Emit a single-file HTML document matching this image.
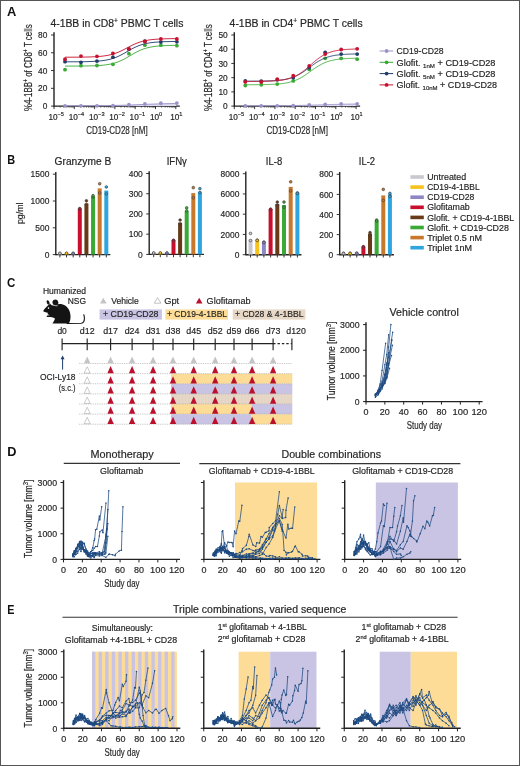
<!DOCTYPE html>
<html><head><meta charset="utf-8"><style>
html,body{margin:0;padding:0;background:#fff;}
svg{display:block;will-change:transform;}
text{font-family:"Liberation Sans",sans-serif;}
</style></head><body>
<svg width="520" height="766" viewBox="0 0 520 766">
<rect x="0" y="0" width="520" height="766" fill="#fff"/>
<text x="6.90" y="15.80" font-size="12.8" text-anchor="start" fill="#111" font-weight="bold" textLength="9.3" lengthAdjust="spacingAndGlyphs">A</text>
<text x="50.40" y="26.80" font-size="10.0" text-anchor="start" fill="#262626" font-weight="normal" stroke="#262626" stroke-width="0.18" textLength="133" lengthAdjust="spacingAndGlyphs">4-1BB in CD8<tspan font-size="6.4" dy="-3.8">+</tspan><tspan dy="3.8"> PBMC T cells</tspan></text>
<text x="229.60" y="26.80" font-size="10.0" text-anchor="start" fill="#262626" font-weight="normal" stroke="#262626" stroke-width="0.18" textLength="133" lengthAdjust="spacingAndGlyphs">4-1BB in CD4<tspan font-size="6.4" dy="-3.8">+</tspan><tspan dy="3.8"> PBMC T cells</tspan></text>
<line x1="54.00" y1="32.20" x2="54.00" y2="106.70" stroke="#222222" stroke-width="1.4"/>
<line x1="51.00" y1="106.10" x2="54.00" y2="106.10" stroke="#222222" stroke-width="0.9"/>
<text x="47.40" y="109.20" font-size="8.8" text-anchor="end" fill="#262626" font-weight="normal" stroke="#262626" stroke-width="0.18" textLength="4.65" lengthAdjust="spacingAndGlyphs">0</text>
<line x1="51.00" y1="88.32" x2="54.00" y2="88.32" stroke="#222222" stroke-width="0.9"/>
<text x="47.40" y="91.42" font-size="8.8" text-anchor="end" fill="#262626" font-weight="normal" stroke="#262626" stroke-width="0.18" textLength="9.3" lengthAdjust="spacingAndGlyphs">20</text>
<line x1="51.00" y1="70.55" x2="54.00" y2="70.55" stroke="#222222" stroke-width="0.9"/>
<text x="47.40" y="73.65" font-size="8.8" text-anchor="end" fill="#262626" font-weight="normal" stroke="#262626" stroke-width="0.18" textLength="9.3" lengthAdjust="spacingAndGlyphs">40</text>
<line x1="51.00" y1="52.77" x2="54.00" y2="52.77" stroke="#222222" stroke-width="0.9"/>
<text x="47.40" y="55.88" font-size="8.8" text-anchor="end" fill="#262626" font-weight="normal" stroke="#262626" stroke-width="0.18" textLength="9.3" lengthAdjust="spacingAndGlyphs">60</text>
<line x1="51.00" y1="35.00" x2="54.00" y2="35.00" stroke="#222222" stroke-width="0.9"/>
<text x="47.40" y="38.10" font-size="8.8" text-anchor="end" fill="#262626" font-weight="normal" stroke="#262626" stroke-width="0.18" textLength="9.3" lengthAdjust="spacingAndGlyphs">80</text>
<line x1="54.00" y1="106.10" x2="179.80" y2="106.10" stroke="#222222" stroke-width="1.4"/>
<line x1="54.00" y1="106.10" x2="54.00" y2="109.10" stroke="#222222" stroke-width="0.9"/>
<line x1="60.11" y1="106.10" x2="60.11" y2="107.70" stroke="#222222" stroke-width="0.6"/>
<line x1="63.69" y1="106.10" x2="63.69" y2="107.70" stroke="#222222" stroke-width="0.6"/>
<line x1="66.22" y1="106.10" x2="66.22" y2="107.70" stroke="#222222" stroke-width="0.6"/>
<line x1="68.19" y1="106.10" x2="68.19" y2="107.70" stroke="#222222" stroke-width="0.6"/>
<line x1="69.80" y1="106.10" x2="69.80" y2="107.70" stroke="#222222" stroke-width="0.6"/>
<line x1="71.16" y1="106.10" x2="71.16" y2="107.70" stroke="#222222" stroke-width="0.6"/>
<line x1="72.33" y1="106.10" x2="72.33" y2="107.70" stroke="#222222" stroke-width="0.6"/>
<line x1="73.37" y1="106.10" x2="73.37" y2="107.70" stroke="#222222" stroke-width="0.6"/>
<text x="48.40" y="119.60" font-size="8.2" text-anchor="start" fill="#262626" font-weight="normal" stroke="#262626" stroke-width="0.18">10<tspan font-size="5.6" dy="-3.6">−5</tspan></text>
<line x1="74.30" y1="106.10" x2="74.30" y2="109.10" stroke="#222222" stroke-width="0.9"/>
<line x1="80.41" y1="106.10" x2="80.41" y2="107.70" stroke="#222222" stroke-width="0.6"/>
<line x1="83.99" y1="106.10" x2="83.99" y2="107.70" stroke="#222222" stroke-width="0.6"/>
<line x1="86.52" y1="106.10" x2="86.52" y2="107.70" stroke="#222222" stroke-width="0.6"/>
<line x1="88.49" y1="106.10" x2="88.49" y2="107.70" stroke="#222222" stroke-width="0.6"/>
<line x1="90.10" y1="106.10" x2="90.10" y2="107.70" stroke="#222222" stroke-width="0.6"/>
<line x1="91.46" y1="106.10" x2="91.46" y2="107.70" stroke="#222222" stroke-width="0.6"/>
<line x1="92.63" y1="106.10" x2="92.63" y2="107.70" stroke="#222222" stroke-width="0.6"/>
<line x1="93.67" y1="106.10" x2="93.67" y2="107.70" stroke="#222222" stroke-width="0.6"/>
<text x="68.70" y="119.60" font-size="8.2" text-anchor="start" fill="#262626" font-weight="normal" stroke="#262626" stroke-width="0.18">10<tspan font-size="5.6" dy="-3.6">−4</tspan></text>
<line x1="94.60" y1="106.10" x2="94.60" y2="109.10" stroke="#222222" stroke-width="0.9"/>
<line x1="100.71" y1="106.10" x2="100.71" y2="107.70" stroke="#222222" stroke-width="0.6"/>
<line x1="104.29" y1="106.10" x2="104.29" y2="107.70" stroke="#222222" stroke-width="0.6"/>
<line x1="106.82" y1="106.10" x2="106.82" y2="107.70" stroke="#222222" stroke-width="0.6"/>
<line x1="108.79" y1="106.10" x2="108.79" y2="107.70" stroke="#222222" stroke-width="0.6"/>
<line x1="110.40" y1="106.10" x2="110.40" y2="107.70" stroke="#222222" stroke-width="0.6"/>
<line x1="111.76" y1="106.10" x2="111.76" y2="107.70" stroke="#222222" stroke-width="0.6"/>
<line x1="112.93" y1="106.10" x2="112.93" y2="107.70" stroke="#222222" stroke-width="0.6"/>
<line x1="113.97" y1="106.10" x2="113.97" y2="107.70" stroke="#222222" stroke-width="0.6"/>
<text x="89.00" y="119.60" font-size="8.2" text-anchor="start" fill="#262626" font-weight="normal" stroke="#262626" stroke-width="0.18">10<tspan font-size="5.6" dy="-3.6">−3</tspan></text>
<line x1="114.90" y1="106.10" x2="114.90" y2="109.10" stroke="#222222" stroke-width="0.9"/>
<line x1="121.01" y1="106.10" x2="121.01" y2="107.70" stroke="#222222" stroke-width="0.6"/>
<line x1="124.59" y1="106.10" x2="124.59" y2="107.70" stroke="#222222" stroke-width="0.6"/>
<line x1="127.12" y1="106.10" x2="127.12" y2="107.70" stroke="#222222" stroke-width="0.6"/>
<line x1="129.09" y1="106.10" x2="129.09" y2="107.70" stroke="#222222" stroke-width="0.6"/>
<line x1="130.70" y1="106.10" x2="130.70" y2="107.70" stroke="#222222" stroke-width="0.6"/>
<line x1="132.06" y1="106.10" x2="132.06" y2="107.70" stroke="#222222" stroke-width="0.6"/>
<line x1="133.23" y1="106.10" x2="133.23" y2="107.70" stroke="#222222" stroke-width="0.6"/>
<line x1="134.27" y1="106.10" x2="134.27" y2="107.70" stroke="#222222" stroke-width="0.6"/>
<text x="109.30" y="119.60" font-size="8.2" text-anchor="start" fill="#262626" font-weight="normal" stroke="#262626" stroke-width="0.18">10<tspan font-size="5.6" dy="-3.6">−2</tspan></text>
<line x1="135.20" y1="106.10" x2="135.20" y2="109.10" stroke="#222222" stroke-width="0.9"/>
<line x1="141.31" y1="106.10" x2="141.31" y2="107.70" stroke="#222222" stroke-width="0.6"/>
<line x1="144.89" y1="106.10" x2="144.89" y2="107.70" stroke="#222222" stroke-width="0.6"/>
<line x1="147.42" y1="106.10" x2="147.42" y2="107.70" stroke="#222222" stroke-width="0.6"/>
<line x1="149.39" y1="106.10" x2="149.39" y2="107.70" stroke="#222222" stroke-width="0.6"/>
<line x1="151.00" y1="106.10" x2="151.00" y2="107.70" stroke="#222222" stroke-width="0.6"/>
<line x1="152.36" y1="106.10" x2="152.36" y2="107.70" stroke="#222222" stroke-width="0.6"/>
<line x1="153.53" y1="106.10" x2="153.53" y2="107.70" stroke="#222222" stroke-width="0.6"/>
<line x1="154.57" y1="106.10" x2="154.57" y2="107.70" stroke="#222222" stroke-width="0.6"/>
<text x="129.60" y="119.60" font-size="8.2" text-anchor="start" fill="#262626" font-weight="normal" stroke="#262626" stroke-width="0.18">10<tspan font-size="5.6" dy="-3.6">−1</tspan></text>
<line x1="155.50" y1="106.10" x2="155.50" y2="109.10" stroke="#222222" stroke-width="0.9"/>
<line x1="161.61" y1="106.10" x2="161.61" y2="107.70" stroke="#222222" stroke-width="0.6"/>
<line x1="165.19" y1="106.10" x2="165.19" y2="107.70" stroke="#222222" stroke-width="0.6"/>
<line x1="167.72" y1="106.10" x2="167.72" y2="107.70" stroke="#222222" stroke-width="0.6"/>
<line x1="169.69" y1="106.10" x2="169.69" y2="107.70" stroke="#222222" stroke-width="0.6"/>
<line x1="171.30" y1="106.10" x2="171.30" y2="107.70" stroke="#222222" stroke-width="0.6"/>
<line x1="172.66" y1="106.10" x2="172.66" y2="107.70" stroke="#222222" stroke-width="0.6"/>
<line x1="173.83" y1="106.10" x2="173.83" y2="107.70" stroke="#222222" stroke-width="0.6"/>
<line x1="174.87" y1="106.10" x2="174.87" y2="107.70" stroke="#222222" stroke-width="0.6"/>
<text x="149.90" y="119.60" font-size="8.2" text-anchor="start" fill="#262626" font-weight="normal" stroke="#262626" stroke-width="0.18">10<tspan font-size="5.6" dy="-3.6">0</tspan></text>
<line x1="175.80" y1="106.10" x2="175.80" y2="109.10" stroke="#222222" stroke-width="0.9"/>
<text x="170.20" y="119.60" font-size="8.2" text-anchor="start" fill="#262626" font-weight="normal" stroke="#262626" stroke-width="0.18">10<tspan font-size="5.6" dy="-3.6">1</tspan></text>
<text x="116.90" y="134.40" font-size="10.8" text-anchor="middle" fill="#262626" font-weight="normal" stroke="#262626" stroke-width="0.18" textLength="61.5" lengthAdjust="spacingAndGlyphs">CD19-CD28 [nM]</text>
<text transform="translate(31.70,67.70) rotate(-90)" x="0" y="0" font-size="10.0" text-anchor="middle" fill="#262626" stroke="#262626" stroke-width="0.18" textLength="86.8" lengthAdjust="spacingAndGlyphs">%4-1BB<tspan font-size="6.5" dy="-3.6">+</tspan><tspan dy="3.6"> of CD8</tspan><tspan font-size="6.5" dy="-3.6">+</tspan><tspan dy="3.6"> T cells</tspan></text>
<polygon points="65.00,105.81 66.00,105.81 67.00,105.81 68.00,105.81 69.00,105.81 70.00,105.81 71.00,105.81 72.00,105.80 73.00,105.80 74.00,105.80 75.00,105.80 76.00,105.79 77.00,105.79 78.00,105.79 79.00,105.79 80.00,105.78 81.00,105.78 82.00,105.78 83.00,105.77 84.00,105.77 85.00,105.77 86.00,105.76 87.00,105.76 88.00,105.75 89.00,105.75 90.00,105.74 91.00,105.73 92.00,105.73 93.00,105.72 94.00,105.71 95.00,105.71 96.00,105.70 97.00,105.69 98.00,105.68 99.00,105.67 100.00,105.66 101.00,105.65 102.00,105.64 103.00,105.63 104.00,105.62 105.00,105.60 106.00,105.59 107.00,105.58 108.00,105.56 109.00,105.54 110.00,105.53 111.00,105.51 112.00,105.49 113.00,105.47 114.00,105.45 115.00,105.43 116.00,105.41 117.00,105.38 118.00,105.36 119.00,105.33 120.00,105.31 121.00,105.28 122.00,105.25 123.00,105.22 124.00,105.19 125.00,105.16 126.00,105.13 127.00,105.10 128.00,105.06 129.00,105.03 130.00,104.99 131.00,104.95 132.00,104.92 133.00,104.88 134.00,104.84 135.00,104.80 136.00,104.76 137.00,104.72 138.00,104.68 139.00,104.64 140.00,104.60 141.00,104.56 142.00,104.52 143.00,104.47 144.00,104.43 145.00,104.39 146.00,104.35 147.00,104.31 148.00,104.27 149.00,104.23 150.00,104.19 151.00,104.16 152.00,104.12 153.00,104.08 154.00,104.05 155.00,104.01 156.00,103.98 157.00,103.95 158.00,103.91 159.00,103.88 160.00,103.85 161.00,103.82 162.00,103.80 163.00,103.77 164.00,103.74 165.00,103.72 166.00,103.70 167.00,103.67 168.00,103.65 169.00,103.63 170.00,103.61 171.00,103.59 172.00,103.57 173.00,103.56 174.00,103.54 175.00,103.52 176.00,103.51 176.00,106.10 65.00,106.10" fill="#dedaf0"/>
<polyline points="65.00,105.81 66.00,105.81 67.00,105.81 68.00,105.81 69.00,105.81 70.00,105.81 71.00,105.81 72.00,105.80 73.00,105.80 74.00,105.80 75.00,105.80 76.00,105.79 77.00,105.79 78.00,105.79 79.00,105.79 80.00,105.78 81.00,105.78 82.00,105.78 83.00,105.77 84.00,105.77 85.00,105.77 86.00,105.76 87.00,105.76 88.00,105.75 89.00,105.75 90.00,105.74 91.00,105.73 92.00,105.73 93.00,105.72 94.00,105.71 95.00,105.71 96.00,105.70 97.00,105.69 98.00,105.68 99.00,105.67 100.00,105.66 101.00,105.65 102.00,105.64 103.00,105.63 104.00,105.62 105.00,105.60 106.00,105.59 107.00,105.58 108.00,105.56 109.00,105.54 110.00,105.53 111.00,105.51 112.00,105.49 113.00,105.47 114.00,105.45 115.00,105.43 116.00,105.41 117.00,105.38 118.00,105.36 119.00,105.33 120.00,105.31 121.00,105.28 122.00,105.25 123.00,105.22 124.00,105.19 125.00,105.16 126.00,105.13 127.00,105.10 128.00,105.06 129.00,105.03 130.00,104.99 131.00,104.95 132.00,104.92 133.00,104.88 134.00,104.84 135.00,104.80 136.00,104.76 137.00,104.72 138.00,104.68 139.00,104.64 140.00,104.60 141.00,104.56 142.00,104.52 143.00,104.47 144.00,104.43 145.00,104.39 146.00,104.35 147.00,104.31 148.00,104.27 149.00,104.23 150.00,104.19 151.00,104.16 152.00,104.12 153.00,104.08 154.00,104.05 155.00,104.01 156.00,103.98 157.00,103.95 158.00,103.91 159.00,103.88 160.00,103.85 161.00,103.82 162.00,103.80 163.00,103.77 164.00,103.74 165.00,103.72 166.00,103.70 167.00,103.67 168.00,103.65 169.00,103.63 170.00,103.61 171.00,103.59 172.00,103.57 173.00,103.56 174.00,103.54 175.00,103.52 176.00,103.51" fill="none" stroke="#9a93c8" stroke-width="0.9"/>
<circle cx="65.00" cy="105.83" r="1.9" fill="#9a93c8" stroke="none" stroke-width="0.6"/>
<circle cx="80.98" cy="105.83" r="1.9" fill="#9a93c8" stroke="none" stroke-width="0.6"/>
<circle cx="96.96" cy="105.83" r="1.9" fill="#9a93c8" stroke="none" stroke-width="0.6"/>
<circle cx="112.94" cy="105.66" r="1.9" fill="#9a93c8" stroke="none" stroke-width="0.6"/>
<circle cx="128.92" cy="104.77" r="1.9" fill="#9a93c8" stroke="none" stroke-width="0.6"/>
<circle cx="144.90" cy="103.88" r="1.9" fill="#9a93c8" stroke="none" stroke-width="0.6"/>
<circle cx="160.88" cy="103.26" r="1.9" fill="#9a93c8" stroke="none" stroke-width="0.6"/>
<circle cx="176.86" cy="103.08" r="1.9" fill="#9a93c8" stroke="none" stroke-width="0.6"/>
<polyline points="65.00,66.09 66.00,66.09 67.00,66.09 68.00,66.09 69.00,66.09 70.00,66.08 71.00,66.08 72.00,66.08 73.00,66.07 74.00,66.07 75.00,66.07 76.00,66.06 77.00,66.06 78.00,66.05 79.00,66.04 80.00,66.04 81.00,66.03 82.00,66.02 83.00,66.01 84.00,65.99 85.00,65.98 86.00,65.97 87.00,65.95 88.00,65.93 89.00,65.91 90.00,65.89 91.00,65.86 92.00,65.83 93.00,65.80 94.00,65.76 95.00,65.72 96.00,65.68 97.00,65.63 98.00,65.57 99.00,65.51 100.00,65.44 101.00,65.36 102.00,65.28 103.00,65.18 104.00,65.08 105.00,64.96 106.00,64.83 107.00,64.69 108.00,64.53 109.00,64.36 110.00,64.17 111.00,63.96 112.00,63.73 113.00,63.48 114.00,63.21 115.00,62.92 116.00,62.60 117.00,62.26 118.00,61.89 119.00,61.49 120.00,61.07 121.00,60.63 122.00,60.16 123.00,59.66 124.00,59.15 125.00,58.61 126.00,58.06 127.00,57.49 128.00,56.91 129.00,56.33 130.00,55.74 131.00,55.15 132.00,54.56 133.00,53.98 134.00,53.41 135.00,52.85 136.00,52.31 137.00,51.79 138.00,51.29 139.00,50.81 140.00,50.36 141.00,49.94 142.00,49.54 143.00,49.16 144.00,48.81 145.00,48.49 146.00,48.19 147.00,47.91 148.00,47.66 149.00,47.42 150.00,47.21 151.00,47.01 152.00,46.84 153.00,46.68 154.00,46.53 155.00,46.40 156.00,46.28 157.00,46.17 158.00,46.07 159.00,45.98 160.00,45.91 161.00,45.83 162.00,45.77 163.00,45.71 164.00,45.66 165.00,45.61 166.00,45.57 167.00,45.54 168.00,45.50 169.00,45.47 170.00,45.45 171.00,45.42 172.00,45.40 173.00,45.38 174.00,45.36 175.00,45.35 176.00,45.34" fill="none" stroke="#3aa935" stroke-width="0.9"/>
<circle cx="65.00" cy="69.66" r="1.9" fill="#3aa935" stroke="none" stroke-width="0.6"/>
<circle cx="80.98" cy="65.66" r="1.9" fill="#3aa935" stroke="none" stroke-width="0.6"/>
<circle cx="96.96" cy="65.48" r="1.9" fill="#3aa935" stroke="none" stroke-width="0.6"/>
<circle cx="112.94" cy="64.33" r="1.9" fill="#3aa935" stroke="none" stroke-width="0.6"/>
<circle cx="128.92" cy="53.66" r="1.9" fill="#3aa935" stroke="none" stroke-width="0.6"/>
<circle cx="144.90" cy="45.22" r="1.9" fill="#3aa935" stroke="none" stroke-width="0.6"/>
<circle cx="160.88" cy="45.22" r="1.9" fill="#3aa935" stroke="none" stroke-width="0.6"/>
<circle cx="176.86" cy="45.66" r="1.9" fill="#3aa935" stroke="none" stroke-width="0.6"/>
<polyline points="65.00,61.82 66.00,61.82 67.00,61.82 68.00,61.81 69.00,61.81 70.00,61.81 71.00,61.80 72.00,61.80 73.00,61.80 74.00,61.79 75.00,61.78 76.00,61.78 77.00,61.77 78.00,61.76 79.00,61.75 80.00,61.74 81.00,61.73 82.00,61.72 83.00,61.70 84.00,61.69 85.00,61.67 86.00,61.65 87.00,61.62 88.00,61.60 89.00,61.57 90.00,61.54 91.00,61.50 92.00,61.46 93.00,61.42 94.00,61.37 95.00,61.31 96.00,61.25 97.00,61.19 98.00,61.11 99.00,61.03 100.00,60.93 101.00,60.83 102.00,60.71 103.00,60.59 104.00,60.45 105.00,60.29 106.00,60.12 107.00,59.93 108.00,59.73 109.00,59.51 110.00,59.26 111.00,58.99 112.00,58.71 113.00,58.39 114.00,58.06 115.00,57.69 116.00,57.31 117.00,56.89 118.00,56.46 119.00,56.00 120.00,55.51 121.00,55.01 122.00,54.48 123.00,53.94 124.00,53.39 125.00,52.82 126.00,52.24 127.00,51.67 128.00,51.09 129.00,50.51 130.00,49.94 131.00,49.39 132.00,48.84 133.00,48.31 134.00,47.81 135.00,47.32 136.00,46.85 137.00,46.41 138.00,46.00 139.00,45.61 140.00,45.24 141.00,44.90 142.00,44.58 143.00,44.29 144.00,44.02 145.00,43.77 146.00,43.54 147.00,43.34 148.00,43.15 149.00,42.97 150.00,42.82 151.00,42.67 152.00,42.55 153.00,42.43 154.00,42.32 155.00,42.23 156.00,42.14 157.00,42.07 158.00,42.00 159.00,41.93 160.00,41.88 161.00,41.83 162.00,41.78 163.00,41.74 164.00,41.71 165.00,41.67 166.00,41.64 167.00,41.62 168.00,41.60 169.00,41.57 170.00,41.56 171.00,41.54 172.00,41.52 173.00,41.51 174.00,41.50 175.00,41.49 176.00,41.48" fill="none" stroke="#1e3d6b" stroke-width="0.9"/>
<circle cx="65.00" cy="61.66" r="1.9" fill="#1e3d6b" stroke="none" stroke-width="0.6"/>
<circle cx="80.98" cy="62.28" r="1.9" fill="#1e3d6b" stroke="none" stroke-width="0.6"/>
<circle cx="96.96" cy="61.04" r="1.9" fill="#1e3d6b" stroke="none" stroke-width="0.6"/>
<circle cx="112.94" cy="57.22" r="1.9" fill="#1e3d6b" stroke="none" stroke-width="0.6"/>
<circle cx="128.92" cy="49.22" r="1.9" fill="#1e3d6b" stroke="none" stroke-width="0.6"/>
<circle cx="144.90" cy="41.22" r="1.9" fill="#1e3d6b" stroke="none" stroke-width="0.6"/>
<circle cx="160.88" cy="42.11" r="1.9" fill="#1e3d6b" stroke="none" stroke-width="0.6"/>
<circle cx="176.86" cy="41.84" r="1.9" fill="#1e3d6b" stroke="none" stroke-width="0.6"/>
<polyline points="65.00,57.20 66.00,57.20 67.00,57.20 68.00,57.20 69.00,57.19 70.00,57.19 71.00,57.19 72.00,57.18 73.00,57.18 74.00,57.17 75.00,57.17 76.00,57.16 77.00,57.15 78.00,57.15 79.00,57.14 80.00,57.13 81.00,57.12 82.00,57.11 83.00,57.09 84.00,57.08 85.00,57.06 86.00,57.04 87.00,57.02 88.00,57.00 89.00,56.97 90.00,56.94 91.00,56.91 92.00,56.87 93.00,56.83 94.00,56.79 95.00,56.74 96.00,56.68 97.00,56.62 98.00,56.55 99.00,56.47 100.00,56.39 101.00,56.29 102.00,56.19 103.00,56.07 104.00,55.95 105.00,55.81 106.00,55.65 107.00,55.48 108.00,55.29 109.00,55.09 110.00,54.86 111.00,54.62 112.00,54.36 113.00,54.07 114.00,53.76 115.00,53.43 116.00,53.08 117.00,52.70 118.00,52.30 119.00,51.88 120.00,51.44 121.00,50.98 122.00,50.50 123.00,50.01 124.00,49.50 125.00,48.98 126.00,48.46 127.00,47.93 128.00,47.40 129.00,46.88 130.00,46.36 131.00,45.85 132.00,45.35 133.00,44.87 134.00,44.41 135.00,43.96 136.00,43.54 137.00,43.13 138.00,42.75 139.00,42.40 140.00,42.06 141.00,41.75 142.00,41.46 143.00,41.19 144.00,40.95 145.00,40.72 146.00,40.51 147.00,40.32 148.00,40.15 149.00,39.99 150.00,39.85 151.00,39.72 152.00,39.60 153.00,39.50 154.00,39.40 155.00,39.31 156.00,39.23 157.00,39.16 158.00,39.10 159.00,39.04 160.00,38.99 161.00,38.95 162.00,38.91 163.00,38.87 164.00,38.84 165.00,38.81 166.00,38.78 167.00,38.76 168.00,38.73 169.00,38.72 170.00,38.70 171.00,38.68 172.00,38.67 173.00,38.66 174.00,38.65 175.00,38.64 176.00,38.63" fill="none" stroke="#c8102e" stroke-width="0.9"/>
<circle cx="65.00" cy="59.26" r="1.9" fill="#c8102e" stroke="none" stroke-width="0.6"/>
<circle cx="80.98" cy="56.06" r="1.9" fill="#c8102e" stroke="none" stroke-width="0.6"/>
<circle cx="96.96" cy="56.33" r="1.9" fill="#c8102e" stroke="none" stroke-width="0.6"/>
<circle cx="112.94" cy="53.31" r="1.9" fill="#c8102e" stroke="none" stroke-width="0.6"/>
<circle cx="128.92" cy="48.78" r="1.9" fill="#c8102e" stroke="none" stroke-width="0.6"/>
<circle cx="144.90" cy="41.49" r="1.9" fill="#c8102e" stroke="none" stroke-width="0.6"/>
<circle cx="160.88" cy="39.00" r="1.9" fill="#c8102e" stroke="none" stroke-width="0.6"/>
<circle cx="176.86" cy="39.00" r="1.9" fill="#c8102e" stroke="none" stroke-width="0.6"/>
<line x1="234.30" y1="32.20" x2="234.30" y2="106.70" stroke="#222222" stroke-width="1.4"/>
<line x1="231.30" y1="106.10" x2="234.30" y2="106.10" stroke="#222222" stroke-width="0.9"/>
<text x="227.70" y="109.20" font-size="8.8" text-anchor="end" fill="#262626" font-weight="normal" stroke="#262626" stroke-width="0.18" textLength="4.65" lengthAdjust="spacingAndGlyphs">0</text>
<line x1="231.30" y1="91.88" x2="234.30" y2="91.88" stroke="#222222" stroke-width="0.9"/>
<text x="227.70" y="94.98" font-size="8.8" text-anchor="end" fill="#262626" font-weight="normal" stroke="#262626" stroke-width="0.18" textLength="9.3" lengthAdjust="spacingAndGlyphs">10</text>
<line x1="231.30" y1="77.66" x2="234.30" y2="77.66" stroke="#222222" stroke-width="0.9"/>
<text x="227.70" y="80.76" font-size="8.8" text-anchor="end" fill="#262626" font-weight="normal" stroke="#262626" stroke-width="0.18" textLength="9.3" lengthAdjust="spacingAndGlyphs">20</text>
<line x1="231.30" y1="63.44" x2="234.30" y2="63.44" stroke="#222222" stroke-width="0.9"/>
<text x="227.70" y="66.54" font-size="8.8" text-anchor="end" fill="#262626" font-weight="normal" stroke="#262626" stroke-width="0.18" textLength="9.3" lengthAdjust="spacingAndGlyphs">30</text>
<line x1="231.30" y1="49.22" x2="234.30" y2="49.22" stroke="#222222" stroke-width="0.9"/>
<text x="227.70" y="52.32" font-size="8.8" text-anchor="end" fill="#262626" font-weight="normal" stroke="#262626" stroke-width="0.18" textLength="9.3" lengthAdjust="spacingAndGlyphs">40</text>
<line x1="231.30" y1="35.00" x2="234.30" y2="35.00" stroke="#222222" stroke-width="0.9"/>
<text x="227.70" y="38.10" font-size="8.8" text-anchor="end" fill="#262626" font-weight="normal" stroke="#262626" stroke-width="0.18" textLength="9.3" lengthAdjust="spacingAndGlyphs">50</text>
<line x1="234.30" y1="106.10" x2="360.10" y2="106.10" stroke="#222222" stroke-width="1.4"/>
<line x1="234.30" y1="106.10" x2="234.30" y2="109.10" stroke="#222222" stroke-width="0.9"/>
<line x1="240.41" y1="106.10" x2="240.41" y2="107.70" stroke="#222222" stroke-width="0.6"/>
<line x1="243.99" y1="106.10" x2="243.99" y2="107.70" stroke="#222222" stroke-width="0.6"/>
<line x1="246.52" y1="106.10" x2="246.52" y2="107.70" stroke="#222222" stroke-width="0.6"/>
<line x1="248.49" y1="106.10" x2="248.49" y2="107.70" stroke="#222222" stroke-width="0.6"/>
<line x1="250.10" y1="106.10" x2="250.10" y2="107.70" stroke="#222222" stroke-width="0.6"/>
<line x1="251.46" y1="106.10" x2="251.46" y2="107.70" stroke="#222222" stroke-width="0.6"/>
<line x1="252.63" y1="106.10" x2="252.63" y2="107.70" stroke="#222222" stroke-width="0.6"/>
<line x1="253.67" y1="106.10" x2="253.67" y2="107.70" stroke="#222222" stroke-width="0.6"/>
<text x="228.70" y="119.60" font-size="8.2" text-anchor="start" fill="#262626" font-weight="normal" stroke="#262626" stroke-width="0.18">10<tspan font-size="5.6" dy="-3.6">−5</tspan></text>
<line x1="254.60" y1="106.10" x2="254.60" y2="109.10" stroke="#222222" stroke-width="0.9"/>
<line x1="260.71" y1="106.10" x2="260.71" y2="107.70" stroke="#222222" stroke-width="0.6"/>
<line x1="264.29" y1="106.10" x2="264.29" y2="107.70" stroke="#222222" stroke-width="0.6"/>
<line x1="266.82" y1="106.10" x2="266.82" y2="107.70" stroke="#222222" stroke-width="0.6"/>
<line x1="268.79" y1="106.10" x2="268.79" y2="107.70" stroke="#222222" stroke-width="0.6"/>
<line x1="270.40" y1="106.10" x2="270.40" y2="107.70" stroke="#222222" stroke-width="0.6"/>
<line x1="271.76" y1="106.10" x2="271.76" y2="107.70" stroke="#222222" stroke-width="0.6"/>
<line x1="272.93" y1="106.10" x2="272.93" y2="107.70" stroke="#222222" stroke-width="0.6"/>
<line x1="273.97" y1="106.10" x2="273.97" y2="107.70" stroke="#222222" stroke-width="0.6"/>
<text x="249.00" y="119.60" font-size="8.2" text-anchor="start" fill="#262626" font-weight="normal" stroke="#262626" stroke-width="0.18">10<tspan font-size="5.6" dy="-3.6">−4</tspan></text>
<line x1="274.90" y1="106.10" x2="274.90" y2="109.10" stroke="#222222" stroke-width="0.9"/>
<line x1="281.01" y1="106.10" x2="281.01" y2="107.70" stroke="#222222" stroke-width="0.6"/>
<line x1="284.59" y1="106.10" x2="284.59" y2="107.70" stroke="#222222" stroke-width="0.6"/>
<line x1="287.12" y1="106.10" x2="287.12" y2="107.70" stroke="#222222" stroke-width="0.6"/>
<line x1="289.09" y1="106.10" x2="289.09" y2="107.70" stroke="#222222" stroke-width="0.6"/>
<line x1="290.70" y1="106.10" x2="290.70" y2="107.70" stroke="#222222" stroke-width="0.6"/>
<line x1="292.06" y1="106.10" x2="292.06" y2="107.70" stroke="#222222" stroke-width="0.6"/>
<line x1="293.23" y1="106.10" x2="293.23" y2="107.70" stroke="#222222" stroke-width="0.6"/>
<line x1="294.27" y1="106.10" x2="294.27" y2="107.70" stroke="#222222" stroke-width="0.6"/>
<text x="269.30" y="119.60" font-size="8.2" text-anchor="start" fill="#262626" font-weight="normal" stroke="#262626" stroke-width="0.18">10<tspan font-size="5.6" dy="-3.6">−3</tspan></text>
<line x1="295.20" y1="106.10" x2="295.20" y2="109.10" stroke="#222222" stroke-width="0.9"/>
<line x1="301.31" y1="106.10" x2="301.31" y2="107.70" stroke="#222222" stroke-width="0.6"/>
<line x1="304.89" y1="106.10" x2="304.89" y2="107.70" stroke="#222222" stroke-width="0.6"/>
<line x1="307.42" y1="106.10" x2="307.42" y2="107.70" stroke="#222222" stroke-width="0.6"/>
<line x1="309.39" y1="106.10" x2="309.39" y2="107.70" stroke="#222222" stroke-width="0.6"/>
<line x1="311.00" y1="106.10" x2="311.00" y2="107.70" stroke="#222222" stroke-width="0.6"/>
<line x1="312.36" y1="106.10" x2="312.36" y2="107.70" stroke="#222222" stroke-width="0.6"/>
<line x1="313.53" y1="106.10" x2="313.53" y2="107.70" stroke="#222222" stroke-width="0.6"/>
<line x1="314.57" y1="106.10" x2="314.57" y2="107.70" stroke="#222222" stroke-width="0.6"/>
<text x="289.60" y="119.60" font-size="8.2" text-anchor="start" fill="#262626" font-weight="normal" stroke="#262626" stroke-width="0.18">10<tspan font-size="5.6" dy="-3.6">−2</tspan></text>
<line x1="315.50" y1="106.10" x2="315.50" y2="109.10" stroke="#222222" stroke-width="0.9"/>
<line x1="321.61" y1="106.10" x2="321.61" y2="107.70" stroke="#222222" stroke-width="0.6"/>
<line x1="325.19" y1="106.10" x2="325.19" y2="107.70" stroke="#222222" stroke-width="0.6"/>
<line x1="327.72" y1="106.10" x2="327.72" y2="107.70" stroke="#222222" stroke-width="0.6"/>
<line x1="329.69" y1="106.10" x2="329.69" y2="107.70" stroke="#222222" stroke-width="0.6"/>
<line x1="331.30" y1="106.10" x2="331.30" y2="107.70" stroke="#222222" stroke-width="0.6"/>
<line x1="332.66" y1="106.10" x2="332.66" y2="107.70" stroke="#222222" stroke-width="0.6"/>
<line x1="333.83" y1="106.10" x2="333.83" y2="107.70" stroke="#222222" stroke-width="0.6"/>
<line x1="334.87" y1="106.10" x2="334.87" y2="107.70" stroke="#222222" stroke-width="0.6"/>
<text x="309.90" y="119.60" font-size="8.2" text-anchor="start" fill="#262626" font-weight="normal" stroke="#262626" stroke-width="0.18">10<tspan font-size="5.6" dy="-3.6">−1</tspan></text>
<line x1="335.80" y1="106.10" x2="335.80" y2="109.10" stroke="#222222" stroke-width="0.9"/>
<line x1="341.91" y1="106.10" x2="341.91" y2="107.70" stroke="#222222" stroke-width="0.6"/>
<line x1="345.49" y1="106.10" x2="345.49" y2="107.70" stroke="#222222" stroke-width="0.6"/>
<line x1="348.02" y1="106.10" x2="348.02" y2="107.70" stroke="#222222" stroke-width="0.6"/>
<line x1="349.99" y1="106.10" x2="349.99" y2="107.70" stroke="#222222" stroke-width="0.6"/>
<line x1="351.60" y1="106.10" x2="351.60" y2="107.70" stroke="#222222" stroke-width="0.6"/>
<line x1="352.96" y1="106.10" x2="352.96" y2="107.70" stroke="#222222" stroke-width="0.6"/>
<line x1="354.13" y1="106.10" x2="354.13" y2="107.70" stroke="#222222" stroke-width="0.6"/>
<line x1="355.17" y1="106.10" x2="355.17" y2="107.70" stroke="#222222" stroke-width="0.6"/>
<text x="330.20" y="119.60" font-size="8.2" text-anchor="start" fill="#262626" font-weight="normal" stroke="#262626" stroke-width="0.18">10<tspan font-size="5.6" dy="-3.6">0</tspan></text>
<line x1="356.10" y1="106.10" x2="356.10" y2="109.10" stroke="#222222" stroke-width="0.9"/>
<text x="350.50" y="119.60" font-size="8.2" text-anchor="start" fill="#262626" font-weight="normal" stroke="#262626" stroke-width="0.18">10<tspan font-size="5.6" dy="-3.6">1</tspan></text>
<text x="297.20" y="134.40" font-size="10.8" text-anchor="middle" fill="#262626" font-weight="normal" stroke="#262626" stroke-width="0.18" textLength="61.5" lengthAdjust="spacingAndGlyphs">CD19-CD28 [nM]</text>
<text transform="translate(212.00,67.70) rotate(-90)" x="0" y="0" font-size="10.0" text-anchor="middle" fill="#262626" stroke="#262626" stroke-width="0.18" textLength="86.8" lengthAdjust="spacingAndGlyphs">%4-1BB<tspan font-size="6.5" dy="-3.6">+</tspan><tspan dy="3.6"> of CD4</tspan><tspan font-size="6.5" dy="-3.6">+</tspan><tspan dy="3.6"> T cells</tspan></text>
<polygon points="245.30,105.80 246.30,105.80 247.30,105.80 248.30,105.80 249.30,105.80 250.30,105.80 251.30,105.79 252.30,105.79 253.30,105.79 254.30,105.79 255.30,105.79 256.30,105.79 257.30,105.78 258.30,105.78 259.30,105.78 260.30,105.78 261.30,105.77 262.30,105.77 263.30,105.77 264.30,105.77 265.30,105.76 266.30,105.76 267.30,105.76 268.30,105.75 269.30,105.75 270.30,105.74 271.30,105.74 272.30,105.73 273.30,105.73 274.30,105.72 275.30,105.72 276.30,105.71 277.30,105.71 278.30,105.70 279.30,105.69 280.30,105.68 281.30,105.68 282.30,105.67 283.30,105.66 284.30,105.65 285.30,105.64 286.30,105.63 287.30,105.62 288.30,105.60 289.30,105.59 290.30,105.58 291.30,105.57 292.30,105.55 293.30,105.54 294.30,105.52 295.30,105.50 296.30,105.49 297.30,105.47 298.30,105.45 299.30,105.43 300.30,105.41 301.30,105.39 302.30,105.37 303.30,105.34 304.30,105.32 305.30,105.30 306.30,105.27 307.30,105.25 308.30,105.22 309.30,105.19 310.30,105.17 311.30,105.14 312.30,105.11 313.30,105.08 314.30,105.05 315.30,105.02 316.30,104.99 317.30,104.96 318.30,104.92 319.30,104.89 320.30,104.86 321.30,104.83 322.30,104.80 323.30,104.77 324.30,104.73 325.30,104.70 326.30,104.67 327.30,104.64 328.30,104.61 329.30,104.58 330.30,104.55 331.30,104.52 332.30,104.49 333.30,104.46 334.30,104.44 335.30,104.41 336.30,104.38 337.30,104.36 338.30,104.33 339.30,104.31 340.30,104.29 341.30,104.26 342.30,104.24 343.30,104.22 344.30,104.20 345.30,104.18 346.30,104.16 347.30,104.15 348.30,104.13 349.30,104.11 350.30,104.10 351.30,104.08 352.30,104.07 353.30,104.06 354.30,104.04 355.30,104.03 356.30,104.02 356.30,106.10 245.30,106.10" fill="#dedaf0"/>
<polyline points="245.30,105.80 246.30,105.80 247.30,105.80 248.30,105.80 249.30,105.80 250.30,105.80 251.30,105.79 252.30,105.79 253.30,105.79 254.30,105.79 255.30,105.79 256.30,105.79 257.30,105.78 258.30,105.78 259.30,105.78 260.30,105.78 261.30,105.77 262.30,105.77 263.30,105.77 264.30,105.77 265.30,105.76 266.30,105.76 267.30,105.76 268.30,105.75 269.30,105.75 270.30,105.74 271.30,105.74 272.30,105.73 273.30,105.73 274.30,105.72 275.30,105.72 276.30,105.71 277.30,105.71 278.30,105.70 279.30,105.69 280.30,105.68 281.30,105.68 282.30,105.67 283.30,105.66 284.30,105.65 285.30,105.64 286.30,105.63 287.30,105.62 288.30,105.60 289.30,105.59 290.30,105.58 291.30,105.57 292.30,105.55 293.30,105.54 294.30,105.52 295.30,105.50 296.30,105.49 297.30,105.47 298.30,105.45 299.30,105.43 300.30,105.41 301.30,105.39 302.30,105.37 303.30,105.34 304.30,105.32 305.30,105.30 306.30,105.27 307.30,105.25 308.30,105.22 309.30,105.19 310.30,105.17 311.30,105.14 312.30,105.11 313.30,105.08 314.30,105.05 315.30,105.02 316.30,104.99 317.30,104.96 318.30,104.92 319.30,104.89 320.30,104.86 321.30,104.83 322.30,104.80 323.30,104.77 324.30,104.73 325.30,104.70 326.30,104.67 327.30,104.64 328.30,104.61 329.30,104.58 330.30,104.55 331.30,104.52 332.30,104.49 333.30,104.46 334.30,104.44 335.30,104.41 336.30,104.38 337.30,104.36 338.30,104.33 339.30,104.31 340.30,104.29 341.30,104.26 342.30,104.24 343.30,104.22 344.30,104.20 345.30,104.18 346.30,104.16 347.30,104.15 348.30,104.13 349.30,104.11 350.30,104.10 351.30,104.08 352.30,104.07 353.30,104.06 354.30,104.04 355.30,104.03 356.30,104.02" fill="none" stroke="#9a93c8" stroke-width="0.9"/>
<circle cx="245.30" cy="105.82" r="1.9" fill="#9a93c8" stroke="none" stroke-width="0.6"/>
<circle cx="261.28" cy="105.82" r="1.9" fill="#9a93c8" stroke="none" stroke-width="0.6"/>
<circle cx="277.26" cy="105.82" r="1.9" fill="#9a93c8" stroke="none" stroke-width="0.6"/>
<circle cx="293.24" cy="105.67" r="1.9" fill="#9a93c8" stroke="none" stroke-width="0.6"/>
<circle cx="309.22" cy="104.96" r="1.9" fill="#9a93c8" stroke="none" stroke-width="0.6"/>
<circle cx="325.20" cy="104.39" r="1.9" fill="#9a93c8" stroke="none" stroke-width="0.6"/>
<circle cx="341.18" cy="103.97" r="1.9" fill="#9a93c8" stroke="none" stroke-width="0.6"/>
<circle cx="357.16" cy="103.82" r="1.9" fill="#9a93c8" stroke="none" stroke-width="0.6"/>
<polyline points="245.30,84.75 246.30,84.74 247.30,84.74 248.30,84.74 249.30,84.73 250.30,84.73 251.30,84.73 252.30,84.72 253.30,84.72 254.30,84.71 255.30,84.70 256.30,84.69 257.30,84.69 258.30,84.68 259.30,84.67 260.30,84.65 261.30,84.64 262.30,84.63 263.30,84.61 264.30,84.59 265.30,84.57 266.30,84.55 267.30,84.52 268.30,84.49 269.30,84.46 270.30,84.43 271.30,84.39 272.30,84.35 273.30,84.30 274.30,84.25 275.30,84.19 276.30,84.12 277.30,84.05 278.30,83.97 279.30,83.88 280.30,83.79 281.30,83.68 282.30,83.56 283.30,83.43 284.30,83.28 285.30,83.12 286.30,82.95 287.30,82.75 288.30,82.54 289.30,82.31 290.30,82.06 291.30,81.78 292.30,81.48 293.30,81.16 294.30,80.80 295.30,80.42 296.30,80.01 297.30,79.58 298.30,79.11 299.30,78.61 300.30,78.08 301.30,77.52 302.30,76.94 303.30,76.32 304.30,75.68 305.30,75.02 306.30,74.34 307.30,73.65 308.30,72.94 309.30,72.22 310.30,71.49 311.30,70.77 312.30,70.05 313.30,69.34 314.30,68.64 315.30,67.95 316.30,67.29 317.30,66.64 318.30,66.02 319.30,65.43 320.30,64.86 321.30,64.33 322.30,63.82 323.30,63.34 324.30,62.90 325.30,62.48 326.30,62.09 327.30,61.74 328.30,61.40 329.30,61.10 330.30,60.82 331.30,60.56 332.30,60.32 333.30,60.10 334.30,59.91 335.30,59.73 336.30,59.56 337.30,59.41 338.30,59.28 339.30,59.16 340.30,59.05 341.30,58.95 342.30,58.86 343.30,58.77 344.30,58.70 345.30,58.63 346.30,58.57 347.30,58.52 348.30,58.47 349.30,58.43 350.30,58.39 351.30,58.35 352.30,58.32 353.30,58.29 354.30,58.26 355.30,58.24 356.30,58.22" fill="none" stroke="#3aa935" stroke-width="0.9"/>
<circle cx="245.30" cy="85.48" r="1.9" fill="#3aa935" stroke="none" stroke-width="0.6"/>
<circle cx="261.28" cy="84.77" r="1.9" fill="#3aa935" stroke="none" stroke-width="0.6"/>
<circle cx="277.26" cy="84.06" r="1.9" fill="#3aa935" stroke="none" stroke-width="0.6"/>
<circle cx="293.24" cy="80.93" r="1.9" fill="#3aa935" stroke="none" stroke-width="0.6"/>
<circle cx="309.22" cy="69.41" r="1.9" fill="#3aa935" stroke="none" stroke-width="0.6"/>
<circle cx="325.20" cy="58.32" r="1.9" fill="#3aa935" stroke="none" stroke-width="0.6"/>
<circle cx="341.18" cy="58.32" r="1.9" fill="#3aa935" stroke="none" stroke-width="0.6"/>
<circle cx="357.16" cy="59.17" r="1.9" fill="#3aa935" stroke="none" stroke-width="0.6"/>
<polyline points="245.30,81.19 246.30,81.19 247.30,81.18 248.30,81.18 249.30,81.17 250.30,81.17 251.30,81.16 252.30,81.16 253.30,81.15 254.30,81.15 255.30,81.14 256.30,81.13 257.30,81.12 258.30,81.11 259.30,81.10 260.30,81.08 261.30,81.07 262.30,81.05 263.30,81.03 264.30,81.01 265.30,80.99 266.30,80.96 267.30,80.93 268.30,80.90 269.30,80.86 270.30,80.82 271.30,80.78 272.30,80.73 273.30,80.68 274.30,80.62 275.30,80.55 276.30,80.48 277.30,80.39 278.30,80.30 279.30,80.20 280.30,80.09 281.30,79.97 282.30,79.83 283.30,79.69 284.30,79.52 285.30,79.34 286.30,79.14 287.30,78.92 288.30,78.69 289.30,78.43 290.30,78.14 291.30,77.83 292.30,77.50 293.30,77.14 294.30,76.75 295.30,76.33 296.30,75.88 297.30,75.39 298.30,74.88 299.30,74.34 300.30,73.77 301.30,73.16 302.30,72.53 303.30,71.88 304.30,71.20 305.30,70.50 306.30,69.78 307.30,69.05 308.30,68.32 309.30,67.57 310.30,66.83 311.30,66.09 312.30,65.36 313.30,64.64 314.30,63.94 315.30,63.26 316.30,62.59 317.30,61.96 318.30,61.35 319.30,60.77 320.30,60.22 321.30,59.70 322.30,59.21 323.30,58.76 324.30,58.33 325.30,57.93 326.30,57.56 327.30,57.22 328.30,56.91 329.30,56.62 330.30,56.35 331.30,56.11 332.30,55.89 333.30,55.69 334.30,55.50 335.30,55.34 336.30,55.18 337.30,55.04 338.30,54.92 339.30,54.81 340.30,54.70 341.30,54.61 342.30,54.53 343.30,54.45 344.30,54.38 345.30,54.32 346.30,54.27 347.30,54.22 348.30,54.17 349.30,54.13 350.30,54.09 351.30,54.06 352.30,54.03 353.30,54.00 354.30,53.98 355.30,53.96 356.30,53.94" fill="none" stroke="#1e3d6b" stroke-width="0.9"/>
<circle cx="245.30" cy="80.93" r="1.9" fill="#1e3d6b" stroke="none" stroke-width="0.6"/>
<circle cx="261.28" cy="81.22" r="1.9" fill="#1e3d6b" stroke="none" stroke-width="0.6"/>
<circle cx="277.26" cy="79.79" r="1.9" fill="#1e3d6b" stroke="none" stroke-width="0.6"/>
<circle cx="293.24" cy="77.66" r="1.9" fill="#1e3d6b" stroke="none" stroke-width="0.6"/>
<circle cx="309.22" cy="67.71" r="1.9" fill="#1e3d6b" stroke="none" stroke-width="0.6"/>
<circle cx="325.20" cy="52.35" r="1.9" fill="#1e3d6b" stroke="none" stroke-width="0.6"/>
<circle cx="341.18" cy="54.05" r="1.9" fill="#1e3d6b" stroke="none" stroke-width="0.6"/>
<circle cx="357.16" cy="54.05" r="1.9" fill="#1e3d6b" stroke="none" stroke-width="0.6"/>
<polyline points="245.30,81.47 246.30,81.47 247.30,81.46 248.30,81.46 249.30,81.46 250.30,81.45 251.30,81.45 252.30,81.44 253.30,81.43 254.30,81.42 255.30,81.42 256.30,81.41 257.30,81.40 258.30,81.38 259.30,81.37 260.30,81.36 261.30,81.34 262.30,81.32 263.30,81.30 264.30,81.28 265.30,81.26 266.30,81.23 267.30,81.20 268.30,81.16 269.30,81.12 270.30,81.08 271.30,81.03 272.30,80.98 273.30,80.92 274.30,80.86 275.30,80.79 276.30,80.71 277.30,80.62 278.30,80.52 279.30,80.42 280.30,80.30 281.30,80.16 282.30,80.02 283.30,79.86 284.30,79.68 285.30,79.48 286.30,79.27 287.30,79.03 288.30,78.77 289.30,78.49 290.30,78.18 291.30,77.84 292.30,77.48 293.30,77.08 294.30,76.65 295.30,76.18 296.30,75.68 297.30,75.15 298.30,74.57 299.30,73.96 300.30,73.31 301.30,72.63 302.30,71.91 303.30,71.16 304.30,70.38 305.30,69.57 306.30,68.74 307.30,67.89 308.30,67.02 309.30,66.14 310.30,65.26 311.30,64.37 312.30,63.49 313.30,62.62 314.30,61.76 315.30,60.92 316.30,60.11 317.30,59.32 318.30,58.56 319.30,57.84 320.30,57.15 321.30,56.49 322.30,55.87 323.30,55.29 324.30,54.74 325.30,54.23 326.30,53.76 327.30,53.32 328.30,52.91 329.30,52.54 330.30,52.19 331.30,51.88 332.30,51.59 333.30,51.32 334.30,51.08 335.30,50.86 336.30,50.66 337.30,50.48 338.30,50.31 339.30,50.16 340.30,50.03 341.30,49.91 342.30,49.80 343.30,49.70 344.30,49.60 345.30,49.52 346.30,49.45 347.30,49.38 348.30,49.32 349.30,49.27 350.30,49.22 351.30,49.18 352.30,49.14 353.30,49.10 354.30,49.07 355.30,49.04 356.30,49.02" fill="none" stroke="#c8102e" stroke-width="0.9"/>
<circle cx="245.30" cy="81.93" r="1.9" fill="#c8102e" stroke="none" stroke-width="0.6"/>
<circle cx="261.28" cy="81.93" r="1.9" fill="#c8102e" stroke="none" stroke-width="0.6"/>
<circle cx="277.26" cy="79.08" r="1.9" fill="#c8102e" stroke="none" stroke-width="0.6"/>
<circle cx="293.24" cy="75.67" r="1.9" fill="#c8102e" stroke="none" stroke-width="0.6"/>
<circle cx="309.22" cy="65.86" r="1.9" fill="#c8102e" stroke="none" stroke-width="0.6"/>
<circle cx="325.20" cy="54.05" r="1.9" fill="#c8102e" stroke="none" stroke-width="0.6"/>
<circle cx="341.18" cy="49.50" r="1.9" fill="#c8102e" stroke="none" stroke-width="0.6"/>
<circle cx="357.16" cy="48.79" r="1.9" fill="#c8102e" stroke="none" stroke-width="0.6"/>
<line x1="379.60" y1="51.00" x2="393.20" y2="51.00" stroke="#9a93c8" stroke-width="1.0"/>
<circle cx="386.60" cy="51.00" r="1.9" fill="#9a93c8" stroke="none" stroke-width="0.6"/>
<text x="396.50" y="54.20" font-size="9.0" text-anchor="start" fill="#262626" font-weight="normal" stroke="#262626" stroke-width="0.18" textLength="47" lengthAdjust="spacingAndGlyphs">CD19-CD28</text>
<line x1="379.60" y1="62.30" x2="393.20" y2="62.30" stroke="#3aa935" stroke-width="1.0"/>
<circle cx="386.60" cy="62.30" r="1.9" fill="#3aa935" stroke="none" stroke-width="0.6"/>
<text x="396.50" y="65.50" font-size="9.0" text-anchor="start" fill="#262626" font-weight="normal" stroke="#262626" stroke-width="0.18" textLength="99.0" lengthAdjust="spacingAndGlyphs">Glofit. <tspan font-size="6" dy="2.2">1nM</tspan><tspan dy="-2.2"> + CD19-CD28</tspan></text>
<line x1="379.60" y1="73.60" x2="393.20" y2="73.60" stroke="#1e3d6b" stroke-width="1.0"/>
<circle cx="386.60" cy="73.60" r="1.9" fill="#1e3d6b" stroke="none" stroke-width="0.6"/>
<text x="396.50" y="76.80" font-size="9.0" text-anchor="start" fill="#262626" font-weight="normal" stroke="#262626" stroke-width="0.18" textLength="99.0" lengthAdjust="spacingAndGlyphs">Glofit. <tspan font-size="6" dy="2.2">5nM</tspan><tspan dy="-2.2"> + CD19-CD28</tspan></text>
<line x1="379.60" y1="84.90" x2="393.20" y2="84.90" stroke="#c8102e" stroke-width="1.0"/>
<circle cx="386.60" cy="84.90" r="1.9" fill="#c8102e" stroke="none" stroke-width="0.6"/>
<text x="396.50" y="88.10" font-size="9.0" text-anchor="start" fill="#262626" font-weight="normal" stroke="#262626" stroke-width="0.18" textLength="100.5" lengthAdjust="spacingAndGlyphs">Glofit. <tspan font-size="6" dy="2.2">10nM</tspan><tspan dy="-2.2"> + CD19-CD28</tspan></text>
<text x="7.30" y="163.80" font-size="12.8" text-anchor="start" fill="#111" font-weight="bold" textLength="7.9" lengthAdjust="spacingAndGlyphs">B</text>
<line x1="55.80" y1="172.00" x2="55.80" y2="255.20" stroke="#222222" stroke-width="1.4"/>
<line x1="52.80" y1="254.60" x2="55.80" y2="254.60" stroke="#222222" stroke-width="0.9"/>
<text x="49.40" y="257.70" font-size="8.8" text-anchor="end" fill="#262626" font-weight="normal" stroke="#262626" stroke-width="0.18" textLength="4.7" lengthAdjust="spacingAndGlyphs">0</text>
<line x1="52.80" y1="227.80" x2="55.80" y2="227.80" stroke="#222222" stroke-width="0.9"/>
<text x="49.40" y="230.90" font-size="8.8" text-anchor="end" fill="#262626" font-weight="normal" stroke="#262626" stroke-width="0.18" textLength="14.100000000000001" lengthAdjust="spacingAndGlyphs">500</text>
<line x1="52.80" y1="201.00" x2="55.80" y2="201.00" stroke="#222222" stroke-width="0.9"/>
<text x="49.40" y="204.10" font-size="8.8" text-anchor="end" fill="#262626" font-weight="normal" stroke="#262626" stroke-width="0.18" textLength="18.8" lengthAdjust="spacingAndGlyphs">1000</text>
<line x1="52.80" y1="174.20" x2="55.80" y2="174.20" stroke="#222222" stroke-width="0.9"/>
<text x="49.40" y="177.30" font-size="8.8" text-anchor="end" fill="#262626" font-weight="normal" stroke="#262626" stroke-width="0.18" textLength="18.8" lengthAdjust="spacingAndGlyphs">1500</text>
<line x1="55.80" y1="254.60" x2="110.31" y2="254.60" stroke="#222222" stroke-width="1.4"/>
<text x="82.90" y="164.50" font-size="10.0" text-anchor="middle" fill="#262626" font-weight="normal" stroke="#262626" stroke-width="0.18" textLength="56.6" lengthAdjust="spacingAndGlyphs">Granzyme B</text>
<rect x="57.90" y="253.53" width="4.00" height="1.07" fill="#c9c7cf"/>
<line x1="59.90" y1="254.60" x2="59.90" y2="257.40" stroke="#222222" stroke-width="0.9"/>
<circle cx="59.90" cy="253.53" r="1.35" fill="#c9c7cf" stroke="#3a3a3a" stroke-width="0.6"/>
<circle cx="59.90" cy="253.26" r="1.35" fill="#c9c7cf" stroke="#3a3a3a" stroke-width="0.6"/>
<rect x="64.53" y="253.53" width="4.00" height="1.07" fill="#f7c21b"/>
<line x1="66.53" y1="254.60" x2="66.53" y2="257.40" stroke="#222222" stroke-width="0.9"/>
<circle cx="66.53" cy="253.53" r="1.35" fill="#f7c21b" stroke="#3a3a3a" stroke-width="0.6"/>
<circle cx="66.53" cy="253.26" r="1.35" fill="#f7c21b" stroke="#3a3a3a" stroke-width="0.6"/>
<rect x="71.16" y="253.53" width="4.00" height="1.07" fill="#8e87c5"/>
<line x1="73.16" y1="254.60" x2="73.16" y2="257.40" stroke="#222222" stroke-width="0.9"/>
<circle cx="73.16" cy="253.53" r="1.35" fill="#8e87c5" stroke="#3a3a3a" stroke-width="0.6"/>
<circle cx="73.16" cy="253.26" r="1.35" fill="#8e87c5" stroke="#3a3a3a" stroke-width="0.6"/>
<rect x="77.79" y="208.77" width="4.00" height="45.83" fill="#c8102e"/>
<line x1="79.79" y1="254.60" x2="79.79" y2="257.40" stroke="#222222" stroke-width="0.9"/>
<circle cx="79.79" cy="209.04" r="1.35" fill="#c8102e" stroke="#3a3a3a" stroke-width="0.6"/>
<circle cx="79.79" cy="208.50" r="1.35" fill="#c8102e" stroke="#3a3a3a" stroke-width="0.6"/>
<rect x="84.42" y="203.68" width="4.00" height="50.92" fill="#683a17"/>
<line x1="86.42" y1="254.60" x2="86.42" y2="257.40" stroke="#222222" stroke-width="0.9"/>
<circle cx="86.42" cy="200.79" r="1.35" fill="#683a17" stroke="#3a3a3a" stroke-width="0.6"/>
<circle cx="86.42" cy="204.48" r="1.35" fill="#683a17" stroke="#3a3a3a" stroke-width="0.6"/>
<rect x="91.05" y="196.44" width="4.00" height="58.16" fill="#3aa935"/>
<line x1="93.05" y1="254.60" x2="93.05" y2="257.40" stroke="#222222" stroke-width="0.9"/>
<circle cx="93.05" cy="196.98" r="1.35" fill="#3aa935" stroke="#3a3a3a" stroke-width="0.6"/>
<circle cx="93.05" cy="195.64" r="1.35" fill="#3aa935" stroke="#3a3a3a" stroke-width="0.6"/>
<rect x="97.68" y="188.40" width="4.00" height="66.20" fill="#c8782b"/>
<line x1="99.68" y1="254.60" x2="99.68" y2="257.40" stroke="#222222" stroke-width="0.9"/>
<circle cx="99.68" cy="183.79" r="1.35" fill="#c8782b" stroke="#3a3a3a" stroke-width="0.6"/>
<circle cx="99.68" cy="193.01" r="1.35" fill="#c8782b" stroke="#3a3a3a" stroke-width="0.6"/>
<rect x="104.31" y="190.55" width="4.00" height="64.05" fill="#2ea5de"/>
<line x1="106.31" y1="254.60" x2="106.31" y2="257.40" stroke="#222222" stroke-width="0.9"/>
<circle cx="106.31" cy="187.01" r="1.35" fill="#2ea5de" stroke="#3a3a3a" stroke-width="0.6"/>
<circle cx="106.31" cy="193.92" r="1.35" fill="#2ea5de" stroke="#3a3a3a" stroke-width="0.6"/>
<line x1="149.20" y1="171.30" x2="149.20" y2="255.00" stroke="#222222" stroke-width="1.4"/>
<line x1="146.20" y1="254.40" x2="149.20" y2="254.40" stroke="#222222" stroke-width="0.9"/>
<text x="142.80" y="257.50" font-size="8.8" text-anchor="end" fill="#262626" font-weight="normal" stroke="#262626" stroke-width="0.18" textLength="4.7" lengthAdjust="spacingAndGlyphs">0</text>
<line x1="146.20" y1="234.18" x2="149.20" y2="234.18" stroke="#222222" stroke-width="0.9"/>
<text x="142.80" y="237.28" font-size="8.8" text-anchor="end" fill="#262626" font-weight="normal" stroke="#262626" stroke-width="0.18" textLength="14.100000000000001" lengthAdjust="spacingAndGlyphs">100</text>
<line x1="146.20" y1="213.95" x2="149.20" y2="213.95" stroke="#222222" stroke-width="0.9"/>
<text x="142.80" y="217.05" font-size="8.8" text-anchor="end" fill="#262626" font-weight="normal" stroke="#262626" stroke-width="0.18" textLength="14.100000000000001" lengthAdjust="spacingAndGlyphs">200</text>
<line x1="146.20" y1="193.72" x2="149.20" y2="193.72" stroke="#222222" stroke-width="0.9"/>
<text x="142.80" y="196.82" font-size="8.8" text-anchor="end" fill="#262626" font-weight="normal" stroke="#262626" stroke-width="0.18" textLength="14.100000000000001" lengthAdjust="spacingAndGlyphs">300</text>
<line x1="146.20" y1="173.50" x2="149.20" y2="173.50" stroke="#222222" stroke-width="0.9"/>
<text x="142.80" y="176.60" font-size="8.8" text-anchor="end" fill="#262626" font-weight="normal" stroke="#262626" stroke-width="0.18" textLength="14.100000000000001" lengthAdjust="spacingAndGlyphs">400</text>
<line x1="149.20" y1="254.40" x2="203.90" y2="254.40" stroke="#222222" stroke-width="1.4"/>
<text x="176.80" y="164.50" font-size="10.0" text-anchor="middle" fill="#262626" font-weight="normal" stroke="#262626" stroke-width="0.18" textLength="20.2" lengthAdjust="spacingAndGlyphs">IFNγ</text>
<rect x="151.70" y="253.19" width="4.00" height="1.21" fill="#c9c7cf"/>
<line x1="153.70" y1="254.40" x2="153.70" y2="257.20" stroke="#222222" stroke-width="0.9"/>
<circle cx="153.70" cy="253.19" r="1.35" fill="#c9c7cf" stroke="#3a3a3a" stroke-width="0.6"/>
<circle cx="153.70" cy="252.98" r="1.35" fill="#c9c7cf" stroke="#3a3a3a" stroke-width="0.6"/>
<rect x="158.30" y="253.19" width="4.00" height="1.21" fill="#f7c21b"/>
<line x1="160.30" y1="254.40" x2="160.30" y2="257.20" stroke="#222222" stroke-width="0.9"/>
<circle cx="160.30" cy="253.19" r="1.35" fill="#f7c21b" stroke="#3a3a3a" stroke-width="0.6"/>
<circle cx="160.30" cy="252.98" r="1.35" fill="#f7c21b" stroke="#3a3a3a" stroke-width="0.6"/>
<rect x="164.90" y="253.19" width="4.00" height="1.21" fill="#8e87c5"/>
<line x1="166.90" y1="254.40" x2="166.90" y2="257.20" stroke="#222222" stroke-width="0.9"/>
<circle cx="166.90" cy="253.19" r="1.35" fill="#8e87c5" stroke="#3a3a3a" stroke-width="0.6"/>
<circle cx="166.90" cy="252.98" r="1.35" fill="#8e87c5" stroke="#3a3a3a" stroke-width="0.6"/>
<rect x="171.50" y="240.24" width="4.00" height="14.16" fill="#c8102e"/>
<line x1="173.50" y1="254.40" x2="173.50" y2="257.20" stroke="#222222" stroke-width="0.9"/>
<circle cx="173.50" cy="240.24" r="1.35" fill="#c8102e" stroke="#3a3a3a" stroke-width="0.6"/>
<circle cx="173.50" cy="240.65" r="1.35" fill="#c8102e" stroke="#3a3a3a" stroke-width="0.6"/>
<rect x="178.10" y="222.65" width="4.00" height="31.75" fill="#683a17"/>
<line x1="180.10" y1="254.40" x2="180.10" y2="257.20" stroke="#222222" stroke-width="0.9"/>
<circle cx="180.10" cy="220.02" r="1.35" fill="#683a17" stroke="#3a3a3a" stroke-width="0.6"/>
<circle cx="180.10" cy="224.06" r="1.35" fill="#683a17" stroke="#3a3a3a" stroke-width="0.6"/>
<rect x="184.70" y="211.12" width="4.00" height="43.28" fill="#3aa935"/>
<line x1="186.70" y1="254.40" x2="186.70" y2="257.20" stroke="#222222" stroke-width="0.9"/>
<circle cx="186.70" cy="207.88" r="1.35" fill="#3aa935" stroke="#3a3a3a" stroke-width="0.6"/>
<circle cx="186.70" cy="210.92" r="1.35" fill="#3aa935" stroke="#3a3a3a" stroke-width="0.6"/>
<rect x="191.30" y="193.12" width="4.00" height="61.28" fill="#c8782b"/>
<line x1="193.30" y1="254.40" x2="193.30" y2="257.20" stroke="#222222" stroke-width="0.9"/>
<circle cx="193.30" cy="187.66" r="1.35" fill="#c8782b" stroke="#3a3a3a" stroke-width="0.6"/>
<circle cx="193.30" cy="197.77" r="1.35" fill="#c8782b" stroke="#3a3a3a" stroke-width="0.6"/>
<rect x="197.90" y="191.70" width="4.00" height="62.70" fill="#2ea5de"/>
<line x1="199.90" y1="254.40" x2="199.90" y2="257.20" stroke="#222222" stroke-width="0.9"/>
<circle cx="199.90" cy="188.67" r="1.35" fill="#2ea5de" stroke="#3a3a3a" stroke-width="0.6"/>
<circle cx="199.90" cy="192.71" r="1.35" fill="#2ea5de" stroke="#3a3a3a" stroke-width="0.6"/>
<line x1="245.80" y1="171.50" x2="245.80" y2="255.30" stroke="#222222" stroke-width="1.4"/>
<line x1="242.80" y1="254.70" x2="245.80" y2="254.70" stroke="#222222" stroke-width="0.9"/>
<text x="239.40" y="257.80" font-size="8.8" text-anchor="end" fill="#262626" font-weight="normal" stroke="#262626" stroke-width="0.18" textLength="4.7" lengthAdjust="spacingAndGlyphs">0</text>
<line x1="242.80" y1="234.45" x2="245.80" y2="234.45" stroke="#222222" stroke-width="0.9"/>
<text x="239.40" y="237.55" font-size="8.8" text-anchor="end" fill="#262626" font-weight="normal" stroke="#262626" stroke-width="0.18" textLength="18.8" lengthAdjust="spacingAndGlyphs">2000</text>
<line x1="242.80" y1="214.20" x2="245.80" y2="214.20" stroke="#222222" stroke-width="0.9"/>
<text x="239.40" y="217.30" font-size="8.8" text-anchor="end" fill="#262626" font-weight="normal" stroke="#262626" stroke-width="0.18" textLength="18.8" lengthAdjust="spacingAndGlyphs">4000</text>
<line x1="242.80" y1="193.95" x2="245.80" y2="193.95" stroke="#222222" stroke-width="0.9"/>
<text x="239.40" y="197.05" font-size="8.8" text-anchor="end" fill="#262626" font-weight="normal" stroke="#262626" stroke-width="0.18" textLength="18.8" lengthAdjust="spacingAndGlyphs">6000</text>
<line x1="242.80" y1="173.70" x2="245.80" y2="173.70" stroke="#222222" stroke-width="0.9"/>
<text x="239.40" y="176.80" font-size="8.8" text-anchor="end" fill="#262626" font-weight="normal" stroke="#262626" stroke-width="0.18" textLength="18.8" lengthAdjust="spacingAndGlyphs">8000</text>
<line x1="245.80" y1="254.70" x2="301.40" y2="254.70" stroke="#222222" stroke-width="1.4"/>
<text x="274.00" y="164.50" font-size="10.0" text-anchor="middle" fill="#262626" font-weight="normal" stroke="#262626" stroke-width="0.18" textLength="16.3" lengthAdjust="spacingAndGlyphs">IL-8</text>
<rect x="248.50" y="239.51" width="4.00" height="15.19" fill="#c9c7cf"/>
<line x1="250.50" y1="254.70" x2="250.50" y2="257.50" stroke="#222222" stroke-width="0.9"/>
<circle cx="250.50" cy="233.44" r="1.35" fill="#c9c7cf" stroke="#3a3a3a" stroke-width="0.6"/>
<circle cx="250.50" cy="240.52" r="1.35" fill="#c9c7cf" stroke="#3a3a3a" stroke-width="0.6"/>
<rect x="255.20" y="240.02" width="4.00" height="14.68" fill="#f7c21b"/>
<line x1="257.20" y1="254.70" x2="257.20" y2="257.50" stroke="#222222" stroke-width="0.9"/>
<circle cx="257.20" cy="240.02" r="1.35" fill="#f7c21b" stroke="#3a3a3a" stroke-width="0.6"/>
<circle cx="257.20" cy="240.52" r="1.35" fill="#f7c21b" stroke="#3a3a3a" stroke-width="0.6"/>
<rect x="261.90" y="242.04" width="4.00" height="12.66" fill="#8e87c5"/>
<line x1="263.90" y1="254.70" x2="263.90" y2="257.50" stroke="#222222" stroke-width="0.9"/>
<circle cx="263.90" cy="242.04" r="1.35" fill="#8e87c5" stroke="#3a3a3a" stroke-width="0.6"/>
<circle cx="263.90" cy="242.55" r="1.35" fill="#8e87c5" stroke="#3a3a3a" stroke-width="0.6"/>
<rect x="268.60" y="209.14" width="4.00" height="45.56" fill="#c8102e"/>
<line x1="270.60" y1="254.70" x2="270.60" y2="257.50" stroke="#222222" stroke-width="0.9"/>
<circle cx="270.60" cy="209.14" r="1.35" fill="#c8102e" stroke="#3a3a3a" stroke-width="0.6"/>
<circle cx="270.60" cy="209.64" r="1.35" fill="#c8102e" stroke="#3a3a3a" stroke-width="0.6"/>
<rect x="275.30" y="204.07" width="4.00" height="50.62" fill="#683a17"/>
<line x1="277.30" y1="254.70" x2="277.30" y2="257.50" stroke="#222222" stroke-width="0.9"/>
<circle cx="277.30" cy="202.05" r="1.35" fill="#683a17" stroke="#3a3a3a" stroke-width="0.6"/>
<circle cx="277.30" cy="205.09" r="1.35" fill="#683a17" stroke="#3a3a3a" stroke-width="0.6"/>
<rect x="282.00" y="205.09" width="4.00" height="49.61" fill="#3aa935"/>
<line x1="284.00" y1="254.70" x2="284.00" y2="257.50" stroke="#222222" stroke-width="0.9"/>
<circle cx="284.00" cy="202.05" r="1.35" fill="#3aa935" stroke="#3a3a3a" stroke-width="0.6"/>
<circle cx="284.00" cy="207.11" r="1.35" fill="#3aa935" stroke="#3a3a3a" stroke-width="0.6"/>
<rect x="288.70" y="186.86" width="4.00" height="67.84" fill="#c8782b"/>
<line x1="290.70" y1="254.70" x2="290.70" y2="257.50" stroke="#222222" stroke-width="0.9"/>
<circle cx="290.70" cy="181.80" r="1.35" fill="#c8782b" stroke="#3a3a3a" stroke-width="0.6"/>
<circle cx="290.70" cy="190.91" r="1.35" fill="#c8782b" stroke="#3a3a3a" stroke-width="0.6"/>
<rect x="295.40" y="192.94" width="4.00" height="61.76" fill="#2ea5de"/>
<line x1="297.40" y1="254.70" x2="297.40" y2="257.50" stroke="#222222" stroke-width="0.9"/>
<circle cx="297.40" cy="192.94" r="1.35" fill="#2ea5de" stroke="#3a3a3a" stroke-width="0.6"/>
<circle cx="297.40" cy="193.44" r="1.35" fill="#2ea5de" stroke="#3a3a3a" stroke-width="0.6"/>
<line x1="339.70" y1="172.10" x2="339.70" y2="255.30" stroke="#222222" stroke-width="1.4"/>
<line x1="336.70" y1="254.70" x2="339.70" y2="254.70" stroke="#222222" stroke-width="0.9"/>
<text x="333.30" y="257.80" font-size="8.8" text-anchor="end" fill="#262626" font-weight="normal" stroke="#262626" stroke-width="0.18" textLength="4.7" lengthAdjust="spacingAndGlyphs">0</text>
<line x1="336.70" y1="234.60" x2="339.70" y2="234.60" stroke="#222222" stroke-width="0.9"/>
<text x="333.30" y="237.70" font-size="8.8" text-anchor="end" fill="#262626" font-weight="normal" stroke="#262626" stroke-width="0.18" textLength="14.100000000000001" lengthAdjust="spacingAndGlyphs">200</text>
<line x1="336.70" y1="214.50" x2="339.70" y2="214.50" stroke="#222222" stroke-width="0.9"/>
<text x="333.30" y="217.60" font-size="8.8" text-anchor="end" fill="#262626" font-weight="normal" stroke="#262626" stroke-width="0.18" textLength="14.100000000000001" lengthAdjust="spacingAndGlyphs">400</text>
<line x1="336.70" y1="194.40" x2="339.70" y2="194.40" stroke="#222222" stroke-width="0.9"/>
<text x="333.30" y="197.50" font-size="8.8" text-anchor="end" fill="#262626" font-weight="normal" stroke="#262626" stroke-width="0.18" textLength="14.100000000000001" lengthAdjust="spacingAndGlyphs">600</text>
<line x1="336.70" y1="174.30" x2="339.70" y2="174.30" stroke="#222222" stroke-width="0.9"/>
<text x="333.30" y="177.40" font-size="8.8" text-anchor="end" fill="#262626" font-weight="normal" stroke="#262626" stroke-width="0.18" textLength="14.100000000000001" lengthAdjust="spacingAndGlyphs">800</text>
<line x1="339.70" y1="254.70" x2="393.91" y2="254.70" stroke="#222222" stroke-width="1.4"/>
<text x="366.90" y="164.50" font-size="10.0" text-anchor="middle" fill="#262626" font-weight="normal" stroke="#262626" stroke-width="0.18" textLength="16.2" lengthAdjust="spacingAndGlyphs">IL-2</text>
<rect x="341.50" y="253.19" width="4.00" height="1.51" fill="#c9c7cf"/>
<line x1="343.50" y1="254.70" x2="343.50" y2="257.50" stroke="#222222" stroke-width="0.9"/>
<circle cx="343.50" cy="253.19" r="1.35" fill="#c9c7cf" stroke="#3a3a3a" stroke-width="0.6"/>
<circle cx="343.50" cy="253.49" r="1.35" fill="#c9c7cf" stroke="#3a3a3a" stroke-width="0.6"/>
<rect x="348.13" y="253.19" width="4.00" height="1.51" fill="#f7c21b"/>
<line x1="350.13" y1="254.70" x2="350.13" y2="257.50" stroke="#222222" stroke-width="0.9"/>
<circle cx="350.13" cy="253.19" r="1.35" fill="#f7c21b" stroke="#3a3a3a" stroke-width="0.6"/>
<circle cx="350.13" cy="253.49" r="1.35" fill="#f7c21b" stroke="#3a3a3a" stroke-width="0.6"/>
<rect x="354.76" y="253.19" width="4.00" height="1.51" fill="#8e87c5"/>
<line x1="356.76" y1="254.70" x2="356.76" y2="257.50" stroke="#222222" stroke-width="0.9"/>
<circle cx="356.76" cy="253.19" r="1.35" fill="#8e87c5" stroke="#3a3a3a" stroke-width="0.6"/>
<circle cx="356.76" cy="253.49" r="1.35" fill="#8e87c5" stroke="#3a3a3a" stroke-width="0.6"/>
<rect x="361.39" y="246.66" width="4.00" height="8.04" fill="#c8102e"/>
<line x1="363.39" y1="254.70" x2="363.39" y2="257.50" stroke="#222222" stroke-width="0.9"/>
<circle cx="363.39" cy="246.66" r="1.35" fill="#c8102e" stroke="#3a3a3a" stroke-width="0.6"/>
<circle cx="363.39" cy="247.16" r="1.35" fill="#c8102e" stroke="#3a3a3a" stroke-width="0.6"/>
<rect x="368.02" y="233.59" width="4.00" height="21.10" fill="#683a17"/>
<line x1="370.02" y1="254.70" x2="370.02" y2="257.50" stroke="#222222" stroke-width="0.9"/>
<circle cx="370.02" cy="232.59" r="1.35" fill="#683a17" stroke="#3a3a3a" stroke-width="0.6"/>
<circle cx="370.02" cy="235.60" r="1.35" fill="#683a17" stroke="#3a3a3a" stroke-width="0.6"/>
<rect x="374.65" y="220.53" width="4.00" height="34.17" fill="#3aa935"/>
<line x1="376.65" y1="254.70" x2="376.65" y2="257.50" stroke="#222222" stroke-width="0.9"/>
<circle cx="376.65" cy="220.03" r="1.35" fill="#3aa935" stroke="#3a3a3a" stroke-width="0.6"/>
<circle cx="376.65" cy="221.03" r="1.35" fill="#3aa935" stroke="#3a3a3a" stroke-width="0.6"/>
<rect x="381.28" y="195.41" width="4.00" height="59.29" fill="#c8782b"/>
<line x1="383.28" y1="254.70" x2="383.28" y2="257.50" stroke="#222222" stroke-width="0.9"/>
<circle cx="383.28" cy="189.38" r="1.35" fill="#c8782b" stroke="#3a3a3a" stroke-width="0.6"/>
<circle cx="383.28" cy="200.43" r="1.35" fill="#c8782b" stroke="#3a3a3a" stroke-width="0.6"/>
<rect x="387.91" y="194.40" width="4.00" height="60.30" fill="#2ea5de"/>
<line x1="389.91" y1="254.70" x2="389.91" y2="257.50" stroke="#222222" stroke-width="0.9"/>
<circle cx="389.91" cy="193.40" r="1.35" fill="#2ea5de" stroke="#3a3a3a" stroke-width="0.6"/>
<circle cx="389.91" cy="196.41" r="1.35" fill="#2ea5de" stroke="#3a3a3a" stroke-width="0.6"/>
<text transform="translate(22.80,213.30) rotate(-90)" x="0" y="0" font-size="8.8" text-anchor="middle" fill="#262626" stroke="#262626" stroke-width="0.18">pg/ml</text>
<rect x="410.40" y="175.20" width="13.40" height="3.60" fill="#c9c7cf"/>
<text x="427.20" y="180.10" font-size="9.0" text-anchor="start" fill="#262626" font-weight="normal" stroke="#262626" stroke-width="0.18" textLength="39" lengthAdjust="spacingAndGlyphs">Untreated</text>
<rect x="410.40" y="185.30" width="13.40" height="3.60" fill="#f7c21b"/>
<text x="427.20" y="190.20" font-size="9.0" text-anchor="start" fill="#262626" font-weight="normal" stroke="#262626" stroke-width="0.18" textLength="52.4" lengthAdjust="spacingAndGlyphs">CD19-4-1BBL</text>
<rect x="410.40" y="195.40" width="13.40" height="3.60" fill="#8e87c5"/>
<text x="427.20" y="200.30" font-size="9.0" text-anchor="start" fill="#262626" font-weight="normal" stroke="#262626" stroke-width="0.18" textLength="47.1" lengthAdjust="spacingAndGlyphs">CD19-CD28</text>
<rect x="410.40" y="205.50" width="13.40" height="3.60" fill="#c8102e"/>
<text x="427.20" y="210.40" font-size="9.0" text-anchor="start" fill="#262626" font-weight="normal" stroke="#262626" stroke-width="0.18" textLength="42.5" lengthAdjust="spacingAndGlyphs">Glofitamab</text>
<rect x="410.40" y="215.60" width="13.40" height="3.60" fill="#683a17"/>
<text x="427.20" y="220.50" font-size="9.0" text-anchor="start" fill="#262626" font-weight="normal" stroke="#262626" stroke-width="0.18" textLength="87" lengthAdjust="spacingAndGlyphs">Glofit. + CD19-4-1BBL</text>
<rect x="410.40" y="225.70" width="13.40" height="3.60" fill="#3aa935"/>
<text x="427.20" y="230.60" font-size="9.0" text-anchor="start" fill="#262626" font-weight="normal" stroke="#262626" stroke-width="0.18" textLength="81.7" lengthAdjust="spacingAndGlyphs">Glofit. + CD19-CD28</text>
<rect x="410.40" y="235.80" width="13.40" height="3.60" fill="#c8782b"/>
<text x="427.20" y="240.70" font-size="9.0" text-anchor="start" fill="#262626" font-weight="normal" stroke="#262626" stroke-width="0.18" textLength="54.7" lengthAdjust="spacingAndGlyphs">Triplet 0.5 nM</text>
<rect x="410.40" y="245.90" width="13.40" height="3.60" fill="#2ea5de"/>
<text x="427.20" y="250.80" font-size="9.0" text-anchor="start" fill="#262626" font-weight="normal" stroke="#262626" stroke-width="0.18" textLength="44.8" lengthAdjust="spacingAndGlyphs">Triplet 1nM</text>
<text x="6.90" y="286.50" font-size="12.8" text-anchor="start" fill="#111" font-weight="bold" textLength="8.3" lengthAdjust="spacingAndGlyphs">C</text>
<text x="42.90" y="293.70" font-size="8.6" text-anchor="start" fill="#262626" font-weight="normal" stroke="#262626" stroke-width="0.18" textLength="43.1" lengthAdjust="spacingAndGlyphs">Humanized</text>
<text x="86.00" y="303.60" font-size="8.8" text-anchor="end" fill="#262626" font-weight="normal" stroke="#262626" stroke-width="0.18" textLength="18.3" lengthAdjust="spacingAndGlyphs">NSG</text>
<path d="M43.3,310.7 C45,308.4 47.4,305.4 50.2,303.8 L51.8,304.9 C55,304.9 57,304.1 59.6,304.1 C64,304.1 67.6,306.6 69.5,311 C71,315 70.9,320.5 68.8,323.6 L52.4,323.6 C53.4,322.2 54.4,320.6 55,318.6 C53.6,317.6 52.2,317.1 50.8,317.1 L47.2,317 C46.4,316.6 46.5,315.5 47.3,315.4 L49.8,315.3 C49.2,314.8 48.4,314.5 47.8,314.3 C47.3,313.8 47.7,313.1 48.4,313.1 C47.2,312.7 45.9,312.4 44.8,312.0 C43.8,311.7 43.2,311.3 43.3,310.7 Z" fill="#141414"/>
<ellipse cx="48.1" cy="302.4" rx="1.35" ry="2.3" fill="#141414" transform="rotate(-22 48.1 302.4)"/>
<ellipse cx="55.4" cy="302.5" rx="2.9" ry="2.95" fill="#141414" transform="rotate(-20 55.4 302.5)"/>
<path d="M50.8,304.4 C52.8,305.4 55.2,305.7 57.6,305.8" stroke="#fff" stroke-width="0.7" fill="none"/>
<circle cx="48.50" cy="308.10" r="0.8" fill="#fff" stroke="none" stroke-width="0.6"/>
<path d="M67,323.5 L81.3,323.3 C83.3,323.1 84.4,321 84.4,318.3 C84.4,316.8 84.1,315.6 83.8,314.8" stroke="#141414" stroke-width="1.1" fill="none" stroke-linecap="round"/>
<polygon points="100.00,303.60 106.60,303.60 103.30,297.80" fill="#c4c4c4" stroke="none" stroke-width="0.7" stroke-linejoin="miter"/>
<text x="111.20" y="303.90" font-size="8.8" text-anchor="start" fill="#262626" font-weight="normal" stroke="#262626" stroke-width="0.18" textLength="27.6" lengthAdjust="spacingAndGlyphs">Vehicle</text>
<polygon points="154.30,303.20 160.90,303.20 157.60,297.60" fill="none" stroke="#9a9a9a" stroke-width="0.6" stroke-linejoin="miter"/>
<text x="164.20" y="303.90" font-size="8.8" text-anchor="start" fill="#262626" font-weight="normal" stroke="#262626" stroke-width="0.18" textLength="15.0" lengthAdjust="spacingAndGlyphs">Gpt</text>
<polygon points="195.90,303.60 202.50,303.60 199.20,297.80" fill="#bb0f2c" stroke="none" stroke-width="0.7" stroke-linejoin="miter"/>
<text x="206.60" y="303.90" font-size="8.8" text-anchor="start" fill="#262626" font-weight="normal" stroke="#262626" stroke-width="0.18" textLength="43.9" lengthAdjust="spacingAndGlyphs">Glofitamab</text>
<rect x="99.60" y="309.40" width="62.30" height="10.20" fill="#c9c4e3"/>
<text x="103.00" y="317.40" font-size="8.8" text-anchor="start" fill="#262626" font-weight="normal" stroke="#262626" stroke-width="0.18" textLength="55.5" lengthAdjust="spacingAndGlyphs">+ CD19-CD28</text>
<rect x="165.40" y="309.40" width="62.60" height="10.20" fill="#fcdc97"/>
<text x="167.00" y="317.40" font-size="8.8" text-anchor="start" fill="#262626" font-weight="normal" stroke="#262626" stroke-width="0.18" textLength="60" lengthAdjust="spacingAndGlyphs">+ CD19-4-1BBL</text>
<rect x="232.70" y="309.40" width="72.70" height="10.20" fill="#e7d7c6"/>
<text x="235.00" y="317.40" font-size="8.8" text-anchor="start" fill="#262626" font-weight="normal" stroke="#262626" stroke-width="0.18" textLength="68.5" lengthAdjust="spacingAndGlyphs">+ CD28 &amp; 4-1BBL</text>
<text x="62.10" y="333.90" font-size="9.0" text-anchor="middle" fill="#262626" font-weight="normal" stroke="#262626" stroke-width="0.18" textLength="9.4" lengthAdjust="spacingAndGlyphs">d0</text>
<line x1="62.10" y1="338.50" x2="62.10" y2="350.30" stroke="#222222" stroke-width="1.15"/>
<text x="87.20" y="333.90" font-size="9.0" text-anchor="middle" fill="#262626" font-weight="normal" stroke="#262626" stroke-width="0.18" textLength="14.8" lengthAdjust="spacingAndGlyphs">d12</text>
<line x1="87.20" y1="338.50" x2="87.20" y2="350.30" stroke="#222222" stroke-width="1.15"/>
<text x="110.60" y="333.90" font-size="9.0" text-anchor="middle" fill="#262626" font-weight="normal" stroke="#262626" stroke-width="0.18" textLength="14.8" lengthAdjust="spacingAndGlyphs">d17</text>
<line x1="110.60" y1="338.50" x2="110.60" y2="350.30" stroke="#222222" stroke-width="1.15"/>
<text x="132.10" y="333.90" font-size="9.0" text-anchor="middle" fill="#262626" font-weight="normal" stroke="#262626" stroke-width="0.18" textLength="14.8" lengthAdjust="spacingAndGlyphs">d24</text>
<line x1="132.10" y1="338.50" x2="132.10" y2="350.30" stroke="#222222" stroke-width="1.15"/>
<text x="153.10" y="333.90" font-size="9.0" text-anchor="middle" fill="#262626" font-weight="normal" stroke="#262626" stroke-width="0.18" textLength="14.8" lengthAdjust="spacingAndGlyphs">d31</text>
<line x1="153.10" y1="338.50" x2="153.10" y2="350.30" stroke="#222222" stroke-width="1.15"/>
<text x="173.00" y="333.90" font-size="9.0" text-anchor="middle" fill="#262626" font-weight="normal" stroke="#262626" stroke-width="0.18" textLength="14.8" lengthAdjust="spacingAndGlyphs">d38</text>
<line x1="173.00" y1="338.50" x2="173.00" y2="350.30" stroke="#222222" stroke-width="1.15"/>
<text x="193.70" y="333.90" font-size="9.0" text-anchor="middle" fill="#262626" font-weight="normal" stroke="#262626" stroke-width="0.18" textLength="14.8" lengthAdjust="spacingAndGlyphs">d45</text>
<line x1="193.70" y1="338.50" x2="193.70" y2="350.30" stroke="#222222" stroke-width="1.15"/>
<text x="215.20" y="333.90" font-size="9.0" text-anchor="middle" fill="#262626" font-weight="normal" stroke="#262626" stroke-width="0.18" textLength="14.8" lengthAdjust="spacingAndGlyphs">d52</text>
<line x1="215.20" y1="338.50" x2="215.20" y2="350.30" stroke="#222222" stroke-width="1.15"/>
<text x="234.00" y="333.90" font-size="9.0" text-anchor="middle" fill="#262626" font-weight="normal" stroke="#262626" stroke-width="0.18" textLength="14.8" lengthAdjust="spacingAndGlyphs">d59</text>
<line x1="234.00" y1="338.50" x2="234.00" y2="350.30" stroke="#222222" stroke-width="1.15"/>
<text x="252.10" y="333.90" font-size="9.0" text-anchor="middle" fill="#262626" font-weight="normal" stroke="#262626" stroke-width="0.18" textLength="14.8" lengthAdjust="spacingAndGlyphs">d66</text>
<line x1="252.10" y1="338.50" x2="252.10" y2="350.30" stroke="#222222" stroke-width="1.15"/>
<text x="273.10" y="333.90" font-size="9.0" text-anchor="middle" fill="#262626" font-weight="normal" stroke="#262626" stroke-width="0.18" textLength="14.8" lengthAdjust="spacingAndGlyphs">d73</text>
<line x1="273.10" y1="338.50" x2="273.10" y2="350.30" stroke="#222222" stroke-width="1.15"/>
<text x="296.10" y="333.90" font-size="9.0" text-anchor="middle" fill="#262626" font-weight="normal" stroke="#262626" stroke-width="0.18" textLength="19.5" lengthAdjust="spacingAndGlyphs">d120</text>
<line x1="291.90" y1="338.50" x2="291.90" y2="350.30" stroke="#222222" stroke-width="1.15"/>
<line x1="62.10" y1="343.60" x2="273.10" y2="343.60" stroke="#222222" stroke-width="1.2"/>
<line x1="273.10" y1="343.60" x2="291.90" y2="343.60" stroke="#222222" stroke-width="1.2" stroke-dasharray="2.4,2.0"/>
<line x1="62.60" y1="358.50" x2="62.60" y2="369.60" stroke="#1f3e70" stroke-width="1.0"/>
<polygon points="60.6,359.2 64.6,359.2 62.6,355.6" fill="#1f3e70"/>
<text x="75.50" y="379.80" font-size="8.8" text-anchor="end" fill="#262626" font-weight="normal" stroke="#262626" stroke-width="0.18" textLength="35.6" lengthAdjust="spacingAndGlyphs">OCI-Ly18</text>
<text x="75.50" y="390.60" font-size="8.8" text-anchor="end" fill="#262626" font-weight="normal" stroke="#262626" stroke-width="0.18" textLength="16.7" lengthAdjust="spacingAndGlyphs">(s.c.)</text>
<rect x="171.00" y="373.74" width="121.30" height="10.00" fill="#fcdc97"/>
<rect x="171.00" y="383.86" width="121.30" height="10.00" fill="#c9c4e3"/>
<rect x="171.00" y="393.98" width="121.30" height="10.00" fill="#e7d7c6"/>
<line x1="172.50" y1="393.98" x2="172.50" y2="403.98" stroke="#d9cbc4" stroke-width="0.6" stroke-dasharray="0.8,0.8"/>
<line x1="175.80" y1="393.98" x2="175.80" y2="403.98" stroke="#d9cbc4" stroke-width="0.6" stroke-dasharray="0.8,0.8"/>
<line x1="179.10" y1="393.98" x2="179.10" y2="403.98" stroke="#d9cbc4" stroke-width="0.6" stroke-dasharray="0.8,0.8"/>
<line x1="182.40" y1="393.98" x2="182.40" y2="403.98" stroke="#d9cbc4" stroke-width="0.6" stroke-dasharray="0.8,0.8"/>
<line x1="185.70" y1="393.98" x2="185.70" y2="403.98" stroke="#d9cbc4" stroke-width="0.6" stroke-dasharray="0.8,0.8"/>
<line x1="189.00" y1="393.98" x2="189.00" y2="403.98" stroke="#d9cbc4" stroke-width="0.6" stroke-dasharray="0.8,0.8"/>
<line x1="192.30" y1="393.98" x2="192.30" y2="403.98" stroke="#d9cbc4" stroke-width="0.6" stroke-dasharray="0.8,0.8"/>
<line x1="195.60" y1="393.98" x2="195.60" y2="403.98" stroke="#d9cbc4" stroke-width="0.6" stroke-dasharray="0.8,0.8"/>
<line x1="198.90" y1="393.98" x2="198.90" y2="403.98" stroke="#d9cbc4" stroke-width="0.6" stroke-dasharray="0.8,0.8"/>
<line x1="202.20" y1="393.98" x2="202.20" y2="403.98" stroke="#d9cbc4" stroke-width="0.6" stroke-dasharray="0.8,0.8"/>
<line x1="205.50" y1="393.98" x2="205.50" y2="403.98" stroke="#d9cbc4" stroke-width="0.6" stroke-dasharray="0.8,0.8"/>
<line x1="208.80" y1="393.98" x2="208.80" y2="403.98" stroke="#d9cbc4" stroke-width="0.6" stroke-dasharray="0.8,0.8"/>
<line x1="212.10" y1="393.98" x2="212.10" y2="403.98" stroke="#d9cbc4" stroke-width="0.6" stroke-dasharray="0.8,0.8"/>
<line x1="215.40" y1="393.98" x2="215.40" y2="403.98" stroke="#d9cbc4" stroke-width="0.6" stroke-dasharray="0.8,0.8"/>
<line x1="218.70" y1="393.98" x2="218.70" y2="403.98" stroke="#d9cbc4" stroke-width="0.6" stroke-dasharray="0.8,0.8"/>
<line x1="222.00" y1="393.98" x2="222.00" y2="403.98" stroke="#d9cbc4" stroke-width="0.6" stroke-dasharray="0.8,0.8"/>
<line x1="225.30" y1="393.98" x2="225.30" y2="403.98" stroke="#d9cbc4" stroke-width="0.6" stroke-dasharray="0.8,0.8"/>
<line x1="228.60" y1="393.98" x2="228.60" y2="403.98" stroke="#d9cbc4" stroke-width="0.6" stroke-dasharray="0.8,0.8"/>
<line x1="231.90" y1="393.98" x2="231.90" y2="403.98" stroke="#d9cbc4" stroke-width="0.6" stroke-dasharray="0.8,0.8"/>
<line x1="235.20" y1="393.98" x2="235.20" y2="403.98" stroke="#d9cbc4" stroke-width="0.6" stroke-dasharray="0.8,0.8"/>
<line x1="238.50" y1="393.98" x2="238.50" y2="403.98" stroke="#d9cbc4" stroke-width="0.6" stroke-dasharray="0.8,0.8"/>
<line x1="241.80" y1="393.98" x2="241.80" y2="403.98" stroke="#d9cbc4" stroke-width="0.6" stroke-dasharray="0.8,0.8"/>
<line x1="245.10" y1="393.98" x2="245.10" y2="403.98" stroke="#d9cbc4" stroke-width="0.6" stroke-dasharray="0.8,0.8"/>
<line x1="248.40" y1="393.98" x2="248.40" y2="403.98" stroke="#d9cbc4" stroke-width="0.6" stroke-dasharray="0.8,0.8"/>
<line x1="251.70" y1="393.98" x2="251.70" y2="403.98" stroke="#d9cbc4" stroke-width="0.6" stroke-dasharray="0.8,0.8"/>
<line x1="255.00" y1="393.98" x2="255.00" y2="403.98" stroke="#d9cbc4" stroke-width="0.6" stroke-dasharray="0.8,0.8"/>
<line x1="258.30" y1="393.98" x2="258.30" y2="403.98" stroke="#d9cbc4" stroke-width="0.6" stroke-dasharray="0.8,0.8"/>
<line x1="261.60" y1="393.98" x2="261.60" y2="403.98" stroke="#d9cbc4" stroke-width="0.6" stroke-dasharray="0.8,0.8"/>
<line x1="264.90" y1="393.98" x2="264.90" y2="403.98" stroke="#d9cbc4" stroke-width="0.6" stroke-dasharray="0.8,0.8"/>
<line x1="268.20" y1="393.98" x2="268.20" y2="403.98" stroke="#d9cbc4" stroke-width="0.6" stroke-dasharray="0.8,0.8"/>
<line x1="271.50" y1="393.98" x2="271.50" y2="403.98" stroke="#d9cbc4" stroke-width="0.6" stroke-dasharray="0.8,0.8"/>
<line x1="274.80" y1="393.98" x2="274.80" y2="403.98" stroke="#d9cbc4" stroke-width="0.6" stroke-dasharray="0.8,0.8"/>
<line x1="278.10" y1="393.98" x2="278.10" y2="403.98" stroke="#d9cbc4" stroke-width="0.6" stroke-dasharray="0.8,0.8"/>
<line x1="281.40" y1="393.98" x2="281.40" y2="403.98" stroke="#d9cbc4" stroke-width="0.6" stroke-dasharray="0.8,0.8"/>
<line x1="284.70" y1="393.98" x2="284.70" y2="403.98" stroke="#d9cbc4" stroke-width="0.6" stroke-dasharray="0.8,0.8"/>
<line x1="288.00" y1="393.98" x2="288.00" y2="403.98" stroke="#d9cbc4" stroke-width="0.6" stroke-dasharray="0.8,0.8"/>
<line x1="291.30" y1="393.98" x2="291.30" y2="403.98" stroke="#d9cbc4" stroke-width="0.6" stroke-dasharray="0.8,0.8"/>
<rect x="171.00" y="404.10" width="80.50" height="10.00" fill="#fcdc97"/>
<rect x="251.50" y="404.10" width="40.80" height="10.00" fill="#c9c4e3"/>
<rect x="171.00" y="414.22" width="80.50" height="10.00" fill="#c9c4e3"/>
<rect x="251.50" y="414.22" width="40.80" height="10.00" fill="#fcdc97"/>
<line x1="78.90" y1="363.50" x2="292.00" y2="363.50" stroke="#a8a8a8" stroke-width="0.7" stroke-dasharray="0.9,0.9"/>
<line x1="78.90" y1="373.62" x2="292.00" y2="373.62" stroke="#a8a8a8" stroke-width="0.7" stroke-dasharray="0.9,0.9"/>
<line x1="78.90" y1="383.74" x2="292.00" y2="383.74" stroke="#a8a8a8" stroke-width="0.7" stroke-dasharray="0.9,0.9"/>
<line x1="78.90" y1="393.86" x2="292.00" y2="393.86" stroke="#a8a8a8" stroke-width="0.7" stroke-dasharray="0.9,0.9"/>
<line x1="78.90" y1="403.98" x2="292.00" y2="403.98" stroke="#a8a8a8" stroke-width="0.7" stroke-dasharray="0.9,0.9"/>
<line x1="78.90" y1="414.10" x2="292.00" y2="414.10" stroke="#a8a8a8" stroke-width="0.7" stroke-dasharray="0.9,0.9"/>
<line x1="78.90" y1="424.22" x2="292.00" y2="424.22" stroke="#a8a8a8" stroke-width="0.7" stroke-dasharray="0.9,0.9"/>
<polygon points="84.00,363.20 90.40,363.20 87.20,356.60" fill="#c4c4c4" stroke="none" stroke-width="0.7" stroke-linejoin="miter"/>
<polygon points="107.40,363.20 113.80,363.20 110.60,356.60" fill="#c4c4c4" stroke="none" stroke-width="0.7" stroke-linejoin="miter"/>
<polygon points="128.90,363.20 135.30,363.20 132.10,356.60" fill="#c4c4c4" stroke="none" stroke-width="0.7" stroke-linejoin="miter"/>
<polygon points="149.90,363.20 156.30,363.20 153.10,356.60" fill="#c4c4c4" stroke="none" stroke-width="0.7" stroke-linejoin="miter"/>
<polygon points="169.80,363.20 176.20,363.20 173.00,356.60" fill="#c4c4c4" stroke="none" stroke-width="0.7" stroke-linejoin="miter"/>
<polygon points="190.50,363.20 196.90,363.20 193.70,356.60" fill="#c4c4c4" stroke="none" stroke-width="0.7" stroke-linejoin="miter"/>
<polygon points="212.00,363.20 218.40,363.20 215.20,356.60" fill="#c4c4c4" stroke="none" stroke-width="0.7" stroke-linejoin="miter"/>
<polygon points="230.80,363.20 237.20,363.20 234.00,356.60" fill="#c4c4c4" stroke="none" stroke-width="0.7" stroke-linejoin="miter"/>
<polygon points="248.90,363.20 255.30,363.20 252.10,356.60" fill="#c4c4c4" stroke="none" stroke-width="0.7" stroke-linejoin="miter"/>
<polygon points="269.90,363.20 276.30,363.20 273.10,356.60" fill="#c4c4c4" stroke="none" stroke-width="0.7" stroke-linejoin="miter"/>
<polygon points="84.20,373.12 90.20,373.12 87.20,366.72" fill="none" stroke="#a9a9a9" stroke-width="0.6" stroke-linejoin="miter"/>
<polygon points="107.40,373.32 113.80,373.32 110.60,366.12" fill="#bb0f2c" stroke="none" stroke-width="0.7" stroke-linejoin="miter"/>
<polygon points="128.90,373.32 135.30,373.32 132.10,366.12" fill="#bb0f2c" stroke="none" stroke-width="0.7" stroke-linejoin="miter"/>
<polygon points="149.90,373.32 156.30,373.32 153.10,366.12" fill="#bb0f2c" stroke="none" stroke-width="0.7" stroke-linejoin="miter"/>
<polygon points="169.80,373.32 176.20,373.32 173.00,366.12" fill="#bb0f2c" stroke="none" stroke-width="0.7" stroke-linejoin="miter"/>
<polygon points="190.50,373.32 196.90,373.32 193.70,366.12" fill="#bb0f2c" stroke="none" stroke-width="0.7" stroke-linejoin="miter"/>
<polygon points="212.00,373.32 218.40,373.32 215.20,366.12" fill="#bb0f2c" stroke="none" stroke-width="0.7" stroke-linejoin="miter"/>
<polygon points="230.80,373.32 237.20,373.32 234.00,366.12" fill="#bb0f2c" stroke="none" stroke-width="0.7" stroke-linejoin="miter"/>
<polygon points="248.90,373.32 255.30,373.32 252.10,366.12" fill="#bb0f2c" stroke="none" stroke-width="0.7" stroke-linejoin="miter"/>
<polygon points="269.90,373.32 276.30,373.32 273.10,366.12" fill="#bb0f2c" stroke="none" stroke-width="0.7" stroke-linejoin="miter"/>
<polygon points="84.20,383.24 90.20,383.24 87.20,376.84" fill="none" stroke="#a9a9a9" stroke-width="0.6" stroke-linejoin="miter"/>
<polygon points="107.40,383.44 113.80,383.44 110.60,376.24" fill="#bb0f2c" stroke="none" stroke-width="0.7" stroke-linejoin="miter"/>
<polygon points="128.90,383.44 135.30,383.44 132.10,376.24" fill="#bb0f2c" stroke="none" stroke-width="0.7" stroke-linejoin="miter"/>
<polygon points="149.90,383.44 156.30,383.44 153.10,376.24" fill="#bb0f2c" stroke="none" stroke-width="0.7" stroke-linejoin="miter"/>
<polygon points="169.80,383.44 176.20,383.44 173.00,376.24" fill="#bb0f2c" stroke="none" stroke-width="0.7" stroke-linejoin="miter"/>
<polygon points="190.50,383.44 196.90,383.44 193.70,376.24" fill="#bb0f2c" stroke="none" stroke-width="0.7" stroke-linejoin="miter"/>
<polygon points="212.00,383.44 218.40,383.44 215.20,376.24" fill="#bb0f2c" stroke="none" stroke-width="0.7" stroke-linejoin="miter"/>
<polygon points="230.80,383.44 237.20,383.44 234.00,376.24" fill="#bb0f2c" stroke="none" stroke-width="0.7" stroke-linejoin="miter"/>
<polygon points="248.90,383.44 255.30,383.44 252.10,376.24" fill="#bb0f2c" stroke="none" stroke-width="0.7" stroke-linejoin="miter"/>
<polygon points="269.90,383.44 276.30,383.44 273.10,376.24" fill="#bb0f2c" stroke="none" stroke-width="0.7" stroke-linejoin="miter"/>
<polygon points="84.20,393.36 90.20,393.36 87.20,386.96" fill="none" stroke="#a9a9a9" stroke-width="0.6" stroke-linejoin="miter"/>
<polygon points="107.40,393.56 113.80,393.56 110.60,386.36" fill="#bb0f2c" stroke="none" stroke-width="0.7" stroke-linejoin="miter"/>
<polygon points="128.90,393.56 135.30,393.56 132.10,386.36" fill="#bb0f2c" stroke="none" stroke-width="0.7" stroke-linejoin="miter"/>
<polygon points="149.90,393.56 156.30,393.56 153.10,386.36" fill="#bb0f2c" stroke="none" stroke-width="0.7" stroke-linejoin="miter"/>
<polygon points="169.80,393.56 176.20,393.56 173.00,386.36" fill="#bb0f2c" stroke="none" stroke-width="0.7" stroke-linejoin="miter"/>
<polygon points="190.50,393.56 196.90,393.56 193.70,386.36" fill="#bb0f2c" stroke="none" stroke-width="0.7" stroke-linejoin="miter"/>
<polygon points="212.00,393.56 218.40,393.56 215.20,386.36" fill="#bb0f2c" stroke="none" stroke-width="0.7" stroke-linejoin="miter"/>
<polygon points="230.80,393.56 237.20,393.56 234.00,386.36" fill="#bb0f2c" stroke="none" stroke-width="0.7" stroke-linejoin="miter"/>
<polygon points="248.90,393.56 255.30,393.56 252.10,386.36" fill="#bb0f2c" stroke="none" stroke-width="0.7" stroke-linejoin="miter"/>
<polygon points="269.90,393.56 276.30,393.56 273.10,386.36" fill="#bb0f2c" stroke="none" stroke-width="0.7" stroke-linejoin="miter"/>
<polygon points="84.20,403.48 90.20,403.48 87.20,397.08" fill="none" stroke="#a9a9a9" stroke-width="0.6" stroke-linejoin="miter"/>
<polygon points="107.40,403.68 113.80,403.68 110.60,396.48" fill="#bb0f2c" stroke="none" stroke-width="0.7" stroke-linejoin="miter"/>
<polygon points="128.90,403.68 135.30,403.68 132.10,396.48" fill="#bb0f2c" stroke="none" stroke-width="0.7" stroke-linejoin="miter"/>
<polygon points="149.90,403.68 156.30,403.68 153.10,396.48" fill="#bb0f2c" stroke="none" stroke-width="0.7" stroke-linejoin="miter"/>
<polygon points="169.80,403.68 176.20,403.68 173.00,396.48" fill="#bb0f2c" stroke="none" stroke-width="0.7" stroke-linejoin="miter"/>
<polygon points="190.50,403.68 196.90,403.68 193.70,396.48" fill="#bb0f2c" stroke="none" stroke-width="0.7" stroke-linejoin="miter"/>
<polygon points="212.00,403.68 218.40,403.68 215.20,396.48" fill="#bb0f2c" stroke="none" stroke-width="0.7" stroke-linejoin="miter"/>
<polygon points="230.80,403.68 237.20,403.68 234.00,396.48" fill="#bb0f2c" stroke="none" stroke-width="0.7" stroke-linejoin="miter"/>
<polygon points="248.90,403.68 255.30,403.68 252.10,396.48" fill="#bb0f2c" stroke="none" stroke-width="0.7" stroke-linejoin="miter"/>
<polygon points="269.90,403.68 276.30,403.68 273.10,396.48" fill="#bb0f2c" stroke="none" stroke-width="0.7" stroke-linejoin="miter"/>
<polygon points="84.20,413.60 90.20,413.60 87.20,407.20" fill="none" stroke="#a9a9a9" stroke-width="0.6" stroke-linejoin="miter"/>
<polygon points="107.40,413.80 113.80,413.80 110.60,406.60" fill="#bb0f2c" stroke="none" stroke-width="0.7" stroke-linejoin="miter"/>
<polygon points="128.90,413.80 135.30,413.80 132.10,406.60" fill="#bb0f2c" stroke="none" stroke-width="0.7" stroke-linejoin="miter"/>
<polygon points="149.90,413.80 156.30,413.80 153.10,406.60" fill="#bb0f2c" stroke="none" stroke-width="0.7" stroke-linejoin="miter"/>
<polygon points="169.80,413.80 176.20,413.80 173.00,406.60" fill="#bb0f2c" stroke="none" stroke-width="0.7" stroke-linejoin="miter"/>
<polygon points="190.50,413.80 196.90,413.80 193.70,406.60" fill="#bb0f2c" stroke="none" stroke-width="0.7" stroke-linejoin="miter"/>
<polygon points="212.00,413.80 218.40,413.80 215.20,406.60" fill="#bb0f2c" stroke="none" stroke-width="0.7" stroke-linejoin="miter"/>
<polygon points="230.80,413.80 237.20,413.80 234.00,406.60" fill="#bb0f2c" stroke="none" stroke-width="0.7" stroke-linejoin="miter"/>
<polygon points="248.90,413.80 255.30,413.80 252.10,406.60" fill="#bb0f2c" stroke="none" stroke-width="0.7" stroke-linejoin="miter"/>
<polygon points="269.90,413.80 276.30,413.80 273.10,406.60" fill="#bb0f2c" stroke="none" stroke-width="0.7" stroke-linejoin="miter"/>
<polygon points="84.20,423.72 90.20,423.72 87.20,417.32" fill="none" stroke="#a9a9a9" stroke-width="0.6" stroke-linejoin="miter"/>
<polygon points="107.40,423.92 113.80,423.92 110.60,416.72" fill="#bb0f2c" stroke="none" stroke-width="0.7" stroke-linejoin="miter"/>
<polygon points="128.90,423.92 135.30,423.92 132.10,416.72" fill="#bb0f2c" stroke="none" stroke-width="0.7" stroke-linejoin="miter"/>
<polygon points="149.90,423.92 156.30,423.92 153.10,416.72" fill="#bb0f2c" stroke="none" stroke-width="0.7" stroke-linejoin="miter"/>
<polygon points="169.80,423.92 176.20,423.92 173.00,416.72" fill="#bb0f2c" stroke="none" stroke-width="0.7" stroke-linejoin="miter"/>
<polygon points="190.50,423.92 196.90,423.92 193.70,416.72" fill="#bb0f2c" stroke="none" stroke-width="0.7" stroke-linejoin="miter"/>
<polygon points="212.00,423.92 218.40,423.92 215.20,416.72" fill="#bb0f2c" stroke="none" stroke-width="0.7" stroke-linejoin="miter"/>
<polygon points="230.80,423.92 237.20,423.92 234.00,416.72" fill="#bb0f2c" stroke="none" stroke-width="0.7" stroke-linejoin="miter"/>
<polygon points="248.90,423.92 255.30,423.92 252.10,416.72" fill="#bb0f2c" stroke="none" stroke-width="0.7" stroke-linejoin="miter"/>
<polygon points="269.90,423.92 276.30,423.92 273.10,416.72" fill="#bb0f2c" stroke="none" stroke-width="0.7" stroke-linejoin="miter"/>
<text x="389.60" y="315.80" font-size="10.3" text-anchor="start" fill="#262626" font-weight="normal" stroke="#262626" stroke-width="0.18" textLength="69.2" lengthAdjust="spacingAndGlyphs">Vehicle control</text>
<line x1="366.00" y1="322.30" x2="366.00" y2="402.20" stroke="#222222" stroke-width="1.4"/>
<line x1="363.00" y1="401.60" x2="366.00" y2="401.60" stroke="#222222" stroke-width="1.0"/>
<text x="359.60" y="404.80" font-size="9.0" text-anchor="end" fill="#262626" font-weight="normal" stroke="#262626" stroke-width="0.18" textLength="4.8" lengthAdjust="spacingAndGlyphs">0</text>
<line x1="363.00" y1="375.93" x2="366.00" y2="375.93" stroke="#222222" stroke-width="1.0"/>
<text x="359.60" y="379.13" font-size="9.0" text-anchor="end" fill="#262626" font-weight="normal" stroke="#262626" stroke-width="0.18" textLength="19.5" lengthAdjust="spacingAndGlyphs">1000</text>
<line x1="363.00" y1="350.27" x2="366.00" y2="350.27" stroke="#222222" stroke-width="1.0"/>
<text x="359.60" y="353.47" font-size="9.0" text-anchor="end" fill="#262626" font-weight="normal" stroke="#262626" stroke-width="0.18" textLength="19.5" lengthAdjust="spacingAndGlyphs">2000</text>
<line x1="363.00" y1="324.60" x2="366.00" y2="324.60" stroke="#222222" stroke-width="1.0"/>
<text x="359.60" y="327.80" font-size="9.0" text-anchor="end" fill="#262626" font-weight="normal" stroke="#262626" stroke-width="0.18" textLength="19.5" lengthAdjust="spacingAndGlyphs">3000</text>
<line x1="366.00" y1="401.60" x2="482.50" y2="401.60" stroke="#222222" stroke-width="1.4"/>
<line x1="366.00" y1="401.60" x2="366.00" y2="404.60" stroke="#222222" stroke-width="1.0"/>
<text x="366.00" y="414.80" font-size="9.2" text-anchor="middle" fill="#262626" font-weight="normal" stroke="#262626" stroke-width="0.18" textLength="5.0" lengthAdjust="spacingAndGlyphs">0</text>
<line x1="384.87" y1="401.60" x2="384.87" y2="404.60" stroke="#222222" stroke-width="1.0"/>
<text x="384.87" y="414.80" font-size="9.2" text-anchor="middle" fill="#262626" font-weight="normal" stroke="#262626" stroke-width="0.18" textLength="10.0" lengthAdjust="spacingAndGlyphs">20</text>
<line x1="403.73" y1="401.60" x2="403.73" y2="404.60" stroke="#222222" stroke-width="1.0"/>
<text x="403.73" y="414.80" font-size="9.2" text-anchor="middle" fill="#262626" font-weight="normal" stroke="#262626" stroke-width="0.18" textLength="10.0" lengthAdjust="spacingAndGlyphs">40</text>
<line x1="422.60" y1="401.60" x2="422.60" y2="404.60" stroke="#222222" stroke-width="1.0"/>
<text x="422.60" y="414.80" font-size="9.2" text-anchor="middle" fill="#262626" font-weight="normal" stroke="#262626" stroke-width="0.18" textLength="10.0" lengthAdjust="spacingAndGlyphs">60</text>
<line x1="441.47" y1="401.60" x2="441.47" y2="404.60" stroke="#222222" stroke-width="1.0"/>
<text x="441.47" y="414.80" font-size="9.2" text-anchor="middle" fill="#262626" font-weight="normal" stroke="#262626" stroke-width="0.18" textLength="10.0" lengthAdjust="spacingAndGlyphs">80</text>
<line x1="460.33" y1="401.60" x2="460.33" y2="404.60" stroke="#222222" stroke-width="1.0"/>
<text x="460.33" y="414.80" font-size="9.2" text-anchor="middle" fill="#262626" font-weight="normal" stroke="#262626" stroke-width="0.18" textLength="15.6" lengthAdjust="spacingAndGlyphs">100</text>
<line x1="479.20" y1="401.60" x2="479.20" y2="404.60" stroke="#222222" stroke-width="1.0"/>
<text x="479.20" y="414.80" font-size="9.2" text-anchor="middle" fill="#262626" font-weight="normal" stroke="#262626" stroke-width="0.18" textLength="15.6" lengthAdjust="spacingAndGlyphs">120</text>
<text x="424.40" y="429.40" font-size="10.8" text-anchor="middle" fill="#262626" font-weight="normal" stroke="#262626" stroke-width="0.18" textLength="35.2" lengthAdjust="spacingAndGlyphs">Study day</text>
<text transform="translate(335.40,360.90) rotate(-90)" x="0" y="0" font-size="10.6" text-anchor="middle" fill="#262626" stroke="#262626" stroke-width="0.18" textLength="78.6" lengthAdjust="spacingAndGlyphs">Tumor volume [mm<tspan font-size="7.4" dy="-4.0">3</tspan><tspan dy="4.0">]</tspan></text>
<polyline points="375.43,397.18 378.26,394.44 380.15,390.85 382.04,386.27 384.87,379.08 386.75,370.10 388.64,346.89 390.90,324.60" fill="none" stroke="#1d4a80" stroke-width="0.75" stroke-linejoin="round"/>
<circle cx="375.43" cy="397.18" r="0.75" fill="#1d4a80" stroke="none" stroke-width="0.6"/>
<circle cx="378.26" cy="394.44" r="0.75" fill="#1d4a80" stroke="none" stroke-width="0.6"/>
<circle cx="380.15" cy="390.85" r="0.75" fill="#1d4a80" stroke="none" stroke-width="0.6"/>
<circle cx="382.04" cy="386.27" r="0.75" fill="#1d4a80" stroke="none" stroke-width="0.6"/>
<circle cx="384.87" cy="379.08" r="0.75" fill="#1d4a80" stroke="none" stroke-width="0.6"/>
<circle cx="386.75" cy="370.10" r="0.75" fill="#1d4a80" stroke="none" stroke-width="0.6"/>
<circle cx="388.64" cy="346.89" r="0.75" fill="#1d4a80" stroke="none" stroke-width="0.6"/>
<circle cx="390.90" cy="324.60" r="0.75" fill="#1d4a80" stroke="none" stroke-width="0.6"/>
<polyline points="375.43,396.72 378.26,394.79 380.15,391.57 382.04,389.11 384.87,381.18 386.75,377.10 388.64,364.25 391.47,339.63 392.70,332.30" fill="none" stroke="#1d4a80" stroke-width="0.75" stroke-linejoin="round"/>
<circle cx="375.43" cy="396.72" r="0.75" fill="#1d4a80" stroke="none" stroke-width="0.6"/>
<circle cx="378.26" cy="394.79" r="0.75" fill="#1d4a80" stroke="none" stroke-width="0.6"/>
<circle cx="380.15" cy="391.57" r="0.75" fill="#1d4a80" stroke="none" stroke-width="0.6"/>
<circle cx="382.04" cy="389.11" r="0.75" fill="#1d4a80" stroke="none" stroke-width="0.6"/>
<circle cx="384.87" cy="381.18" r="0.75" fill="#1d4a80" stroke="none" stroke-width="0.6"/>
<circle cx="386.75" cy="377.10" r="0.75" fill="#1d4a80" stroke="none" stroke-width="0.6"/>
<circle cx="388.64" cy="364.25" r="0.75" fill="#1d4a80" stroke="none" stroke-width="0.6"/>
<circle cx="391.47" cy="339.63" r="0.75" fill="#1d4a80" stroke="none" stroke-width="0.6"/>
<circle cx="392.70" cy="332.30" r="0.75" fill="#1d4a80" stroke="none" stroke-width="0.6"/>
<polyline points="375.43,394.76 378.26,393.18 380.15,388.92 382.04,386.10 384.87,380.93 386.75,377.13 388.64,363.52 392.41,345.13" fill="none" stroke="#1d4a80" stroke-width="0.75" stroke-linejoin="round"/>
<circle cx="375.43" cy="394.76" r="0.75" fill="#1d4a80" stroke="none" stroke-width="0.6"/>
<circle cx="378.26" cy="393.18" r="0.75" fill="#1d4a80" stroke="none" stroke-width="0.6"/>
<circle cx="380.15" cy="388.92" r="0.75" fill="#1d4a80" stroke="none" stroke-width="0.6"/>
<circle cx="382.04" cy="386.10" r="0.75" fill="#1d4a80" stroke="none" stroke-width="0.6"/>
<circle cx="384.87" cy="380.93" r="0.75" fill="#1d4a80" stroke="none" stroke-width="0.6"/>
<circle cx="386.75" cy="377.13" r="0.75" fill="#1d4a80" stroke="none" stroke-width="0.6"/>
<circle cx="388.64" cy="363.52" r="0.75" fill="#1d4a80" stroke="none" stroke-width="0.6"/>
<circle cx="392.41" cy="345.13" r="0.75" fill="#1d4a80" stroke="none" stroke-width="0.6"/>
<polyline points="375.43,394.54 378.26,390.38 380.15,385.20 382.04,381.34 384.87,364.86 386.75,354.42 388.64,334.87" fill="none" stroke="#1d4a80" stroke-width="0.75" stroke-linejoin="round"/>
<circle cx="375.43" cy="394.54" r="0.75" fill="#1d4a80" stroke="none" stroke-width="0.6"/>
<circle cx="378.26" cy="390.38" r="0.75" fill="#1d4a80" stroke="none" stroke-width="0.6"/>
<circle cx="380.15" cy="385.20" r="0.75" fill="#1d4a80" stroke="none" stroke-width="0.6"/>
<circle cx="382.04" cy="381.34" r="0.75" fill="#1d4a80" stroke="none" stroke-width="0.6"/>
<circle cx="384.87" cy="364.86" r="0.75" fill="#1d4a80" stroke="none" stroke-width="0.6"/>
<circle cx="386.75" cy="354.42" r="0.75" fill="#1d4a80" stroke="none" stroke-width="0.6"/>
<circle cx="388.64" cy="334.87" r="0.75" fill="#1d4a80" stroke="none" stroke-width="0.6"/>
<polyline points="375.43,395.12 378.26,389.89 380.15,383.97 382.04,370.61 385.62,343.34" fill="none" stroke="#1d4a80" stroke-width="0.75" stroke-linejoin="round"/>
<circle cx="375.43" cy="395.12" r="0.75" fill="#1d4a80" stroke="none" stroke-width="0.6"/>
<circle cx="378.26" cy="389.89" r="0.75" fill="#1d4a80" stroke="none" stroke-width="0.6"/>
<circle cx="380.15" cy="383.97" r="0.75" fill="#1d4a80" stroke="none" stroke-width="0.6"/>
<circle cx="382.04" cy="370.61" r="0.75" fill="#1d4a80" stroke="none" stroke-width="0.6"/>
<circle cx="385.62" cy="343.34" r="0.75" fill="#1d4a80" stroke="none" stroke-width="0.6"/>
<polyline points="375.43,395.82 378.26,392.10 380.15,389.17 382.04,385.01 384.87,374.16 386.75,364.66 388.64,352.83" fill="none" stroke="#1d4a80" stroke-width="0.75" stroke-linejoin="round"/>
<circle cx="375.43" cy="395.82" r="0.75" fill="#1d4a80" stroke="none" stroke-width="0.6"/>
<circle cx="378.26" cy="392.10" r="0.75" fill="#1d4a80" stroke="none" stroke-width="0.6"/>
<circle cx="380.15" cy="389.17" r="0.75" fill="#1d4a80" stroke="none" stroke-width="0.6"/>
<circle cx="382.04" cy="385.01" r="0.75" fill="#1d4a80" stroke="none" stroke-width="0.6"/>
<circle cx="384.87" cy="374.16" r="0.75" fill="#1d4a80" stroke="none" stroke-width="0.6"/>
<circle cx="386.75" cy="364.66" r="0.75" fill="#1d4a80" stroke="none" stroke-width="0.6"/>
<circle cx="388.64" cy="352.83" r="0.75" fill="#1d4a80" stroke="none" stroke-width="0.6"/>
<polyline points="375.43,394.64 378.26,391.86 380.15,388.93 382.04,386.68 384.87,382.89 386.75,373.65 388.64,365.46 391.47,355.40" fill="none" stroke="#1d4a80" stroke-width="0.75" stroke-linejoin="round"/>
<circle cx="375.43" cy="394.64" r="0.75" fill="#1d4a80" stroke="none" stroke-width="0.6"/>
<circle cx="378.26" cy="391.86" r="0.75" fill="#1d4a80" stroke="none" stroke-width="0.6"/>
<circle cx="380.15" cy="388.93" r="0.75" fill="#1d4a80" stroke="none" stroke-width="0.6"/>
<circle cx="382.04" cy="386.68" r="0.75" fill="#1d4a80" stroke="none" stroke-width="0.6"/>
<circle cx="384.87" cy="382.89" r="0.75" fill="#1d4a80" stroke="none" stroke-width="0.6"/>
<circle cx="386.75" cy="373.65" r="0.75" fill="#1d4a80" stroke="none" stroke-width="0.6"/>
<circle cx="388.64" cy="365.46" r="0.75" fill="#1d4a80" stroke="none" stroke-width="0.6"/>
<circle cx="391.47" cy="355.40" r="0.75" fill="#1d4a80" stroke="none" stroke-width="0.6"/>
<polyline points="375.43,395.48 378.26,392.91 380.15,387.79 382.04,383.77 384.87,374.95 386.75,363.10" fill="none" stroke="#1d4a80" stroke-width="0.75" stroke-linejoin="round"/>
<circle cx="375.43" cy="395.48" r="0.75" fill="#1d4a80" stroke="none" stroke-width="0.6"/>
<circle cx="378.26" cy="392.91" r="0.75" fill="#1d4a80" stroke="none" stroke-width="0.6"/>
<circle cx="380.15" cy="387.79" r="0.75" fill="#1d4a80" stroke="none" stroke-width="0.6"/>
<circle cx="382.04" cy="383.77" r="0.75" fill="#1d4a80" stroke="none" stroke-width="0.6"/>
<circle cx="384.87" cy="374.95" r="0.75" fill="#1d4a80" stroke="none" stroke-width="0.6"/>
<circle cx="386.75" cy="363.10" r="0.75" fill="#1d4a80" stroke="none" stroke-width="0.6"/>
<polyline points="375.43,393.71 378.26,392.92 380.15,388.89 382.04,387.34 384.87,383.38 386.75,378.35 389.58,368.23" fill="none" stroke="#1d4a80" stroke-width="0.75" stroke-linejoin="round"/>
<circle cx="375.43" cy="393.71" r="0.75" fill="#1d4a80" stroke="none" stroke-width="0.6"/>
<circle cx="378.26" cy="392.92" r="0.75" fill="#1d4a80" stroke="none" stroke-width="0.6"/>
<circle cx="380.15" cy="388.89" r="0.75" fill="#1d4a80" stroke="none" stroke-width="0.6"/>
<circle cx="382.04" cy="387.34" r="0.75" fill="#1d4a80" stroke="none" stroke-width="0.6"/>
<circle cx="384.87" cy="383.38" r="0.75" fill="#1d4a80" stroke="none" stroke-width="0.6"/>
<circle cx="386.75" cy="378.35" r="0.75" fill="#1d4a80" stroke="none" stroke-width="0.6"/>
<circle cx="389.58" cy="368.23" r="0.75" fill="#1d4a80" stroke="none" stroke-width="0.6"/>
<polyline points="375.43,395.24 378.26,390.98 380.15,389.82 382.04,383.80 384.87,378.12 386.75,367.44 388.64,356.94 391.94,340.00" fill="none" stroke="#1d4a80" stroke-width="0.75" stroke-linejoin="round"/>
<circle cx="375.43" cy="395.24" r="0.75" fill="#1d4a80" stroke="none" stroke-width="0.6"/>
<circle cx="378.26" cy="390.98" r="0.75" fill="#1d4a80" stroke="none" stroke-width="0.6"/>
<circle cx="380.15" cy="389.82" r="0.75" fill="#1d4a80" stroke="none" stroke-width="0.6"/>
<circle cx="382.04" cy="383.80" r="0.75" fill="#1d4a80" stroke="none" stroke-width="0.6"/>
<circle cx="384.87" cy="378.12" r="0.75" fill="#1d4a80" stroke="none" stroke-width="0.6"/>
<circle cx="386.75" cy="367.44" r="0.75" fill="#1d4a80" stroke="none" stroke-width="0.6"/>
<circle cx="388.64" cy="356.94" r="0.75" fill="#1d4a80" stroke="none" stroke-width="0.6"/>
<circle cx="391.94" cy="340.00" r="0.75" fill="#1d4a80" stroke="none" stroke-width="0.6"/>
<text x="7.30" y="455.80" font-size="12.8" text-anchor="start" fill="#111" font-weight="bold" textLength="9.2" lengthAdjust="spacingAndGlyphs">D</text>
<text x="90.50" y="458.00" font-size="10.4" text-anchor="start" fill="#262626" font-weight="normal" stroke="#262626" stroke-width="0.18" textLength="63.3" lengthAdjust="spacingAndGlyphs">Monotherapy</text>
<line x1="63.75" y1="463.40" x2="180.00" y2="463.40" stroke="#333" stroke-width="1.1"/>
<text x="100.00" y="473.80" font-size="8.4" text-anchor="start" fill="#262626" font-weight="normal" stroke="#262626" stroke-width="0.18" textLength="43.2" lengthAdjust="spacingAndGlyphs">Glofitamab</text>
<text x="281.50" y="458.00" font-size="10.4" text-anchor="start" fill="#262626" font-weight="normal" stroke="#262626" stroke-width="0.18" textLength="99.5" lengthAdjust="spacingAndGlyphs">Double combinations</text>
<line x1="199.30" y1="463.60" x2="460.40" y2="463.60" stroke="#333" stroke-width="1.1"/>
<text x="208.80" y="473.80" font-size="8.4" text-anchor="start" fill="#262626" font-weight="normal" stroke="#262626" stroke-width="0.18" textLength="105.9" lengthAdjust="spacingAndGlyphs">Glofitamab + CD19-4-1BBL</text>
<text x="352.20" y="473.80" font-size="8.4" text-anchor="start" fill="#262626" font-weight="normal" stroke="#262626" stroke-width="0.18" textLength="101.0" lengthAdjust="spacingAndGlyphs">Glofitamab + CD19-CD28</text>
<rect x="235.03" y="482.50" width="82.07" height="76.90" fill="#fcdc97"/>
<rect x="375.83" y="482.50" width="82.07" height="76.90" fill="#c9c4e3"/>
<line x1="63.50" y1="480.20" x2="63.50" y2="560.00" stroke="#222222" stroke-width="1.4"/>
<line x1="60.50" y1="559.40" x2="63.50" y2="559.40" stroke="#222222" stroke-width="1.0"/>
<text x="57.10" y="562.60" font-size="9.0" text-anchor="end" fill="#262626" font-weight="normal" stroke="#262626" stroke-width="0.18" textLength="4.8" lengthAdjust="spacingAndGlyphs">0</text>
<line x1="60.50" y1="533.77" x2="63.50" y2="533.77" stroke="#222222" stroke-width="1.0"/>
<text x="57.10" y="536.97" font-size="9.0" text-anchor="end" fill="#262626" font-weight="normal" stroke="#262626" stroke-width="0.18" textLength="19.5" lengthAdjust="spacingAndGlyphs">1000</text>
<line x1="60.50" y1="508.13" x2="63.50" y2="508.13" stroke="#222222" stroke-width="1.0"/>
<text x="57.10" y="511.33" font-size="9.0" text-anchor="end" fill="#262626" font-weight="normal" stroke="#262626" stroke-width="0.18" textLength="19.5" lengthAdjust="spacingAndGlyphs">2000</text>
<line x1="60.50" y1="482.50" x2="63.50" y2="482.50" stroke="#222222" stroke-width="1.0"/>
<text x="57.10" y="485.70" font-size="9.0" text-anchor="end" fill="#262626" font-weight="normal" stroke="#262626" stroke-width="0.18" textLength="19.5" lengthAdjust="spacingAndGlyphs">3000</text>
<line x1="63.50" y1="559.40" x2="180.00" y2="559.40" stroke="#222222" stroke-width="1.4"/>
<line x1="63.50" y1="559.40" x2="63.50" y2="562.40" stroke="#222222" stroke-width="1.0"/>
<text x="63.50" y="572.60" font-size="9.2" text-anchor="middle" fill="#262626" font-weight="normal" stroke="#262626" stroke-width="0.18" textLength="5.0" lengthAdjust="spacingAndGlyphs">0</text>
<line x1="82.37" y1="559.40" x2="82.37" y2="562.40" stroke="#222222" stroke-width="1.0"/>
<text x="82.37" y="572.60" font-size="9.2" text-anchor="middle" fill="#262626" font-weight="normal" stroke="#262626" stroke-width="0.18" textLength="10.0" lengthAdjust="spacingAndGlyphs">20</text>
<line x1="101.23" y1="559.40" x2="101.23" y2="562.40" stroke="#222222" stroke-width="1.0"/>
<text x="101.23" y="572.60" font-size="9.2" text-anchor="middle" fill="#262626" font-weight="normal" stroke="#262626" stroke-width="0.18" textLength="10.0" lengthAdjust="spacingAndGlyphs">40</text>
<line x1="120.10" y1="559.40" x2="120.10" y2="562.40" stroke="#222222" stroke-width="1.0"/>
<text x="120.10" y="572.60" font-size="9.2" text-anchor="middle" fill="#262626" font-weight="normal" stroke="#262626" stroke-width="0.18" textLength="10.0" lengthAdjust="spacingAndGlyphs">60</text>
<line x1="138.97" y1="559.40" x2="138.97" y2="562.40" stroke="#222222" stroke-width="1.0"/>
<text x="138.97" y="572.60" font-size="9.2" text-anchor="middle" fill="#262626" font-weight="normal" stroke="#262626" stroke-width="0.18" textLength="10.0" lengthAdjust="spacingAndGlyphs">80</text>
<line x1="157.83" y1="559.40" x2="157.83" y2="562.40" stroke="#222222" stroke-width="1.0"/>
<text x="157.83" y="572.60" font-size="9.2" text-anchor="middle" fill="#262626" font-weight="normal" stroke="#262626" stroke-width="0.18" textLength="15.6" lengthAdjust="spacingAndGlyphs">100</text>
<line x1="176.70" y1="559.40" x2="176.70" y2="562.40" stroke="#222222" stroke-width="1.0"/>
<text x="176.70" y="572.60" font-size="9.2" text-anchor="middle" fill="#262626" font-weight="normal" stroke="#262626" stroke-width="0.18" textLength="15.6" lengthAdjust="spacingAndGlyphs">120</text>
<text x="121.90" y="587.20" font-size="10.8" text-anchor="middle" fill="#262626" font-weight="normal" stroke="#262626" stroke-width="0.18" textLength="35.2" lengthAdjust="spacingAndGlyphs">Study day</text>
<text transform="translate(32.00,518.80) rotate(-90)" x="0" y="0" font-size="10.6" text-anchor="middle" fill="#262626" stroke="#262626" stroke-width="0.18" textLength="78.6" lengthAdjust="spacingAndGlyphs">Tumor volume [mm<tspan font-size="7.4" dy="-4.0">3</tspan><tspan dy="4.0">]</tspan></text>
<polyline points="72.93,555.55 74.35,551.35 75.76,552.20 77.65,548.39 79.54,545.30 80.95,543.97 82.37,546.58 84.25,549.72 86.14,552.99 87.56,552.42 88.97,554.79 90.86,551.81 92.74,547.87 94.16,540.44 94.63,538.97 95.57,529.82 96.80,529.15 99.35,516.09 99.82,519.92 101.70,506.72" fill="none" stroke="#1d4a80" stroke-width="0.75" stroke-linejoin="round"/>
<circle cx="72.93" cy="555.55" r="0.75" fill="#1d4a80" stroke="none" stroke-width="0.6"/>
<circle cx="74.35" cy="551.35" r="0.75" fill="#1d4a80" stroke="none" stroke-width="0.6"/>
<circle cx="75.76" cy="552.20" r="0.75" fill="#1d4a80" stroke="none" stroke-width="0.6"/>
<circle cx="77.65" cy="548.39" r="0.75" fill="#1d4a80" stroke="none" stroke-width="0.6"/>
<circle cx="79.54" cy="545.30" r="0.75" fill="#1d4a80" stroke="none" stroke-width="0.6"/>
<circle cx="80.95" cy="543.97" r="0.75" fill="#1d4a80" stroke="none" stroke-width="0.6"/>
<circle cx="82.37" cy="546.58" r="0.75" fill="#1d4a80" stroke="none" stroke-width="0.6"/>
<circle cx="84.25" cy="549.72" r="0.75" fill="#1d4a80" stroke="none" stroke-width="0.6"/>
<circle cx="86.14" cy="552.99" r="0.75" fill="#1d4a80" stroke="none" stroke-width="0.6"/>
<circle cx="87.56" cy="552.42" r="0.75" fill="#1d4a80" stroke="none" stroke-width="0.6"/>
<circle cx="88.97" cy="554.79" r="0.75" fill="#1d4a80" stroke="none" stroke-width="0.6"/>
<circle cx="90.86" cy="551.81" r="0.75" fill="#1d4a80" stroke="none" stroke-width="0.6"/>
<circle cx="92.74" cy="547.87" r="0.75" fill="#1d4a80" stroke="none" stroke-width="0.6"/>
<circle cx="94.16" cy="540.44" r="0.75" fill="#1d4a80" stroke="none" stroke-width="0.6"/>
<circle cx="94.63" cy="538.97" r="0.75" fill="#1d4a80" stroke="none" stroke-width="0.6"/>
<circle cx="95.57" cy="529.82" r="0.75" fill="#1d4a80" stroke="none" stroke-width="0.6"/>
<circle cx="96.80" cy="529.15" r="0.75" fill="#1d4a80" stroke="none" stroke-width="0.6"/>
<circle cx="99.35" cy="516.09" r="0.75" fill="#1d4a80" stroke="none" stroke-width="0.6"/>
<circle cx="99.82" cy="519.92" r="0.75" fill="#1d4a80" stroke="none" stroke-width="0.6"/>
<circle cx="101.70" cy="506.72" r="0.75" fill="#1d4a80" stroke="none" stroke-width="0.6"/>
<polyline points="72.93,554.27 74.35,552.71 75.76,548.24 77.65,546.20 79.54,542.74 80.95,541.07 82.37,544.02 84.25,552.11 86.14,551.71 87.56,550.99 88.97,552.99 90.86,551.68 92.74,550.43 94.16,548.32 95.57,546.58 97.46,546.58 99.35,535.96 99.82,531.72 102.18,529.92 102.93,532.87 105.95,503.01" fill="none" stroke="#1d4a80" stroke-width="0.75" stroke-linejoin="round"/>
<circle cx="72.93" cy="554.27" r="0.75" fill="#1d4a80" stroke="none" stroke-width="0.6"/>
<circle cx="74.35" cy="552.71" r="0.75" fill="#1d4a80" stroke="none" stroke-width="0.6"/>
<circle cx="75.76" cy="548.24" r="0.75" fill="#1d4a80" stroke="none" stroke-width="0.6"/>
<circle cx="77.65" cy="546.20" r="0.75" fill="#1d4a80" stroke="none" stroke-width="0.6"/>
<circle cx="79.54" cy="542.74" r="0.75" fill="#1d4a80" stroke="none" stroke-width="0.6"/>
<circle cx="80.95" cy="541.07" r="0.75" fill="#1d4a80" stroke="none" stroke-width="0.6"/>
<circle cx="82.37" cy="544.02" r="0.75" fill="#1d4a80" stroke="none" stroke-width="0.6"/>
<circle cx="84.25" cy="552.11" r="0.75" fill="#1d4a80" stroke="none" stroke-width="0.6"/>
<circle cx="86.14" cy="551.71" r="0.75" fill="#1d4a80" stroke="none" stroke-width="0.6"/>
<circle cx="87.56" cy="550.99" r="0.75" fill="#1d4a80" stroke="none" stroke-width="0.6"/>
<circle cx="88.97" cy="552.99" r="0.75" fill="#1d4a80" stroke="none" stroke-width="0.6"/>
<circle cx="90.86" cy="551.68" r="0.75" fill="#1d4a80" stroke="none" stroke-width="0.6"/>
<circle cx="92.74" cy="550.43" r="0.75" fill="#1d4a80" stroke="none" stroke-width="0.6"/>
<circle cx="94.16" cy="548.32" r="0.75" fill="#1d4a80" stroke="none" stroke-width="0.6"/>
<circle cx="95.57" cy="546.58" r="0.75" fill="#1d4a80" stroke="none" stroke-width="0.6"/>
<circle cx="97.46" cy="546.58" r="0.75" fill="#1d4a80" stroke="none" stroke-width="0.6"/>
<circle cx="99.35" cy="535.96" r="0.75" fill="#1d4a80" stroke="none" stroke-width="0.6"/>
<circle cx="99.82" cy="531.72" r="0.75" fill="#1d4a80" stroke="none" stroke-width="0.6"/>
<circle cx="102.18" cy="529.92" r="0.75" fill="#1d4a80" stroke="none" stroke-width="0.6"/>
<circle cx="102.93" cy="532.87" r="0.75" fill="#1d4a80" stroke="none" stroke-width="0.6"/>
<circle cx="105.95" cy="503.01" r="0.75" fill="#1d4a80" stroke="none" stroke-width="0.6"/>
<polyline points="72.93,556.32 74.35,550.85 75.76,554.51 77.65,544.35 79.54,544.02 80.95,541.68 82.37,541.97 84.25,544.33 86.14,549.15 87.56,552.18 88.97,554.27 90.86,555.39 92.74,555.55 94.16,553.10 95.57,553.54 99.35,552.99 102.18,553.03 104.53,551.71 105.95,542.93 106.89,529.15 108.78,490.70" fill="none" stroke="#1d4a80" stroke-width="0.75" stroke-linejoin="round"/>
<circle cx="72.93" cy="556.32" r="0.75" fill="#1d4a80" stroke="none" stroke-width="0.6"/>
<circle cx="74.35" cy="550.85" r="0.75" fill="#1d4a80" stroke="none" stroke-width="0.6"/>
<circle cx="75.76" cy="554.51" r="0.75" fill="#1d4a80" stroke="none" stroke-width="0.6"/>
<circle cx="77.65" cy="544.35" r="0.75" fill="#1d4a80" stroke="none" stroke-width="0.6"/>
<circle cx="79.54" cy="544.02" r="0.75" fill="#1d4a80" stroke="none" stroke-width="0.6"/>
<circle cx="80.95" cy="541.68" r="0.75" fill="#1d4a80" stroke="none" stroke-width="0.6"/>
<circle cx="82.37" cy="541.97" r="0.75" fill="#1d4a80" stroke="none" stroke-width="0.6"/>
<circle cx="84.25" cy="544.33" r="0.75" fill="#1d4a80" stroke="none" stroke-width="0.6"/>
<circle cx="86.14" cy="549.15" r="0.75" fill="#1d4a80" stroke="none" stroke-width="0.6"/>
<circle cx="87.56" cy="552.18" r="0.75" fill="#1d4a80" stroke="none" stroke-width="0.6"/>
<circle cx="88.97" cy="554.27" r="0.75" fill="#1d4a80" stroke="none" stroke-width="0.6"/>
<circle cx="90.86" cy="555.39" r="0.75" fill="#1d4a80" stroke="none" stroke-width="0.6"/>
<circle cx="92.74" cy="555.55" r="0.75" fill="#1d4a80" stroke="none" stroke-width="0.6"/>
<circle cx="94.16" cy="553.10" r="0.75" fill="#1d4a80" stroke="none" stroke-width="0.6"/>
<circle cx="95.57" cy="553.54" r="0.75" fill="#1d4a80" stroke="none" stroke-width="0.6"/>
<circle cx="99.35" cy="552.99" r="0.75" fill="#1d4a80" stroke="none" stroke-width="0.6"/>
<circle cx="102.18" cy="553.03" r="0.75" fill="#1d4a80" stroke="none" stroke-width="0.6"/>
<circle cx="104.53" cy="551.71" r="0.75" fill="#1d4a80" stroke="none" stroke-width="0.6"/>
<circle cx="105.95" cy="542.93" r="0.75" fill="#1d4a80" stroke="none" stroke-width="0.6"/>
<circle cx="106.89" cy="529.15" r="0.75" fill="#1d4a80" stroke="none" stroke-width="0.6"/>
<circle cx="108.78" cy="490.70" r="0.75" fill="#1d4a80" stroke="none" stroke-width="0.6"/>
<polyline points="72.93,554.79 74.35,553.12 75.76,549.15 77.65,546.22 79.54,541.46 80.95,543.19 82.37,545.30 84.25,550.64 86.14,550.43 87.56,554.67 88.97,555.55 90.86,553.43 92.74,552.99 94.16,553.91 95.57,552.99 99.35,551.74 102.18,552.99 105.95,536.33 107.84,509.41" fill="none" stroke="#1d4a80" stroke-width="0.75" stroke-linejoin="round"/>
<circle cx="72.93" cy="554.79" r="0.75" fill="#1d4a80" stroke="none" stroke-width="0.6"/>
<circle cx="74.35" cy="553.12" r="0.75" fill="#1d4a80" stroke="none" stroke-width="0.6"/>
<circle cx="75.76" cy="549.15" r="0.75" fill="#1d4a80" stroke="none" stroke-width="0.6"/>
<circle cx="77.65" cy="546.22" r="0.75" fill="#1d4a80" stroke="none" stroke-width="0.6"/>
<circle cx="79.54" cy="541.46" r="0.75" fill="#1d4a80" stroke="none" stroke-width="0.6"/>
<circle cx="80.95" cy="543.19" r="0.75" fill="#1d4a80" stroke="none" stroke-width="0.6"/>
<circle cx="82.37" cy="545.30" r="0.75" fill="#1d4a80" stroke="none" stroke-width="0.6"/>
<circle cx="84.25" cy="550.64" r="0.75" fill="#1d4a80" stroke="none" stroke-width="0.6"/>
<circle cx="86.14" cy="550.43" r="0.75" fill="#1d4a80" stroke="none" stroke-width="0.6"/>
<circle cx="87.56" cy="554.67" r="0.75" fill="#1d4a80" stroke="none" stroke-width="0.6"/>
<circle cx="88.97" cy="555.55" r="0.75" fill="#1d4a80" stroke="none" stroke-width="0.6"/>
<circle cx="90.86" cy="553.43" r="0.75" fill="#1d4a80" stroke="none" stroke-width="0.6"/>
<circle cx="92.74" cy="552.99" r="0.75" fill="#1d4a80" stroke="none" stroke-width="0.6"/>
<circle cx="94.16" cy="553.91" r="0.75" fill="#1d4a80" stroke="none" stroke-width="0.6"/>
<circle cx="95.57" cy="552.99" r="0.75" fill="#1d4a80" stroke="none" stroke-width="0.6"/>
<circle cx="99.35" cy="551.74" r="0.75" fill="#1d4a80" stroke="none" stroke-width="0.6"/>
<circle cx="102.18" cy="552.99" r="0.75" fill="#1d4a80" stroke="none" stroke-width="0.6"/>
<circle cx="105.95" cy="536.33" r="0.75" fill="#1d4a80" stroke="none" stroke-width="0.6"/>
<circle cx="107.84" cy="509.41" r="0.75" fill="#1d4a80" stroke="none" stroke-width="0.6"/>
<polyline points="72.93,556.84 74.35,556.70 75.76,554.31 77.65,553.20 79.54,547.87 80.95,544.79 82.37,549.15 84.25,551.10 86.14,554.27 87.56,556.04 88.97,556.84 90.86,558.10 92.74,555.62 94.16,554.28 95.57,555.55 99.35,555.92 102.18,555.55 105.95,557.35 108.78,554.50 109.25,554.02 112.55,554.79 115.19,555.68 115.38,554.22 119.16,550.94 121.42,550.17 121.99,531.45 122.93,506.72" fill="none" stroke="#1d4a80" stroke-width="0.75" stroke-linejoin="round"/>
<circle cx="72.93" cy="556.84" r="0.75" fill="#1d4a80" stroke="none" stroke-width="0.6"/>
<circle cx="74.35" cy="556.70" r="0.75" fill="#1d4a80" stroke="none" stroke-width="0.6"/>
<circle cx="75.76" cy="554.31" r="0.75" fill="#1d4a80" stroke="none" stroke-width="0.6"/>
<circle cx="77.65" cy="553.20" r="0.75" fill="#1d4a80" stroke="none" stroke-width="0.6"/>
<circle cx="79.54" cy="547.87" r="0.75" fill="#1d4a80" stroke="none" stroke-width="0.6"/>
<circle cx="80.95" cy="544.79" r="0.75" fill="#1d4a80" stroke="none" stroke-width="0.6"/>
<circle cx="82.37" cy="549.15" r="0.75" fill="#1d4a80" stroke="none" stroke-width="0.6"/>
<circle cx="84.25" cy="551.10" r="0.75" fill="#1d4a80" stroke="none" stroke-width="0.6"/>
<circle cx="86.14" cy="554.27" r="0.75" fill="#1d4a80" stroke="none" stroke-width="0.6"/>
<circle cx="87.56" cy="556.04" r="0.75" fill="#1d4a80" stroke="none" stroke-width="0.6"/>
<circle cx="88.97" cy="556.84" r="0.75" fill="#1d4a80" stroke="none" stroke-width="0.6"/>
<circle cx="90.86" cy="558.10" r="0.75" fill="#1d4a80" stroke="none" stroke-width="0.6"/>
<circle cx="92.74" cy="555.62" r="0.75" fill="#1d4a80" stroke="none" stroke-width="0.6"/>
<circle cx="94.16" cy="554.28" r="0.75" fill="#1d4a80" stroke="none" stroke-width="0.6"/>
<circle cx="95.57" cy="555.55" r="0.75" fill="#1d4a80" stroke="none" stroke-width="0.6"/>
<circle cx="99.35" cy="555.92" r="0.75" fill="#1d4a80" stroke="none" stroke-width="0.6"/>
<circle cx="102.18" cy="555.55" r="0.75" fill="#1d4a80" stroke="none" stroke-width="0.6"/>
<circle cx="105.95" cy="557.35" r="0.75" fill="#1d4a80" stroke="none" stroke-width="0.6"/>
<circle cx="108.78" cy="554.50" r="0.75" fill="#1d4a80" stroke="none" stroke-width="0.6"/>
<circle cx="109.25" cy="554.02" r="0.75" fill="#1d4a80" stroke="none" stroke-width="0.6"/>
<circle cx="112.55" cy="554.79" r="0.75" fill="#1d4a80" stroke="none" stroke-width="0.6"/>
<circle cx="115.19" cy="555.68" r="0.75" fill="#1d4a80" stroke="none" stroke-width="0.6"/>
<circle cx="115.38" cy="554.22" r="0.75" fill="#1d4a80" stroke="none" stroke-width="0.6"/>
<circle cx="119.16" cy="550.94" r="0.75" fill="#1d4a80" stroke="none" stroke-width="0.6"/>
<circle cx="121.42" cy="550.17" r="0.75" fill="#1d4a80" stroke="none" stroke-width="0.6"/>
<circle cx="121.99" cy="531.45" r="0.75" fill="#1d4a80" stroke="none" stroke-width="0.6"/>
<circle cx="122.93" cy="506.72" r="0.75" fill="#1d4a80" stroke="none" stroke-width="0.6"/>
<polyline points="72.93,555.55 74.35,552.55 75.76,549.10 77.65,546.47 79.54,546.58 80.95,549.25 82.37,542.74 84.25,543.34 86.14,551.71 87.56,553.61 88.97,556.32 90.86,556.46 92.74,554.84 94.16,556.92 95.57,554.27 99.35,553.61 102.18,554.27 105.95,552.99 107.84,536.33" fill="none" stroke="#1d4a80" stroke-width="0.75" stroke-linejoin="round"/>
<circle cx="72.93" cy="555.55" r="0.75" fill="#1d4a80" stroke="none" stroke-width="0.6"/>
<circle cx="74.35" cy="552.55" r="0.75" fill="#1d4a80" stroke="none" stroke-width="0.6"/>
<circle cx="75.76" cy="549.10" r="0.75" fill="#1d4a80" stroke="none" stroke-width="0.6"/>
<circle cx="77.65" cy="546.47" r="0.75" fill="#1d4a80" stroke="none" stroke-width="0.6"/>
<circle cx="79.54" cy="546.58" r="0.75" fill="#1d4a80" stroke="none" stroke-width="0.6"/>
<circle cx="80.95" cy="549.25" r="0.75" fill="#1d4a80" stroke="none" stroke-width="0.6"/>
<circle cx="82.37" cy="542.74" r="0.75" fill="#1d4a80" stroke="none" stroke-width="0.6"/>
<circle cx="84.25" cy="543.34" r="0.75" fill="#1d4a80" stroke="none" stroke-width="0.6"/>
<circle cx="86.14" cy="551.71" r="0.75" fill="#1d4a80" stroke="none" stroke-width="0.6"/>
<circle cx="87.56" cy="553.61" r="0.75" fill="#1d4a80" stroke="none" stroke-width="0.6"/>
<circle cx="88.97" cy="556.32" r="0.75" fill="#1d4a80" stroke="none" stroke-width="0.6"/>
<circle cx="90.86" cy="556.46" r="0.75" fill="#1d4a80" stroke="none" stroke-width="0.6"/>
<circle cx="92.74" cy="554.84" r="0.75" fill="#1d4a80" stroke="none" stroke-width="0.6"/>
<circle cx="94.16" cy="556.92" r="0.75" fill="#1d4a80" stroke="none" stroke-width="0.6"/>
<circle cx="95.57" cy="554.27" r="0.75" fill="#1d4a80" stroke="none" stroke-width="0.6"/>
<circle cx="99.35" cy="553.61" r="0.75" fill="#1d4a80" stroke="none" stroke-width="0.6"/>
<circle cx="102.18" cy="554.27" r="0.75" fill="#1d4a80" stroke="none" stroke-width="0.6"/>
<circle cx="105.95" cy="552.99" r="0.75" fill="#1d4a80" stroke="none" stroke-width="0.6"/>
<circle cx="107.84" cy="536.33" r="0.75" fill="#1d4a80" stroke="none" stroke-width="0.6"/>
<polyline points="72.93,553.76 74.35,550.64 75.76,551.71 77.65,551.13 79.54,549.15 80.95,551.61 82.37,547.87 84.25,549.94 86.14,552.99 87.56,553.41 88.97,554.27 90.86,553.71 92.74,552.99 94.16,552.57 95.57,552.99 99.35,554.27 102.18,553.33 104.06,551.71 105.95,534.40 106.89,528.64" fill="none" stroke="#1d4a80" stroke-width="0.75" stroke-linejoin="round"/>
<circle cx="72.93" cy="553.76" r="0.75" fill="#1d4a80" stroke="none" stroke-width="0.6"/>
<circle cx="74.35" cy="550.64" r="0.75" fill="#1d4a80" stroke="none" stroke-width="0.6"/>
<circle cx="75.76" cy="551.71" r="0.75" fill="#1d4a80" stroke="none" stroke-width="0.6"/>
<circle cx="77.65" cy="551.13" r="0.75" fill="#1d4a80" stroke="none" stroke-width="0.6"/>
<circle cx="79.54" cy="549.15" r="0.75" fill="#1d4a80" stroke="none" stroke-width="0.6"/>
<circle cx="80.95" cy="551.61" r="0.75" fill="#1d4a80" stroke="none" stroke-width="0.6"/>
<circle cx="82.37" cy="547.87" r="0.75" fill="#1d4a80" stroke="none" stroke-width="0.6"/>
<circle cx="84.25" cy="549.94" r="0.75" fill="#1d4a80" stroke="none" stroke-width="0.6"/>
<circle cx="86.14" cy="552.99" r="0.75" fill="#1d4a80" stroke="none" stroke-width="0.6"/>
<circle cx="87.56" cy="553.41" r="0.75" fill="#1d4a80" stroke="none" stroke-width="0.6"/>
<circle cx="88.97" cy="554.27" r="0.75" fill="#1d4a80" stroke="none" stroke-width="0.6"/>
<circle cx="90.86" cy="553.71" r="0.75" fill="#1d4a80" stroke="none" stroke-width="0.6"/>
<circle cx="92.74" cy="552.99" r="0.75" fill="#1d4a80" stroke="none" stroke-width="0.6"/>
<circle cx="94.16" cy="552.57" r="0.75" fill="#1d4a80" stroke="none" stroke-width="0.6"/>
<circle cx="95.57" cy="552.99" r="0.75" fill="#1d4a80" stroke="none" stroke-width="0.6"/>
<circle cx="99.35" cy="554.27" r="0.75" fill="#1d4a80" stroke="none" stroke-width="0.6"/>
<circle cx="102.18" cy="553.33" r="0.75" fill="#1d4a80" stroke="none" stroke-width="0.6"/>
<circle cx="104.06" cy="551.71" r="0.75" fill="#1d4a80" stroke="none" stroke-width="0.6"/>
<circle cx="105.95" cy="534.40" r="0.75" fill="#1d4a80" stroke="none" stroke-width="0.6"/>
<circle cx="106.89" cy="528.64" r="0.75" fill="#1d4a80" stroke="none" stroke-width="0.6"/>
<polyline points="72.93,555.30 74.35,554.42 75.76,550.45 77.65,546.93 79.54,543.51 80.95,548.59 82.37,545.05 84.25,551.58 86.14,550.94 87.56,556.01 88.97,555.55 90.86,555.27 92.74,556.32 94.16,557.53 95.57,554.35 99.35,554.79 102.18,554.66 105.01,554.27 105.95,542.55 107.84,523.51" fill="none" stroke="#1d4a80" stroke-width="0.75" stroke-linejoin="round"/>
<circle cx="72.93" cy="555.30" r="0.75" fill="#1d4a80" stroke="none" stroke-width="0.6"/>
<circle cx="74.35" cy="554.42" r="0.75" fill="#1d4a80" stroke="none" stroke-width="0.6"/>
<circle cx="75.76" cy="550.45" r="0.75" fill="#1d4a80" stroke="none" stroke-width="0.6"/>
<circle cx="77.65" cy="546.93" r="0.75" fill="#1d4a80" stroke="none" stroke-width="0.6"/>
<circle cx="79.54" cy="543.51" r="0.75" fill="#1d4a80" stroke="none" stroke-width="0.6"/>
<circle cx="80.95" cy="548.59" r="0.75" fill="#1d4a80" stroke="none" stroke-width="0.6"/>
<circle cx="82.37" cy="545.05" r="0.75" fill="#1d4a80" stroke="none" stroke-width="0.6"/>
<circle cx="84.25" cy="551.58" r="0.75" fill="#1d4a80" stroke="none" stroke-width="0.6"/>
<circle cx="86.14" cy="550.94" r="0.75" fill="#1d4a80" stroke="none" stroke-width="0.6"/>
<circle cx="87.56" cy="556.01" r="0.75" fill="#1d4a80" stroke="none" stroke-width="0.6"/>
<circle cx="88.97" cy="555.55" r="0.75" fill="#1d4a80" stroke="none" stroke-width="0.6"/>
<circle cx="90.86" cy="555.27" r="0.75" fill="#1d4a80" stroke="none" stroke-width="0.6"/>
<circle cx="92.74" cy="556.32" r="0.75" fill="#1d4a80" stroke="none" stroke-width="0.6"/>
<circle cx="94.16" cy="557.53" r="0.75" fill="#1d4a80" stroke="none" stroke-width="0.6"/>
<circle cx="95.57" cy="554.35" r="0.75" fill="#1d4a80" stroke="none" stroke-width="0.6"/>
<circle cx="99.35" cy="554.79" r="0.75" fill="#1d4a80" stroke="none" stroke-width="0.6"/>
<circle cx="102.18" cy="554.66" r="0.75" fill="#1d4a80" stroke="none" stroke-width="0.6"/>
<circle cx="105.01" cy="554.27" r="0.75" fill="#1d4a80" stroke="none" stroke-width="0.6"/>
<circle cx="105.95" cy="542.55" r="0.75" fill="#1d4a80" stroke="none" stroke-width="0.6"/>
<circle cx="107.84" cy="523.51" r="0.75" fill="#1d4a80" stroke="none" stroke-width="0.6"/>
<line x1="203.90" y1="480.20" x2="203.90" y2="560.00" stroke="#222222" stroke-width="1.4"/>
<line x1="200.90" y1="559.40" x2="203.90" y2="559.40" stroke="#222222" stroke-width="1.0"/>
<line x1="200.90" y1="533.77" x2="203.90" y2="533.77" stroke="#222222" stroke-width="1.0"/>
<line x1="200.90" y1="508.13" x2="203.90" y2="508.13" stroke="#222222" stroke-width="1.0"/>
<line x1="200.90" y1="482.50" x2="203.90" y2="482.50" stroke="#222222" stroke-width="1.0"/>
<line x1="203.90" y1="559.40" x2="320.40" y2="559.40" stroke="#222222" stroke-width="1.4"/>
<line x1="203.90" y1="559.40" x2="203.90" y2="562.40" stroke="#222222" stroke-width="1.0"/>
<text x="203.90" y="572.60" font-size="9.2" text-anchor="middle" fill="#262626" font-weight="normal" stroke="#262626" stroke-width="0.18" textLength="5.0" lengthAdjust="spacingAndGlyphs">0</text>
<line x1="222.77" y1="559.40" x2="222.77" y2="562.40" stroke="#222222" stroke-width="1.0"/>
<text x="222.77" y="572.60" font-size="9.2" text-anchor="middle" fill="#262626" font-weight="normal" stroke="#262626" stroke-width="0.18" textLength="10.0" lengthAdjust="spacingAndGlyphs">20</text>
<line x1="241.63" y1="559.40" x2="241.63" y2="562.40" stroke="#222222" stroke-width="1.0"/>
<text x="241.63" y="572.60" font-size="9.2" text-anchor="middle" fill="#262626" font-weight="normal" stroke="#262626" stroke-width="0.18" textLength="10.0" lengthAdjust="spacingAndGlyphs">40</text>
<line x1="260.50" y1="559.40" x2="260.50" y2="562.40" stroke="#222222" stroke-width="1.0"/>
<text x="260.50" y="572.60" font-size="9.2" text-anchor="middle" fill="#262626" font-weight="normal" stroke="#262626" stroke-width="0.18" textLength="10.0" lengthAdjust="spacingAndGlyphs">60</text>
<line x1="279.37" y1="559.40" x2="279.37" y2="562.40" stroke="#222222" stroke-width="1.0"/>
<text x="279.37" y="572.60" font-size="9.2" text-anchor="middle" fill="#262626" font-weight="normal" stroke="#262626" stroke-width="0.18" textLength="10.0" lengthAdjust="spacingAndGlyphs">80</text>
<line x1="298.23" y1="559.40" x2="298.23" y2="562.40" stroke="#222222" stroke-width="1.0"/>
<text x="298.23" y="572.60" font-size="9.2" text-anchor="middle" fill="#262626" font-weight="normal" stroke="#262626" stroke-width="0.18" textLength="15.6" lengthAdjust="spacingAndGlyphs">100</text>
<line x1="317.10" y1="559.40" x2="317.10" y2="562.40" stroke="#222222" stroke-width="1.0"/>
<text x="317.10" y="572.60" font-size="9.2" text-anchor="middle" fill="#262626" font-weight="normal" stroke="#262626" stroke-width="0.18" textLength="15.6" lengthAdjust="spacingAndGlyphs">120</text>
<polyline points="213.33,553.76 214.75,555.48 216.16,550.82 218.05,552.15 219.94,546.58 221.35,548.68 222.77,547.87 224.65,542.74 226.54,545.93 227.96,541.92 229.37,542.49 231.26,542.41 232.20,542.74 233.14,546.71 234.56,531.03 235.97,533.77 238.80,520.95 239.75,521.33 241.92,505.31" fill="none" stroke="#1d4a80" stroke-width="0.75" stroke-linejoin="round"/>
<circle cx="213.33" cy="553.76" r="0.75" fill="#1d4a80" stroke="none" stroke-width="0.6"/>
<circle cx="214.75" cy="555.48" r="0.75" fill="#1d4a80" stroke="none" stroke-width="0.6"/>
<circle cx="216.16" cy="550.82" r="0.75" fill="#1d4a80" stroke="none" stroke-width="0.6"/>
<circle cx="218.05" cy="552.15" r="0.75" fill="#1d4a80" stroke="none" stroke-width="0.6"/>
<circle cx="219.94" cy="546.58" r="0.75" fill="#1d4a80" stroke="none" stroke-width="0.6"/>
<circle cx="221.35" cy="548.68" r="0.75" fill="#1d4a80" stroke="none" stroke-width="0.6"/>
<circle cx="222.77" cy="547.87" r="0.75" fill="#1d4a80" stroke="none" stroke-width="0.6"/>
<circle cx="224.65" cy="542.74" r="0.75" fill="#1d4a80" stroke="none" stroke-width="0.6"/>
<circle cx="226.54" cy="545.93" r="0.75" fill="#1d4a80" stroke="none" stroke-width="0.6"/>
<circle cx="227.96" cy="541.92" r="0.75" fill="#1d4a80" stroke="none" stroke-width="0.6"/>
<circle cx="229.37" cy="542.49" r="0.75" fill="#1d4a80" stroke="none" stroke-width="0.6"/>
<circle cx="231.26" cy="542.41" r="0.75" fill="#1d4a80" stroke="none" stroke-width="0.6"/>
<circle cx="232.20" cy="542.74" r="0.75" fill="#1d4a80" stroke="none" stroke-width="0.6"/>
<circle cx="233.14" cy="546.71" r="0.75" fill="#1d4a80" stroke="none" stroke-width="0.6"/>
<circle cx="234.56" cy="531.03" r="0.75" fill="#1d4a80" stroke="none" stroke-width="0.6"/>
<circle cx="235.97" cy="533.77" r="0.75" fill="#1d4a80" stroke="none" stroke-width="0.6"/>
<circle cx="238.80" cy="520.95" r="0.75" fill="#1d4a80" stroke="none" stroke-width="0.6"/>
<circle cx="239.75" cy="521.33" r="0.75" fill="#1d4a80" stroke="none" stroke-width="0.6"/>
<circle cx="241.92" cy="505.31" r="0.75" fill="#1d4a80" stroke="none" stroke-width="0.6"/>
<polyline points="213.33,555.55 214.75,556.34 216.16,552.62 218.05,550.43 219.94,549.15 221.35,543.42 222.11,531.84 222.77,530.74 224.65,547.87 226.54,545.54 227.96,552.58 229.37,551.71 231.26,552.89 233.14,554.27 234.56,555.50 235.97,553.39 239.75,555.55 242.11,550.43 242.58,548.60 246.35,545.34 248.90,536.46 249.18,534.21 252.95,545.05 255.78,546.52 256.73,542.74 259.56,543.12 260.97,536.46 262.39,537.28 265.22,532.49 266.16,532.17 268.99,530.91 269.27,527.61 272.76,523.51 275.59,520.95 279.37,491.73" fill="none" stroke="#1d4a80" stroke-width="0.75" stroke-linejoin="round"/>
<circle cx="213.33" cy="555.55" r="0.75" fill="#1d4a80" stroke="none" stroke-width="0.6"/>
<circle cx="214.75" cy="556.34" r="0.75" fill="#1d4a80" stroke="none" stroke-width="0.6"/>
<circle cx="216.16" cy="552.62" r="0.75" fill="#1d4a80" stroke="none" stroke-width="0.6"/>
<circle cx="218.05" cy="550.43" r="0.75" fill="#1d4a80" stroke="none" stroke-width="0.6"/>
<circle cx="219.94" cy="549.15" r="0.75" fill="#1d4a80" stroke="none" stroke-width="0.6"/>
<circle cx="221.35" cy="543.42" r="0.75" fill="#1d4a80" stroke="none" stroke-width="0.6"/>
<circle cx="222.11" cy="531.84" r="0.75" fill="#1d4a80" stroke="none" stroke-width="0.6"/>
<circle cx="222.77" cy="530.74" r="0.75" fill="#1d4a80" stroke="none" stroke-width="0.6"/>
<circle cx="224.65" cy="547.87" r="0.75" fill="#1d4a80" stroke="none" stroke-width="0.6"/>
<circle cx="226.54" cy="545.54" r="0.75" fill="#1d4a80" stroke="none" stroke-width="0.6"/>
<circle cx="227.96" cy="552.58" r="0.75" fill="#1d4a80" stroke="none" stroke-width="0.6"/>
<circle cx="229.37" cy="551.71" r="0.75" fill="#1d4a80" stroke="none" stroke-width="0.6"/>
<circle cx="231.26" cy="552.89" r="0.75" fill="#1d4a80" stroke="none" stroke-width="0.6"/>
<circle cx="233.14" cy="554.27" r="0.75" fill="#1d4a80" stroke="none" stroke-width="0.6"/>
<circle cx="234.56" cy="555.50" r="0.75" fill="#1d4a80" stroke="none" stroke-width="0.6"/>
<circle cx="235.97" cy="553.39" r="0.75" fill="#1d4a80" stroke="none" stroke-width="0.6"/>
<circle cx="239.75" cy="555.55" r="0.75" fill="#1d4a80" stroke="none" stroke-width="0.6"/>
<circle cx="242.11" cy="550.43" r="0.75" fill="#1d4a80" stroke="none" stroke-width="0.6"/>
<circle cx="242.58" cy="548.60" r="0.75" fill="#1d4a80" stroke="none" stroke-width="0.6"/>
<circle cx="246.35" cy="545.34" r="0.75" fill="#1d4a80" stroke="none" stroke-width="0.6"/>
<circle cx="248.90" cy="536.46" r="0.75" fill="#1d4a80" stroke="none" stroke-width="0.6"/>
<circle cx="249.18" cy="534.21" r="0.75" fill="#1d4a80" stroke="none" stroke-width="0.6"/>
<circle cx="252.95" cy="545.05" r="0.75" fill="#1d4a80" stroke="none" stroke-width="0.6"/>
<circle cx="255.78" cy="546.52" r="0.75" fill="#1d4a80" stroke="none" stroke-width="0.6"/>
<circle cx="256.73" cy="542.74" r="0.75" fill="#1d4a80" stroke="none" stroke-width="0.6"/>
<circle cx="259.56" cy="543.12" r="0.75" fill="#1d4a80" stroke="none" stroke-width="0.6"/>
<circle cx="260.97" cy="536.46" r="0.75" fill="#1d4a80" stroke="none" stroke-width="0.6"/>
<circle cx="262.39" cy="537.28" r="0.75" fill="#1d4a80" stroke="none" stroke-width="0.6"/>
<circle cx="265.22" cy="532.49" r="0.75" fill="#1d4a80" stroke="none" stroke-width="0.6"/>
<circle cx="266.16" cy="532.17" r="0.75" fill="#1d4a80" stroke="none" stroke-width="0.6"/>
<circle cx="268.99" cy="530.91" r="0.75" fill="#1d4a80" stroke="none" stroke-width="0.6"/>
<circle cx="269.27" cy="527.61" r="0.75" fill="#1d4a80" stroke="none" stroke-width="0.6"/>
<circle cx="272.76" cy="523.51" r="0.75" fill="#1d4a80" stroke="none" stroke-width="0.6"/>
<circle cx="275.59" cy="520.95" r="0.75" fill="#1d4a80" stroke="none" stroke-width="0.6"/>
<circle cx="279.37" cy="491.73" r="0.75" fill="#1d4a80" stroke="none" stroke-width="0.6"/>
<polyline points="213.33,554.27 214.75,552.26 216.16,550.48 218.05,547.74 219.94,547.87 221.35,544.80 222.77,546.58 224.65,547.84 226.54,551.71 227.96,551.32 229.37,553.39 231.26,552.69 233.14,555.55 234.56,556.78 235.97,557.26 239.75,556.84 242.58,555.56 246.35,555.55 249.18,553.70 252.95,552.99 255.78,549.96 259.56,549.15 262.39,544.78 266.16,538.89 268.99,537.25 272.76,528.64 275.59,524.27 277.76,514.29 279.37,505.54 282.20,517.39 283.14,509.41" fill="none" stroke="#1d4a80" stroke-width="0.75" stroke-linejoin="round"/>
<circle cx="213.33" cy="554.27" r="0.75" fill="#1d4a80" stroke="none" stroke-width="0.6"/>
<circle cx="214.75" cy="552.26" r="0.75" fill="#1d4a80" stroke="none" stroke-width="0.6"/>
<circle cx="216.16" cy="550.48" r="0.75" fill="#1d4a80" stroke="none" stroke-width="0.6"/>
<circle cx="218.05" cy="547.74" r="0.75" fill="#1d4a80" stroke="none" stroke-width="0.6"/>
<circle cx="219.94" cy="547.87" r="0.75" fill="#1d4a80" stroke="none" stroke-width="0.6"/>
<circle cx="221.35" cy="544.80" r="0.75" fill="#1d4a80" stroke="none" stroke-width="0.6"/>
<circle cx="222.77" cy="546.58" r="0.75" fill="#1d4a80" stroke="none" stroke-width="0.6"/>
<circle cx="224.65" cy="547.84" r="0.75" fill="#1d4a80" stroke="none" stroke-width="0.6"/>
<circle cx="226.54" cy="551.71" r="0.75" fill="#1d4a80" stroke="none" stroke-width="0.6"/>
<circle cx="227.96" cy="551.32" r="0.75" fill="#1d4a80" stroke="none" stroke-width="0.6"/>
<circle cx="229.37" cy="553.39" r="0.75" fill="#1d4a80" stroke="none" stroke-width="0.6"/>
<circle cx="231.26" cy="552.69" r="0.75" fill="#1d4a80" stroke="none" stroke-width="0.6"/>
<circle cx="233.14" cy="555.55" r="0.75" fill="#1d4a80" stroke="none" stroke-width="0.6"/>
<circle cx="234.56" cy="556.78" r="0.75" fill="#1d4a80" stroke="none" stroke-width="0.6"/>
<circle cx="235.97" cy="557.26" r="0.75" fill="#1d4a80" stroke="none" stroke-width="0.6"/>
<circle cx="239.75" cy="556.84" r="0.75" fill="#1d4a80" stroke="none" stroke-width="0.6"/>
<circle cx="242.58" cy="555.56" r="0.75" fill="#1d4a80" stroke="none" stroke-width="0.6"/>
<circle cx="246.35" cy="555.55" r="0.75" fill="#1d4a80" stroke="none" stroke-width="0.6"/>
<circle cx="249.18" cy="553.70" r="0.75" fill="#1d4a80" stroke="none" stroke-width="0.6"/>
<circle cx="252.95" cy="552.99" r="0.75" fill="#1d4a80" stroke="none" stroke-width="0.6"/>
<circle cx="255.78" cy="549.96" r="0.75" fill="#1d4a80" stroke="none" stroke-width="0.6"/>
<circle cx="259.56" cy="549.15" r="0.75" fill="#1d4a80" stroke="none" stroke-width="0.6"/>
<circle cx="262.39" cy="544.78" r="0.75" fill="#1d4a80" stroke="none" stroke-width="0.6"/>
<circle cx="266.16" cy="538.89" r="0.75" fill="#1d4a80" stroke="none" stroke-width="0.6"/>
<circle cx="268.99" cy="537.25" r="0.75" fill="#1d4a80" stroke="none" stroke-width="0.6"/>
<circle cx="272.76" cy="528.64" r="0.75" fill="#1d4a80" stroke="none" stroke-width="0.6"/>
<circle cx="275.59" cy="524.27" r="0.75" fill="#1d4a80" stroke="none" stroke-width="0.6"/>
<circle cx="277.76" cy="514.29" r="0.75" fill="#1d4a80" stroke="none" stroke-width="0.6"/>
<circle cx="279.37" cy="505.54" r="0.75" fill="#1d4a80" stroke="none" stroke-width="0.6"/>
<circle cx="282.20" cy="517.39" r="0.75" fill="#1d4a80" stroke="none" stroke-width="0.6"/>
<circle cx="283.14" cy="509.41" r="0.75" fill="#1d4a80" stroke="none" stroke-width="0.6"/>
<polyline points="213.33,554.79 214.75,553.53 216.16,550.45 218.05,550.11 219.94,550.43 221.35,547.19 222.77,549.15 224.65,552.75 226.54,552.91 227.96,553.80 229.37,554.27 231.26,553.57 233.14,557.84 234.56,556.65 235.97,556.84 239.75,554.93 242.58,555.55 246.35,553.88 249.18,554.27 252.95,553.79 255.78,552.99 259.56,550.76 262.39,546.58 266.16,538.73 268.99,533.77 272.76,527.35 275.59,523.51 279.37,515.82 282.20,518.44 285.69,517.62 285.97,510.13 288.14,497.88" fill="none" stroke="#1d4a80" stroke-width="0.75" stroke-linejoin="round"/>
<circle cx="213.33" cy="554.79" r="0.75" fill="#1d4a80" stroke="none" stroke-width="0.6"/>
<circle cx="214.75" cy="553.53" r="0.75" fill="#1d4a80" stroke="none" stroke-width="0.6"/>
<circle cx="216.16" cy="550.45" r="0.75" fill="#1d4a80" stroke="none" stroke-width="0.6"/>
<circle cx="218.05" cy="550.11" r="0.75" fill="#1d4a80" stroke="none" stroke-width="0.6"/>
<circle cx="219.94" cy="550.43" r="0.75" fill="#1d4a80" stroke="none" stroke-width="0.6"/>
<circle cx="221.35" cy="547.19" r="0.75" fill="#1d4a80" stroke="none" stroke-width="0.6"/>
<circle cx="222.77" cy="549.15" r="0.75" fill="#1d4a80" stroke="none" stroke-width="0.6"/>
<circle cx="224.65" cy="552.75" r="0.75" fill="#1d4a80" stroke="none" stroke-width="0.6"/>
<circle cx="226.54" cy="552.91" r="0.75" fill="#1d4a80" stroke="none" stroke-width="0.6"/>
<circle cx="227.96" cy="553.80" r="0.75" fill="#1d4a80" stroke="none" stroke-width="0.6"/>
<circle cx="229.37" cy="554.27" r="0.75" fill="#1d4a80" stroke="none" stroke-width="0.6"/>
<circle cx="231.26" cy="553.57" r="0.75" fill="#1d4a80" stroke="none" stroke-width="0.6"/>
<circle cx="233.14" cy="557.84" r="0.75" fill="#1d4a80" stroke="none" stroke-width="0.6"/>
<circle cx="234.56" cy="556.65" r="0.75" fill="#1d4a80" stroke="none" stroke-width="0.6"/>
<circle cx="235.97" cy="556.84" r="0.75" fill="#1d4a80" stroke="none" stroke-width="0.6"/>
<circle cx="239.75" cy="554.93" r="0.75" fill="#1d4a80" stroke="none" stroke-width="0.6"/>
<circle cx="242.58" cy="555.55" r="0.75" fill="#1d4a80" stroke="none" stroke-width="0.6"/>
<circle cx="246.35" cy="553.88" r="0.75" fill="#1d4a80" stroke="none" stroke-width="0.6"/>
<circle cx="249.18" cy="554.27" r="0.75" fill="#1d4a80" stroke="none" stroke-width="0.6"/>
<circle cx="252.95" cy="553.79" r="0.75" fill="#1d4a80" stroke="none" stroke-width="0.6"/>
<circle cx="255.78" cy="552.99" r="0.75" fill="#1d4a80" stroke="none" stroke-width="0.6"/>
<circle cx="259.56" cy="550.76" r="0.75" fill="#1d4a80" stroke="none" stroke-width="0.6"/>
<circle cx="262.39" cy="546.58" r="0.75" fill="#1d4a80" stroke="none" stroke-width="0.6"/>
<circle cx="266.16" cy="538.73" r="0.75" fill="#1d4a80" stroke="none" stroke-width="0.6"/>
<circle cx="268.99" cy="533.77" r="0.75" fill="#1d4a80" stroke="none" stroke-width="0.6"/>
<circle cx="272.76" cy="527.35" r="0.75" fill="#1d4a80" stroke="none" stroke-width="0.6"/>
<circle cx="275.59" cy="523.51" r="0.75" fill="#1d4a80" stroke="none" stroke-width="0.6"/>
<circle cx="279.37" cy="515.82" r="0.75" fill="#1d4a80" stroke="none" stroke-width="0.6"/>
<circle cx="282.20" cy="518.44" r="0.75" fill="#1d4a80" stroke="none" stroke-width="0.6"/>
<circle cx="285.69" cy="517.62" r="0.75" fill="#1d4a80" stroke="none" stroke-width="0.6"/>
<circle cx="285.97" cy="510.13" r="0.75" fill="#1d4a80" stroke="none" stroke-width="0.6"/>
<circle cx="288.14" cy="497.88" r="0.75" fill="#1d4a80" stroke="none" stroke-width="0.6"/>
<polyline points="213.33,552.99 214.75,551.30 216.16,549.12 218.05,550.32 219.94,549.15 221.35,547.40 222.77,547.87 224.65,546.57 226.54,552.40 227.96,550.62 229.37,552.99 231.26,553.15 233.14,554.25 234.56,554.70 235.97,555.55 239.75,556.37 242.58,556.84 246.35,557.32 249.18,555.55 252.95,555.99 255.78,554.27 259.56,553.41 262.39,549.15 266.16,542.35 268.99,538.89 272.76,536.05 275.59,526.08 279.37,518.39 282.20,524.48 282.76,531.20 284.08,550.43 285.97,552.18 286.44,554.91 287.86,552.74 288.80,552.82 291.63,551.97 292.57,551.34 294.74,546.71 295.40,546.06 298.23,551.71 299.18,552.01 302.01,554.20 302.48,556.07 305.78,555.74 307.67,556.07 308.61,557.17 312.38,557.86" fill="none" stroke="#1d4a80" stroke-width="0.75" stroke-linejoin="round"/>
<circle cx="213.33" cy="552.99" r="0.75" fill="#1d4a80" stroke="none" stroke-width="0.6"/>
<circle cx="214.75" cy="551.30" r="0.75" fill="#1d4a80" stroke="none" stroke-width="0.6"/>
<circle cx="216.16" cy="549.12" r="0.75" fill="#1d4a80" stroke="none" stroke-width="0.6"/>
<circle cx="218.05" cy="550.32" r="0.75" fill="#1d4a80" stroke="none" stroke-width="0.6"/>
<circle cx="219.94" cy="549.15" r="0.75" fill="#1d4a80" stroke="none" stroke-width="0.6"/>
<circle cx="221.35" cy="547.40" r="0.75" fill="#1d4a80" stroke="none" stroke-width="0.6"/>
<circle cx="222.77" cy="547.87" r="0.75" fill="#1d4a80" stroke="none" stroke-width="0.6"/>
<circle cx="224.65" cy="546.57" r="0.75" fill="#1d4a80" stroke="none" stroke-width="0.6"/>
<circle cx="226.54" cy="552.40" r="0.75" fill="#1d4a80" stroke="none" stroke-width="0.6"/>
<circle cx="227.96" cy="550.62" r="0.75" fill="#1d4a80" stroke="none" stroke-width="0.6"/>
<circle cx="229.37" cy="552.99" r="0.75" fill="#1d4a80" stroke="none" stroke-width="0.6"/>
<circle cx="231.26" cy="553.15" r="0.75" fill="#1d4a80" stroke="none" stroke-width="0.6"/>
<circle cx="233.14" cy="554.25" r="0.75" fill="#1d4a80" stroke="none" stroke-width="0.6"/>
<circle cx="234.56" cy="554.70" r="0.75" fill="#1d4a80" stroke="none" stroke-width="0.6"/>
<circle cx="235.97" cy="555.55" r="0.75" fill="#1d4a80" stroke="none" stroke-width="0.6"/>
<circle cx="239.75" cy="556.37" r="0.75" fill="#1d4a80" stroke="none" stroke-width="0.6"/>
<circle cx="242.58" cy="556.84" r="0.75" fill="#1d4a80" stroke="none" stroke-width="0.6"/>
<circle cx="246.35" cy="557.32" r="0.75" fill="#1d4a80" stroke="none" stroke-width="0.6"/>
<circle cx="249.18" cy="555.55" r="0.75" fill="#1d4a80" stroke="none" stroke-width="0.6"/>
<circle cx="252.95" cy="555.99" r="0.75" fill="#1d4a80" stroke="none" stroke-width="0.6"/>
<circle cx="255.78" cy="554.27" r="0.75" fill="#1d4a80" stroke="none" stroke-width="0.6"/>
<circle cx="259.56" cy="553.41" r="0.75" fill="#1d4a80" stroke="none" stroke-width="0.6"/>
<circle cx="262.39" cy="549.15" r="0.75" fill="#1d4a80" stroke="none" stroke-width="0.6"/>
<circle cx="266.16" cy="542.35" r="0.75" fill="#1d4a80" stroke="none" stroke-width="0.6"/>
<circle cx="268.99" cy="538.89" r="0.75" fill="#1d4a80" stroke="none" stroke-width="0.6"/>
<circle cx="272.76" cy="536.05" r="0.75" fill="#1d4a80" stroke="none" stroke-width="0.6"/>
<circle cx="275.59" cy="526.08" r="0.75" fill="#1d4a80" stroke="none" stroke-width="0.6"/>
<circle cx="279.37" cy="518.39" r="0.75" fill="#1d4a80" stroke="none" stroke-width="0.6"/>
<circle cx="282.20" cy="524.48" r="0.75" fill="#1d4a80" stroke="none" stroke-width="0.6"/>
<circle cx="282.76" cy="531.20" r="0.75" fill="#1d4a80" stroke="none" stroke-width="0.6"/>
<circle cx="284.08" cy="550.43" r="0.75" fill="#1d4a80" stroke="none" stroke-width="0.6"/>
<circle cx="285.97" cy="552.18" r="0.75" fill="#1d4a80" stroke="none" stroke-width="0.6"/>
<circle cx="286.44" cy="554.91" r="0.75" fill="#1d4a80" stroke="none" stroke-width="0.6"/>
<circle cx="287.86" cy="552.74" r="0.75" fill="#1d4a80" stroke="none" stroke-width="0.6"/>
<circle cx="288.80" cy="552.82" r="0.75" fill="#1d4a80" stroke="none" stroke-width="0.6"/>
<circle cx="291.63" cy="551.97" r="0.75" fill="#1d4a80" stroke="none" stroke-width="0.6"/>
<circle cx="292.57" cy="551.34" r="0.75" fill="#1d4a80" stroke="none" stroke-width="0.6"/>
<circle cx="294.74" cy="546.71" r="0.75" fill="#1d4a80" stroke="none" stroke-width="0.6"/>
<circle cx="295.40" cy="546.06" r="0.75" fill="#1d4a80" stroke="none" stroke-width="0.6"/>
<circle cx="298.23" cy="551.71" r="0.75" fill="#1d4a80" stroke="none" stroke-width="0.6"/>
<circle cx="299.18" cy="552.01" r="0.75" fill="#1d4a80" stroke="none" stroke-width="0.6"/>
<circle cx="302.01" cy="554.20" r="0.75" fill="#1d4a80" stroke="none" stroke-width="0.6"/>
<circle cx="302.48" cy="556.07" r="0.75" fill="#1d4a80" stroke="none" stroke-width="0.6"/>
<circle cx="305.78" cy="555.74" r="0.75" fill="#1d4a80" stroke="none" stroke-width="0.6"/>
<circle cx="307.67" cy="556.07" r="0.75" fill="#1d4a80" stroke="none" stroke-width="0.6"/>
<circle cx="308.61" cy="557.17" r="0.75" fill="#1d4a80" stroke="none" stroke-width="0.6"/>
<circle cx="312.38" cy="557.86" r="0.75" fill="#1d4a80" stroke="none" stroke-width="0.6"/>
<polyline points="213.33,555.55 214.75,553.77 216.16,550.49 218.05,549.52 219.94,550.43 221.35,552.57 222.77,549.15 224.65,551.46 226.54,552.24 227.96,552.81 229.37,554.27 231.26,552.84 233.14,555.32 234.56,555.78 235.97,556.84 239.75,557.35 242.58,556.89 246.35,557.35 249.18,556.92 252.95,556.15 255.78,556.84 259.56,555.61 262.39,554.27 266.16,547.62 268.99,544.02 272.76,537.40 275.59,528.64 279.37,520.95 282.20,529.56 285.97,538.12 287.86,524.28 288.80,529.00 291.16,528.26 292.57,528.26 294.74,507.11" fill="none" stroke="#1d4a80" stroke-width="0.75" stroke-linejoin="round"/>
<circle cx="213.33" cy="555.55" r="0.75" fill="#1d4a80" stroke="none" stroke-width="0.6"/>
<circle cx="214.75" cy="553.77" r="0.75" fill="#1d4a80" stroke="none" stroke-width="0.6"/>
<circle cx="216.16" cy="550.49" r="0.75" fill="#1d4a80" stroke="none" stroke-width="0.6"/>
<circle cx="218.05" cy="549.52" r="0.75" fill="#1d4a80" stroke="none" stroke-width="0.6"/>
<circle cx="219.94" cy="550.43" r="0.75" fill="#1d4a80" stroke="none" stroke-width="0.6"/>
<circle cx="221.35" cy="552.57" r="0.75" fill="#1d4a80" stroke="none" stroke-width="0.6"/>
<circle cx="222.77" cy="549.15" r="0.75" fill="#1d4a80" stroke="none" stroke-width="0.6"/>
<circle cx="224.65" cy="551.46" r="0.75" fill="#1d4a80" stroke="none" stroke-width="0.6"/>
<circle cx="226.54" cy="552.24" r="0.75" fill="#1d4a80" stroke="none" stroke-width="0.6"/>
<circle cx="227.96" cy="552.81" r="0.75" fill="#1d4a80" stroke="none" stroke-width="0.6"/>
<circle cx="229.37" cy="554.27" r="0.75" fill="#1d4a80" stroke="none" stroke-width="0.6"/>
<circle cx="231.26" cy="552.84" r="0.75" fill="#1d4a80" stroke="none" stroke-width="0.6"/>
<circle cx="233.14" cy="555.32" r="0.75" fill="#1d4a80" stroke="none" stroke-width="0.6"/>
<circle cx="234.56" cy="555.78" r="0.75" fill="#1d4a80" stroke="none" stroke-width="0.6"/>
<circle cx="235.97" cy="556.84" r="0.75" fill="#1d4a80" stroke="none" stroke-width="0.6"/>
<circle cx="239.75" cy="557.35" r="0.75" fill="#1d4a80" stroke="none" stroke-width="0.6"/>
<circle cx="242.58" cy="556.89" r="0.75" fill="#1d4a80" stroke="none" stroke-width="0.6"/>
<circle cx="246.35" cy="557.35" r="0.75" fill="#1d4a80" stroke="none" stroke-width="0.6"/>
<circle cx="249.18" cy="556.92" r="0.75" fill="#1d4a80" stroke="none" stroke-width="0.6"/>
<circle cx="252.95" cy="556.15" r="0.75" fill="#1d4a80" stroke="none" stroke-width="0.6"/>
<circle cx="255.78" cy="556.84" r="0.75" fill="#1d4a80" stroke="none" stroke-width="0.6"/>
<circle cx="259.56" cy="555.61" r="0.75" fill="#1d4a80" stroke="none" stroke-width="0.6"/>
<circle cx="262.39" cy="554.27" r="0.75" fill="#1d4a80" stroke="none" stroke-width="0.6"/>
<circle cx="266.16" cy="547.62" r="0.75" fill="#1d4a80" stroke="none" stroke-width="0.6"/>
<circle cx="268.99" cy="544.02" r="0.75" fill="#1d4a80" stroke="none" stroke-width="0.6"/>
<circle cx="272.76" cy="537.40" r="0.75" fill="#1d4a80" stroke="none" stroke-width="0.6"/>
<circle cx="275.59" cy="528.64" r="0.75" fill="#1d4a80" stroke="none" stroke-width="0.6"/>
<circle cx="279.37" cy="520.95" r="0.75" fill="#1d4a80" stroke="none" stroke-width="0.6"/>
<circle cx="282.20" cy="529.56" r="0.75" fill="#1d4a80" stroke="none" stroke-width="0.6"/>
<circle cx="285.97" cy="538.12" r="0.75" fill="#1d4a80" stroke="none" stroke-width="0.6"/>
<circle cx="287.86" cy="524.28" r="0.75" fill="#1d4a80" stroke="none" stroke-width="0.6"/>
<circle cx="288.80" cy="529.00" r="0.75" fill="#1d4a80" stroke="none" stroke-width="0.6"/>
<circle cx="291.16" cy="528.26" r="0.75" fill="#1d4a80" stroke="none" stroke-width="0.6"/>
<circle cx="292.57" cy="528.26" r="0.75" fill="#1d4a80" stroke="none" stroke-width="0.6"/>
<circle cx="294.74" cy="507.11" r="0.75" fill="#1d4a80" stroke="none" stroke-width="0.6"/>
<polyline points="213.33,554.27 214.75,553.79 216.16,551.23 218.05,549.78 219.94,550.43 221.35,549.31 222.77,549.15 224.65,551.08 226.54,550.13 227.96,553.50 229.37,552.99 231.26,553.59 233.14,553.11 234.56,556.81 235.97,557.35 239.75,558.44 242.58,557.39 246.35,558.12 249.18,558.03 252.95,558.25 255.78,558.60 259.56,558.74 260.50,558.63 262.39,558.65 266.16,558.85 268.99,558.98 272.76,558.93 275.59,558.36 279.37,558.63 282.20,558.74 285.97,558.42 288.80,558.31 292.57,558.76 295.40,558.59 298.23,558.63 299.18,558.64 302.01,558.85 305.78,559.14 308.61,559.10 312.38,558.89" fill="none" stroke="#1d4a80" stroke-width="0.75" stroke-linejoin="round"/>
<circle cx="213.33" cy="554.27" r="0.75" fill="#1d4a80" stroke="none" stroke-width="0.6"/>
<circle cx="214.75" cy="553.79" r="0.75" fill="#1d4a80" stroke="none" stroke-width="0.6"/>
<circle cx="216.16" cy="551.23" r="0.75" fill="#1d4a80" stroke="none" stroke-width="0.6"/>
<circle cx="218.05" cy="549.78" r="0.75" fill="#1d4a80" stroke="none" stroke-width="0.6"/>
<circle cx="219.94" cy="550.43" r="0.75" fill="#1d4a80" stroke="none" stroke-width="0.6"/>
<circle cx="221.35" cy="549.31" r="0.75" fill="#1d4a80" stroke="none" stroke-width="0.6"/>
<circle cx="222.77" cy="549.15" r="0.75" fill="#1d4a80" stroke="none" stroke-width="0.6"/>
<circle cx="224.65" cy="551.08" r="0.75" fill="#1d4a80" stroke="none" stroke-width="0.6"/>
<circle cx="226.54" cy="550.13" r="0.75" fill="#1d4a80" stroke="none" stroke-width="0.6"/>
<circle cx="227.96" cy="553.50" r="0.75" fill="#1d4a80" stroke="none" stroke-width="0.6"/>
<circle cx="229.37" cy="552.99" r="0.75" fill="#1d4a80" stroke="none" stroke-width="0.6"/>
<circle cx="231.26" cy="553.59" r="0.75" fill="#1d4a80" stroke="none" stroke-width="0.6"/>
<circle cx="233.14" cy="553.11" r="0.75" fill="#1d4a80" stroke="none" stroke-width="0.6"/>
<circle cx="234.56" cy="556.81" r="0.75" fill="#1d4a80" stroke="none" stroke-width="0.6"/>
<circle cx="235.97" cy="557.35" r="0.75" fill="#1d4a80" stroke="none" stroke-width="0.6"/>
<circle cx="239.75" cy="558.44" r="0.75" fill="#1d4a80" stroke="none" stroke-width="0.6"/>
<circle cx="242.58" cy="557.39" r="0.75" fill="#1d4a80" stroke="none" stroke-width="0.6"/>
<circle cx="246.35" cy="558.12" r="0.75" fill="#1d4a80" stroke="none" stroke-width="0.6"/>
<circle cx="249.18" cy="558.03" r="0.75" fill="#1d4a80" stroke="none" stroke-width="0.6"/>
<circle cx="252.95" cy="558.25" r="0.75" fill="#1d4a80" stroke="none" stroke-width="0.6"/>
<circle cx="255.78" cy="558.60" r="0.75" fill="#1d4a80" stroke="none" stroke-width="0.6"/>
<circle cx="259.56" cy="558.74" r="0.75" fill="#1d4a80" stroke="none" stroke-width="0.6"/>
<circle cx="260.50" cy="558.63" r="0.75" fill="#1d4a80" stroke="none" stroke-width="0.6"/>
<circle cx="262.39" cy="558.65" r="0.75" fill="#1d4a80" stroke="none" stroke-width="0.6"/>
<circle cx="266.16" cy="558.85" r="0.75" fill="#1d4a80" stroke="none" stroke-width="0.6"/>
<circle cx="268.99" cy="558.98" r="0.75" fill="#1d4a80" stroke="none" stroke-width="0.6"/>
<circle cx="272.76" cy="558.93" r="0.75" fill="#1d4a80" stroke="none" stroke-width="0.6"/>
<circle cx="275.59" cy="558.36" r="0.75" fill="#1d4a80" stroke="none" stroke-width="0.6"/>
<circle cx="279.37" cy="558.63" r="0.75" fill="#1d4a80" stroke="none" stroke-width="0.6"/>
<circle cx="282.20" cy="558.74" r="0.75" fill="#1d4a80" stroke="none" stroke-width="0.6"/>
<circle cx="285.97" cy="558.42" r="0.75" fill="#1d4a80" stroke="none" stroke-width="0.6"/>
<circle cx="288.80" cy="558.31" r="0.75" fill="#1d4a80" stroke="none" stroke-width="0.6"/>
<circle cx="292.57" cy="558.76" r="0.75" fill="#1d4a80" stroke="none" stroke-width="0.6"/>
<circle cx="295.40" cy="558.59" r="0.75" fill="#1d4a80" stroke="none" stroke-width="0.6"/>
<circle cx="298.23" cy="558.63" r="0.75" fill="#1d4a80" stroke="none" stroke-width="0.6"/>
<circle cx="299.18" cy="558.64" r="0.75" fill="#1d4a80" stroke="none" stroke-width="0.6"/>
<circle cx="302.01" cy="558.85" r="0.75" fill="#1d4a80" stroke="none" stroke-width="0.6"/>
<circle cx="305.78" cy="559.14" r="0.75" fill="#1d4a80" stroke="none" stroke-width="0.6"/>
<circle cx="308.61" cy="559.10" r="0.75" fill="#1d4a80" stroke="none" stroke-width="0.6"/>
<circle cx="312.38" cy="558.89" r="0.75" fill="#1d4a80" stroke="none" stroke-width="0.6"/>
<polyline points="213.33,555.55 214.75,553.89 216.16,552.96 218.05,550.22 219.94,549.15 221.35,548.59 222.77,547.87 224.65,551.27 226.54,551.82 227.96,551.83 229.37,554.27 231.26,555.48 233.14,555.40 234.56,556.94 235.97,556.84 239.75,558.09 242.58,557.86 246.35,557.13 249.18,556.85 251.07,557.35 252.95,557.89 255.78,557.25 259.56,558.17 260.50,558.12 262.39,558.21 266.16,558.44 268.99,558.54 269.93,558.37 272.76,558.09 275.59,558.18 279.37,556.84 282.20,557.92 285.97,558.05 288.80,557.86 292.57,558.20 295.40,557.92 299.18,557.72 302.01,558.44 305.78,558.21 307.67,558.37 308.61,558.25 312.38,558.42 315.21,558.89" fill="none" stroke="#1d4a80" stroke-width="0.75" stroke-linejoin="round"/>
<circle cx="213.33" cy="555.55" r="0.75" fill="#1d4a80" stroke="none" stroke-width="0.6"/>
<circle cx="214.75" cy="553.89" r="0.75" fill="#1d4a80" stroke="none" stroke-width="0.6"/>
<circle cx="216.16" cy="552.96" r="0.75" fill="#1d4a80" stroke="none" stroke-width="0.6"/>
<circle cx="218.05" cy="550.22" r="0.75" fill="#1d4a80" stroke="none" stroke-width="0.6"/>
<circle cx="219.94" cy="549.15" r="0.75" fill="#1d4a80" stroke="none" stroke-width="0.6"/>
<circle cx="221.35" cy="548.59" r="0.75" fill="#1d4a80" stroke="none" stroke-width="0.6"/>
<circle cx="222.77" cy="547.87" r="0.75" fill="#1d4a80" stroke="none" stroke-width="0.6"/>
<circle cx="224.65" cy="551.27" r="0.75" fill="#1d4a80" stroke="none" stroke-width="0.6"/>
<circle cx="226.54" cy="551.82" r="0.75" fill="#1d4a80" stroke="none" stroke-width="0.6"/>
<circle cx="227.96" cy="551.83" r="0.75" fill="#1d4a80" stroke="none" stroke-width="0.6"/>
<circle cx="229.37" cy="554.27" r="0.75" fill="#1d4a80" stroke="none" stroke-width="0.6"/>
<circle cx="231.26" cy="555.48" r="0.75" fill="#1d4a80" stroke="none" stroke-width="0.6"/>
<circle cx="233.14" cy="555.40" r="0.75" fill="#1d4a80" stroke="none" stroke-width="0.6"/>
<circle cx="234.56" cy="556.94" r="0.75" fill="#1d4a80" stroke="none" stroke-width="0.6"/>
<circle cx="235.97" cy="556.84" r="0.75" fill="#1d4a80" stroke="none" stroke-width="0.6"/>
<circle cx="239.75" cy="558.09" r="0.75" fill="#1d4a80" stroke="none" stroke-width="0.6"/>
<circle cx="242.58" cy="557.86" r="0.75" fill="#1d4a80" stroke="none" stroke-width="0.6"/>
<circle cx="246.35" cy="557.13" r="0.75" fill="#1d4a80" stroke="none" stroke-width="0.6"/>
<circle cx="249.18" cy="556.85" r="0.75" fill="#1d4a80" stroke="none" stroke-width="0.6"/>
<circle cx="251.07" cy="557.35" r="0.75" fill="#1d4a80" stroke="none" stroke-width="0.6"/>
<circle cx="252.95" cy="557.89" r="0.75" fill="#1d4a80" stroke="none" stroke-width="0.6"/>
<circle cx="255.78" cy="557.25" r="0.75" fill="#1d4a80" stroke="none" stroke-width="0.6"/>
<circle cx="259.56" cy="558.17" r="0.75" fill="#1d4a80" stroke="none" stroke-width="0.6"/>
<circle cx="260.50" cy="558.12" r="0.75" fill="#1d4a80" stroke="none" stroke-width="0.6"/>
<circle cx="262.39" cy="558.21" r="0.75" fill="#1d4a80" stroke="none" stroke-width="0.6"/>
<circle cx="266.16" cy="558.44" r="0.75" fill="#1d4a80" stroke="none" stroke-width="0.6"/>
<circle cx="268.99" cy="558.54" r="0.75" fill="#1d4a80" stroke="none" stroke-width="0.6"/>
<circle cx="269.93" cy="558.37" r="0.75" fill="#1d4a80" stroke="none" stroke-width="0.6"/>
<circle cx="272.76" cy="558.09" r="0.75" fill="#1d4a80" stroke="none" stroke-width="0.6"/>
<circle cx="275.59" cy="558.18" r="0.75" fill="#1d4a80" stroke="none" stroke-width="0.6"/>
<circle cx="279.37" cy="556.84" r="0.75" fill="#1d4a80" stroke="none" stroke-width="0.6"/>
<circle cx="282.20" cy="557.92" r="0.75" fill="#1d4a80" stroke="none" stroke-width="0.6"/>
<circle cx="285.97" cy="558.05" r="0.75" fill="#1d4a80" stroke="none" stroke-width="0.6"/>
<circle cx="288.80" cy="557.86" r="0.75" fill="#1d4a80" stroke="none" stroke-width="0.6"/>
<circle cx="292.57" cy="558.20" r="0.75" fill="#1d4a80" stroke="none" stroke-width="0.6"/>
<circle cx="295.40" cy="557.92" r="0.75" fill="#1d4a80" stroke="none" stroke-width="0.6"/>
<circle cx="299.18" cy="557.72" r="0.75" fill="#1d4a80" stroke="none" stroke-width="0.6"/>
<circle cx="302.01" cy="558.44" r="0.75" fill="#1d4a80" stroke="none" stroke-width="0.6"/>
<circle cx="305.78" cy="558.21" r="0.75" fill="#1d4a80" stroke="none" stroke-width="0.6"/>
<circle cx="307.67" cy="558.37" r="0.75" fill="#1d4a80" stroke="none" stroke-width="0.6"/>
<circle cx="308.61" cy="558.25" r="0.75" fill="#1d4a80" stroke="none" stroke-width="0.6"/>
<circle cx="312.38" cy="558.42" r="0.75" fill="#1d4a80" stroke="none" stroke-width="0.6"/>
<circle cx="315.21" cy="558.89" r="0.75" fill="#1d4a80" stroke="none" stroke-width="0.6"/>
<polyline points="213.33,554.27 214.75,554.64 216.16,553.79 218.05,549.88 219.94,549.15 221.35,550.61 222.77,547.87 224.65,550.98 226.54,551.71 227.96,552.47 229.37,556.29 231.26,554.90 233.14,555.55 234.56,554.23 235.97,556.48 239.75,556.43 241.63,556.84 242.58,557.37 246.35,556.11 249.18,555.55 252.95,555.76 255.78,552.99 259.56,549.35 262.39,547.87 266.16,541.68 268.99,538.89 272.76,529.85 274.65,531.20 275.59,524.35 279.37,520.95 282.20,531.20" fill="none" stroke="#1d4a80" stroke-width="0.75" stroke-linejoin="round"/>
<circle cx="213.33" cy="554.27" r="0.75" fill="#1d4a80" stroke="none" stroke-width="0.6"/>
<circle cx="214.75" cy="554.64" r="0.75" fill="#1d4a80" stroke="none" stroke-width="0.6"/>
<circle cx="216.16" cy="553.79" r="0.75" fill="#1d4a80" stroke="none" stroke-width="0.6"/>
<circle cx="218.05" cy="549.88" r="0.75" fill="#1d4a80" stroke="none" stroke-width="0.6"/>
<circle cx="219.94" cy="549.15" r="0.75" fill="#1d4a80" stroke="none" stroke-width="0.6"/>
<circle cx="221.35" cy="550.61" r="0.75" fill="#1d4a80" stroke="none" stroke-width="0.6"/>
<circle cx="222.77" cy="547.87" r="0.75" fill="#1d4a80" stroke="none" stroke-width="0.6"/>
<circle cx="224.65" cy="550.98" r="0.75" fill="#1d4a80" stroke="none" stroke-width="0.6"/>
<circle cx="226.54" cy="551.71" r="0.75" fill="#1d4a80" stroke="none" stroke-width="0.6"/>
<circle cx="227.96" cy="552.47" r="0.75" fill="#1d4a80" stroke="none" stroke-width="0.6"/>
<circle cx="229.37" cy="556.29" r="0.75" fill="#1d4a80" stroke="none" stroke-width="0.6"/>
<circle cx="231.26" cy="554.90" r="0.75" fill="#1d4a80" stroke="none" stroke-width="0.6"/>
<circle cx="233.14" cy="555.55" r="0.75" fill="#1d4a80" stroke="none" stroke-width="0.6"/>
<circle cx="234.56" cy="554.23" r="0.75" fill="#1d4a80" stroke="none" stroke-width="0.6"/>
<circle cx="235.97" cy="556.48" r="0.75" fill="#1d4a80" stroke="none" stroke-width="0.6"/>
<circle cx="239.75" cy="556.43" r="0.75" fill="#1d4a80" stroke="none" stroke-width="0.6"/>
<circle cx="241.63" cy="556.84" r="0.75" fill="#1d4a80" stroke="none" stroke-width="0.6"/>
<circle cx="242.58" cy="557.37" r="0.75" fill="#1d4a80" stroke="none" stroke-width="0.6"/>
<circle cx="246.35" cy="556.11" r="0.75" fill="#1d4a80" stroke="none" stroke-width="0.6"/>
<circle cx="249.18" cy="555.55" r="0.75" fill="#1d4a80" stroke="none" stroke-width="0.6"/>
<circle cx="252.95" cy="555.76" r="0.75" fill="#1d4a80" stroke="none" stroke-width="0.6"/>
<circle cx="255.78" cy="552.99" r="0.75" fill="#1d4a80" stroke="none" stroke-width="0.6"/>
<circle cx="259.56" cy="549.35" r="0.75" fill="#1d4a80" stroke="none" stroke-width="0.6"/>
<circle cx="262.39" cy="547.87" r="0.75" fill="#1d4a80" stroke="none" stroke-width="0.6"/>
<circle cx="266.16" cy="541.68" r="0.75" fill="#1d4a80" stroke="none" stroke-width="0.6"/>
<circle cx="268.99" cy="538.89" r="0.75" fill="#1d4a80" stroke="none" stroke-width="0.6"/>
<circle cx="272.76" cy="529.85" r="0.75" fill="#1d4a80" stroke="none" stroke-width="0.6"/>
<circle cx="274.65" cy="531.20" r="0.75" fill="#1d4a80" stroke="none" stroke-width="0.6"/>
<circle cx="275.59" cy="524.35" r="0.75" fill="#1d4a80" stroke="none" stroke-width="0.6"/>
<circle cx="279.37" cy="520.95" r="0.75" fill="#1d4a80" stroke="none" stroke-width="0.6"/>
<circle cx="282.20" cy="531.20" r="0.75" fill="#1d4a80" stroke="none" stroke-width="0.6"/>
<polyline points="213.33,554.79 214.75,553.30 216.16,555.83 218.05,550.13 219.94,551.71 221.35,553.17 222.77,549.66 224.65,548.60 226.54,552.94 227.96,553.62 229.37,552.99 231.26,552.99 233.14,552.85 234.56,554.62 235.97,554.27 239.75,552.61 242.58,551.71 246.35,549.15 249.18,548.80 252.95,550.43 255.78,550.95 258.61,551.71 259.56,550.27 262.39,553.16 264.27,554.27 266.16,556.05 268.99,556.32 269.93,555.55 272.76,555.92 275.59,556.84" fill="none" stroke="#1d4a80" stroke-width="0.75" stroke-linejoin="round"/>
<circle cx="213.33" cy="554.79" r="0.75" fill="#1d4a80" stroke="none" stroke-width="0.6"/>
<circle cx="214.75" cy="553.30" r="0.75" fill="#1d4a80" stroke="none" stroke-width="0.6"/>
<circle cx="216.16" cy="555.83" r="0.75" fill="#1d4a80" stroke="none" stroke-width="0.6"/>
<circle cx="218.05" cy="550.13" r="0.75" fill="#1d4a80" stroke="none" stroke-width="0.6"/>
<circle cx="219.94" cy="551.71" r="0.75" fill="#1d4a80" stroke="none" stroke-width="0.6"/>
<circle cx="221.35" cy="553.17" r="0.75" fill="#1d4a80" stroke="none" stroke-width="0.6"/>
<circle cx="222.77" cy="549.66" r="0.75" fill="#1d4a80" stroke="none" stroke-width="0.6"/>
<circle cx="224.65" cy="548.60" r="0.75" fill="#1d4a80" stroke="none" stroke-width="0.6"/>
<circle cx="226.54" cy="552.94" r="0.75" fill="#1d4a80" stroke="none" stroke-width="0.6"/>
<circle cx="227.96" cy="553.62" r="0.75" fill="#1d4a80" stroke="none" stroke-width="0.6"/>
<circle cx="229.37" cy="552.99" r="0.75" fill="#1d4a80" stroke="none" stroke-width="0.6"/>
<circle cx="231.26" cy="552.99" r="0.75" fill="#1d4a80" stroke="none" stroke-width="0.6"/>
<circle cx="233.14" cy="552.85" r="0.75" fill="#1d4a80" stroke="none" stroke-width="0.6"/>
<circle cx="234.56" cy="554.62" r="0.75" fill="#1d4a80" stroke="none" stroke-width="0.6"/>
<circle cx="235.97" cy="554.27" r="0.75" fill="#1d4a80" stroke="none" stroke-width="0.6"/>
<circle cx="239.75" cy="552.61" r="0.75" fill="#1d4a80" stroke="none" stroke-width="0.6"/>
<circle cx="242.58" cy="551.71" r="0.75" fill="#1d4a80" stroke="none" stroke-width="0.6"/>
<circle cx="246.35" cy="549.15" r="0.75" fill="#1d4a80" stroke="none" stroke-width="0.6"/>
<circle cx="249.18" cy="548.80" r="0.75" fill="#1d4a80" stroke="none" stroke-width="0.6"/>
<circle cx="252.95" cy="550.43" r="0.75" fill="#1d4a80" stroke="none" stroke-width="0.6"/>
<circle cx="255.78" cy="550.95" r="0.75" fill="#1d4a80" stroke="none" stroke-width="0.6"/>
<circle cx="258.61" cy="551.71" r="0.75" fill="#1d4a80" stroke="none" stroke-width="0.6"/>
<circle cx="259.56" cy="550.27" r="0.75" fill="#1d4a80" stroke="none" stroke-width="0.6"/>
<circle cx="262.39" cy="553.16" r="0.75" fill="#1d4a80" stroke="none" stroke-width="0.6"/>
<circle cx="264.27" cy="554.27" r="0.75" fill="#1d4a80" stroke="none" stroke-width="0.6"/>
<circle cx="266.16" cy="556.05" r="0.75" fill="#1d4a80" stroke="none" stroke-width="0.6"/>
<circle cx="268.99" cy="556.32" r="0.75" fill="#1d4a80" stroke="none" stroke-width="0.6"/>
<circle cx="269.93" cy="555.55" r="0.75" fill="#1d4a80" stroke="none" stroke-width="0.6"/>
<circle cx="272.76" cy="555.92" r="0.75" fill="#1d4a80" stroke="none" stroke-width="0.6"/>
<circle cx="275.59" cy="556.84" r="0.75" fill="#1d4a80" stroke="none" stroke-width="0.6"/>
<line x1="344.70" y1="480.20" x2="344.70" y2="560.00" stroke="#222222" stroke-width="1.4"/>
<line x1="341.70" y1="559.40" x2="344.70" y2="559.40" stroke="#222222" stroke-width="1.0"/>
<line x1="341.70" y1="533.77" x2="344.70" y2="533.77" stroke="#222222" stroke-width="1.0"/>
<line x1="341.70" y1="508.13" x2="344.70" y2="508.13" stroke="#222222" stroke-width="1.0"/>
<line x1="341.70" y1="482.50" x2="344.70" y2="482.50" stroke="#222222" stroke-width="1.0"/>
<line x1="344.70" y1="559.40" x2="461.20" y2="559.40" stroke="#222222" stroke-width="1.4"/>
<line x1="344.70" y1="559.40" x2="344.70" y2="562.40" stroke="#222222" stroke-width="1.0"/>
<text x="344.70" y="572.60" font-size="9.2" text-anchor="middle" fill="#262626" font-weight="normal" stroke="#262626" stroke-width="0.18" textLength="5.0" lengthAdjust="spacingAndGlyphs">0</text>
<line x1="363.57" y1="559.40" x2="363.57" y2="562.40" stroke="#222222" stroke-width="1.0"/>
<text x="363.57" y="572.60" font-size="9.2" text-anchor="middle" fill="#262626" font-weight="normal" stroke="#262626" stroke-width="0.18" textLength="10.0" lengthAdjust="spacingAndGlyphs">20</text>
<line x1="382.43" y1="559.40" x2="382.43" y2="562.40" stroke="#222222" stroke-width="1.0"/>
<text x="382.43" y="572.60" font-size="9.2" text-anchor="middle" fill="#262626" font-weight="normal" stroke="#262626" stroke-width="0.18" textLength="10.0" lengthAdjust="spacingAndGlyphs">40</text>
<line x1="401.30" y1="559.40" x2="401.30" y2="562.40" stroke="#222222" stroke-width="1.0"/>
<text x="401.30" y="572.60" font-size="9.2" text-anchor="middle" fill="#262626" font-weight="normal" stroke="#262626" stroke-width="0.18" textLength="10.0" lengthAdjust="spacingAndGlyphs">60</text>
<line x1="420.17" y1="559.40" x2="420.17" y2="562.40" stroke="#222222" stroke-width="1.0"/>
<text x="420.17" y="572.60" font-size="9.2" text-anchor="middle" fill="#262626" font-weight="normal" stroke="#262626" stroke-width="0.18" textLength="10.0" lengthAdjust="spacingAndGlyphs">80</text>
<line x1="439.03" y1="559.40" x2="439.03" y2="562.40" stroke="#222222" stroke-width="1.0"/>
<text x="439.03" y="572.60" font-size="9.2" text-anchor="middle" fill="#262626" font-weight="normal" stroke="#262626" stroke-width="0.18" textLength="15.6" lengthAdjust="spacingAndGlyphs">100</text>
<line x1="457.90" y1="559.40" x2="457.90" y2="562.40" stroke="#222222" stroke-width="1.0"/>
<text x="457.90" y="572.60" font-size="9.2" text-anchor="middle" fill="#262626" font-weight="normal" stroke="#262626" stroke-width="0.18" textLength="15.6" lengthAdjust="spacingAndGlyphs">120</text>
<polyline points="354.13,554.27 355.55,548.06 356.96,541.87 358.85,539.01 360.55,534.28 360.74,537.16 362.15,542.65 363.57,544.02 365.45,541.95 367.34,550.06 368.75,547.20 370.17,549.15 372.06,551.11 373.94,551.71 375.36,549.05 376.77,541.68 378.00,533.00 380.55,523.11 381.49,520.95 383.38,503.94 384.41,505.57" fill="none" stroke="#1d4a80" stroke-width="0.75" stroke-linejoin="round"/>
<circle cx="354.13" cy="554.27" r="0.75" fill="#1d4a80" stroke="none" stroke-width="0.6"/>
<circle cx="355.55" cy="548.06" r="0.75" fill="#1d4a80" stroke="none" stroke-width="0.6"/>
<circle cx="356.96" cy="541.87" r="0.75" fill="#1d4a80" stroke="none" stroke-width="0.6"/>
<circle cx="358.85" cy="539.01" r="0.75" fill="#1d4a80" stroke="none" stroke-width="0.6"/>
<circle cx="360.55" cy="534.28" r="0.75" fill="#1d4a80" stroke="none" stroke-width="0.6"/>
<circle cx="360.74" cy="537.16" r="0.75" fill="#1d4a80" stroke="none" stroke-width="0.6"/>
<circle cx="362.15" cy="542.65" r="0.75" fill="#1d4a80" stroke="none" stroke-width="0.6"/>
<circle cx="363.57" cy="544.02" r="0.75" fill="#1d4a80" stroke="none" stroke-width="0.6"/>
<circle cx="365.45" cy="541.95" r="0.75" fill="#1d4a80" stroke="none" stroke-width="0.6"/>
<circle cx="367.34" cy="550.06" r="0.75" fill="#1d4a80" stroke="none" stroke-width="0.6"/>
<circle cx="368.75" cy="547.20" r="0.75" fill="#1d4a80" stroke="none" stroke-width="0.6"/>
<circle cx="370.17" cy="549.15" r="0.75" fill="#1d4a80" stroke="none" stroke-width="0.6"/>
<circle cx="372.06" cy="551.11" r="0.75" fill="#1d4a80" stroke="none" stroke-width="0.6"/>
<circle cx="373.94" cy="551.71" r="0.75" fill="#1d4a80" stroke="none" stroke-width="0.6"/>
<circle cx="375.36" cy="549.05" r="0.75" fill="#1d4a80" stroke="none" stroke-width="0.6"/>
<circle cx="376.77" cy="541.68" r="0.75" fill="#1d4a80" stroke="none" stroke-width="0.6"/>
<circle cx="378.00" cy="533.00" r="0.75" fill="#1d4a80" stroke="none" stroke-width="0.6"/>
<circle cx="380.55" cy="523.11" r="0.75" fill="#1d4a80" stroke="none" stroke-width="0.6"/>
<circle cx="381.49" cy="520.95" r="0.75" fill="#1d4a80" stroke="none" stroke-width="0.6"/>
<circle cx="383.38" cy="503.94" r="0.75" fill="#1d4a80" stroke="none" stroke-width="0.6"/>
<circle cx="384.41" cy="505.57" r="0.75" fill="#1d4a80" stroke="none" stroke-width="0.6"/>
<polyline points="354.13,551.71 355.55,550.39 356.96,544.15 358.85,547.76 360.74,541.46 362.15,544.83 363.57,535.05 365.45,544.69 367.34,544.02 368.75,542.67 370.17,549.06 372.06,548.71 373.94,552.99 375.36,552.94 376.77,551.71 380.55,546.58 383.38,525.80 384.32,526.59 386.96,503.26" fill="none" stroke="#1d4a80" stroke-width="0.75" stroke-linejoin="round"/>
<circle cx="354.13" cy="551.71" r="0.75" fill="#1d4a80" stroke="none" stroke-width="0.6"/>
<circle cx="355.55" cy="550.39" r="0.75" fill="#1d4a80" stroke="none" stroke-width="0.6"/>
<circle cx="356.96" cy="544.15" r="0.75" fill="#1d4a80" stroke="none" stroke-width="0.6"/>
<circle cx="358.85" cy="547.76" r="0.75" fill="#1d4a80" stroke="none" stroke-width="0.6"/>
<circle cx="360.74" cy="541.46" r="0.75" fill="#1d4a80" stroke="none" stroke-width="0.6"/>
<circle cx="362.15" cy="544.83" r="0.75" fill="#1d4a80" stroke="none" stroke-width="0.6"/>
<circle cx="363.57" cy="535.05" r="0.75" fill="#1d4a80" stroke="none" stroke-width="0.6"/>
<circle cx="365.45" cy="544.69" r="0.75" fill="#1d4a80" stroke="none" stroke-width="0.6"/>
<circle cx="367.34" cy="544.02" r="0.75" fill="#1d4a80" stroke="none" stroke-width="0.6"/>
<circle cx="368.75" cy="542.67" r="0.75" fill="#1d4a80" stroke="none" stroke-width="0.6"/>
<circle cx="370.17" cy="549.06" r="0.75" fill="#1d4a80" stroke="none" stroke-width="0.6"/>
<circle cx="372.06" cy="548.71" r="0.75" fill="#1d4a80" stroke="none" stroke-width="0.6"/>
<circle cx="373.94" cy="552.99" r="0.75" fill="#1d4a80" stroke="none" stroke-width="0.6"/>
<circle cx="375.36" cy="552.94" r="0.75" fill="#1d4a80" stroke="none" stroke-width="0.6"/>
<circle cx="376.77" cy="551.71" r="0.75" fill="#1d4a80" stroke="none" stroke-width="0.6"/>
<circle cx="380.55" cy="546.58" r="0.75" fill="#1d4a80" stroke="none" stroke-width="0.6"/>
<circle cx="383.38" cy="525.80" r="0.75" fill="#1d4a80" stroke="none" stroke-width="0.6"/>
<circle cx="384.32" cy="526.59" r="0.75" fill="#1d4a80" stroke="none" stroke-width="0.6"/>
<circle cx="386.96" cy="503.26" r="0.75" fill="#1d4a80" stroke="none" stroke-width="0.6"/>
<polyline points="354.13,552.99 355.55,550.86 356.96,548.71 358.85,549.35 360.74,544.02 362.15,539.76 363.57,541.46 365.45,542.20 367.34,544.42 368.75,550.85 370.17,551.71 372.06,552.15 373.94,554.39 375.36,556.66 376.77,554.27 380.55,554.28 383.38,550.43 387.15,544.02 389.98,527.61 392.53,527.61 393.75,516.14 394.79,507.62" fill="none" stroke="#1d4a80" stroke-width="0.75" stroke-linejoin="round"/>
<circle cx="354.13" cy="552.99" r="0.75" fill="#1d4a80" stroke="none" stroke-width="0.6"/>
<circle cx="355.55" cy="550.86" r="0.75" fill="#1d4a80" stroke="none" stroke-width="0.6"/>
<circle cx="356.96" cy="548.71" r="0.75" fill="#1d4a80" stroke="none" stroke-width="0.6"/>
<circle cx="358.85" cy="549.35" r="0.75" fill="#1d4a80" stroke="none" stroke-width="0.6"/>
<circle cx="360.74" cy="544.02" r="0.75" fill="#1d4a80" stroke="none" stroke-width="0.6"/>
<circle cx="362.15" cy="539.76" r="0.75" fill="#1d4a80" stroke="none" stroke-width="0.6"/>
<circle cx="363.57" cy="541.46" r="0.75" fill="#1d4a80" stroke="none" stroke-width="0.6"/>
<circle cx="365.45" cy="542.20" r="0.75" fill="#1d4a80" stroke="none" stroke-width="0.6"/>
<circle cx="367.34" cy="544.42" r="0.75" fill="#1d4a80" stroke="none" stroke-width="0.6"/>
<circle cx="368.75" cy="550.85" r="0.75" fill="#1d4a80" stroke="none" stroke-width="0.6"/>
<circle cx="370.17" cy="551.71" r="0.75" fill="#1d4a80" stroke="none" stroke-width="0.6"/>
<circle cx="372.06" cy="552.15" r="0.75" fill="#1d4a80" stroke="none" stroke-width="0.6"/>
<circle cx="373.94" cy="554.39" r="0.75" fill="#1d4a80" stroke="none" stroke-width="0.6"/>
<circle cx="375.36" cy="556.66" r="0.75" fill="#1d4a80" stroke="none" stroke-width="0.6"/>
<circle cx="376.77" cy="554.27" r="0.75" fill="#1d4a80" stroke="none" stroke-width="0.6"/>
<circle cx="380.55" cy="554.28" r="0.75" fill="#1d4a80" stroke="none" stroke-width="0.6"/>
<circle cx="383.38" cy="550.43" r="0.75" fill="#1d4a80" stroke="none" stroke-width="0.6"/>
<circle cx="387.15" cy="544.02" r="0.75" fill="#1d4a80" stroke="none" stroke-width="0.6"/>
<circle cx="389.98" cy="527.61" r="0.75" fill="#1d4a80" stroke="none" stroke-width="0.6"/>
<circle cx="392.53" cy="527.61" r="0.75" fill="#1d4a80" stroke="none" stroke-width="0.6"/>
<circle cx="393.75" cy="516.14" r="0.75" fill="#1d4a80" stroke="none" stroke-width="0.6"/>
<circle cx="394.79" cy="507.62" r="0.75" fill="#1d4a80" stroke="none" stroke-width="0.6"/>
<polyline points="354.13,555.55 355.55,554.50 356.96,550.14 358.85,548.82 360.74,546.58 362.15,546.42 363.57,544.02 365.45,543.44 367.34,547.82 368.75,547.70 370.17,550.43 372.06,554.84 373.94,551.58 375.36,551.47 376.77,554.27 380.55,552.78 383.38,549.15 387.15,541.68 389.98,536.33 393.75,541.46 396.58,531.70 397.53,526.08 400.36,515.82 401.96,505.57" fill="none" stroke="#1d4a80" stroke-width="0.75" stroke-linejoin="round"/>
<circle cx="354.13" cy="555.55" r="0.75" fill="#1d4a80" stroke="none" stroke-width="0.6"/>
<circle cx="355.55" cy="554.50" r="0.75" fill="#1d4a80" stroke="none" stroke-width="0.6"/>
<circle cx="356.96" cy="550.14" r="0.75" fill="#1d4a80" stroke="none" stroke-width="0.6"/>
<circle cx="358.85" cy="548.82" r="0.75" fill="#1d4a80" stroke="none" stroke-width="0.6"/>
<circle cx="360.74" cy="546.58" r="0.75" fill="#1d4a80" stroke="none" stroke-width="0.6"/>
<circle cx="362.15" cy="546.42" r="0.75" fill="#1d4a80" stroke="none" stroke-width="0.6"/>
<circle cx="363.57" cy="544.02" r="0.75" fill="#1d4a80" stroke="none" stroke-width="0.6"/>
<circle cx="365.45" cy="543.44" r="0.75" fill="#1d4a80" stroke="none" stroke-width="0.6"/>
<circle cx="367.34" cy="547.82" r="0.75" fill="#1d4a80" stroke="none" stroke-width="0.6"/>
<circle cx="368.75" cy="547.70" r="0.75" fill="#1d4a80" stroke="none" stroke-width="0.6"/>
<circle cx="370.17" cy="550.43" r="0.75" fill="#1d4a80" stroke="none" stroke-width="0.6"/>
<circle cx="372.06" cy="554.84" r="0.75" fill="#1d4a80" stroke="none" stroke-width="0.6"/>
<circle cx="373.94" cy="551.58" r="0.75" fill="#1d4a80" stroke="none" stroke-width="0.6"/>
<circle cx="375.36" cy="551.47" r="0.75" fill="#1d4a80" stroke="none" stroke-width="0.6"/>
<circle cx="376.77" cy="554.27" r="0.75" fill="#1d4a80" stroke="none" stroke-width="0.6"/>
<circle cx="380.55" cy="552.78" r="0.75" fill="#1d4a80" stroke="none" stroke-width="0.6"/>
<circle cx="383.38" cy="549.15" r="0.75" fill="#1d4a80" stroke="none" stroke-width="0.6"/>
<circle cx="387.15" cy="541.68" r="0.75" fill="#1d4a80" stroke="none" stroke-width="0.6"/>
<circle cx="389.98" cy="536.33" r="0.75" fill="#1d4a80" stroke="none" stroke-width="0.6"/>
<circle cx="393.75" cy="541.46" r="0.75" fill="#1d4a80" stroke="none" stroke-width="0.6"/>
<circle cx="396.58" cy="531.70" r="0.75" fill="#1d4a80" stroke="none" stroke-width="0.6"/>
<circle cx="397.53" cy="526.08" r="0.75" fill="#1d4a80" stroke="none" stroke-width="0.6"/>
<circle cx="400.36" cy="515.82" r="0.75" fill="#1d4a80" stroke="none" stroke-width="0.6"/>
<circle cx="401.96" cy="505.57" r="0.75" fill="#1d4a80" stroke="none" stroke-width="0.6"/>
<polyline points="354.13,554.27 355.55,554.48 356.96,552.04 358.85,548.76 360.74,545.30 362.15,542.79 363.57,542.74 365.45,541.42 367.34,549.05 368.75,549.12 370.17,551.71 372.06,554.25 373.94,553.20 375.36,554.64 376.77,555.55 380.55,551.38 383.38,551.71 387.15,544.11 389.98,538.89 393.75,539.99 396.58,544.02 400.36,531.20 403.19,517.84 403.56,522.23 406.49,488.40" fill="none" stroke="#1d4a80" stroke-width="0.75" stroke-linejoin="round"/>
<circle cx="354.13" cy="554.27" r="0.75" fill="#1d4a80" stroke="none" stroke-width="0.6"/>
<circle cx="355.55" cy="554.48" r="0.75" fill="#1d4a80" stroke="none" stroke-width="0.6"/>
<circle cx="356.96" cy="552.04" r="0.75" fill="#1d4a80" stroke="none" stroke-width="0.6"/>
<circle cx="358.85" cy="548.76" r="0.75" fill="#1d4a80" stroke="none" stroke-width="0.6"/>
<circle cx="360.74" cy="545.30" r="0.75" fill="#1d4a80" stroke="none" stroke-width="0.6"/>
<circle cx="362.15" cy="542.79" r="0.75" fill="#1d4a80" stroke="none" stroke-width="0.6"/>
<circle cx="363.57" cy="542.74" r="0.75" fill="#1d4a80" stroke="none" stroke-width="0.6"/>
<circle cx="365.45" cy="541.42" r="0.75" fill="#1d4a80" stroke="none" stroke-width="0.6"/>
<circle cx="367.34" cy="549.05" r="0.75" fill="#1d4a80" stroke="none" stroke-width="0.6"/>
<circle cx="368.75" cy="549.12" r="0.75" fill="#1d4a80" stroke="none" stroke-width="0.6"/>
<circle cx="370.17" cy="551.71" r="0.75" fill="#1d4a80" stroke="none" stroke-width="0.6"/>
<circle cx="372.06" cy="554.25" r="0.75" fill="#1d4a80" stroke="none" stroke-width="0.6"/>
<circle cx="373.94" cy="553.20" r="0.75" fill="#1d4a80" stroke="none" stroke-width="0.6"/>
<circle cx="375.36" cy="554.64" r="0.75" fill="#1d4a80" stroke="none" stroke-width="0.6"/>
<circle cx="376.77" cy="555.55" r="0.75" fill="#1d4a80" stroke="none" stroke-width="0.6"/>
<circle cx="380.55" cy="551.38" r="0.75" fill="#1d4a80" stroke="none" stroke-width="0.6"/>
<circle cx="383.38" cy="551.71" r="0.75" fill="#1d4a80" stroke="none" stroke-width="0.6"/>
<circle cx="387.15" cy="544.11" r="0.75" fill="#1d4a80" stroke="none" stroke-width="0.6"/>
<circle cx="389.98" cy="538.89" r="0.75" fill="#1d4a80" stroke="none" stroke-width="0.6"/>
<circle cx="393.75" cy="539.99" r="0.75" fill="#1d4a80" stroke="none" stroke-width="0.6"/>
<circle cx="396.58" cy="544.02" r="0.75" fill="#1d4a80" stroke="none" stroke-width="0.6"/>
<circle cx="400.36" cy="531.20" r="0.75" fill="#1d4a80" stroke="none" stroke-width="0.6"/>
<circle cx="403.19" cy="517.84" r="0.75" fill="#1d4a80" stroke="none" stroke-width="0.6"/>
<circle cx="403.56" cy="522.23" r="0.75" fill="#1d4a80" stroke="none" stroke-width="0.6"/>
<circle cx="406.49" cy="488.40" r="0.75" fill="#1d4a80" stroke="none" stroke-width="0.6"/>
<polyline points="354.13,552.99 355.55,553.08 356.96,547.66 358.85,545.43 360.74,546.58 362.15,543.12 363.57,544.02 365.45,549.63 367.34,551.33 368.75,550.43 370.17,550.43 372.06,554.08 373.94,552.08 375.36,554.94 376.77,554.27 380.55,551.24 383.38,551.71 387.15,548.40 389.98,541.46 393.75,549.14 396.58,551.71 400.36,548.02 403.19,549.15 406.96,541.46 409.79,534.19 410.26,536.33 412.43,520.95 413.56,500.87 414.88,495.83" fill="none" stroke="#1d4a80" stroke-width="0.75" stroke-linejoin="round"/>
<circle cx="354.13" cy="552.99" r="0.75" fill="#1d4a80" stroke="none" stroke-width="0.6"/>
<circle cx="355.55" cy="553.08" r="0.75" fill="#1d4a80" stroke="none" stroke-width="0.6"/>
<circle cx="356.96" cy="547.66" r="0.75" fill="#1d4a80" stroke="none" stroke-width="0.6"/>
<circle cx="358.85" cy="545.43" r="0.75" fill="#1d4a80" stroke="none" stroke-width="0.6"/>
<circle cx="360.74" cy="546.58" r="0.75" fill="#1d4a80" stroke="none" stroke-width="0.6"/>
<circle cx="362.15" cy="543.12" r="0.75" fill="#1d4a80" stroke="none" stroke-width="0.6"/>
<circle cx="363.57" cy="544.02" r="0.75" fill="#1d4a80" stroke="none" stroke-width="0.6"/>
<circle cx="365.45" cy="549.63" r="0.75" fill="#1d4a80" stroke="none" stroke-width="0.6"/>
<circle cx="367.34" cy="551.33" r="0.75" fill="#1d4a80" stroke="none" stroke-width="0.6"/>
<circle cx="368.75" cy="550.43" r="0.75" fill="#1d4a80" stroke="none" stroke-width="0.6"/>
<circle cx="370.17" cy="550.43" r="0.75" fill="#1d4a80" stroke="none" stroke-width="0.6"/>
<circle cx="372.06" cy="554.08" r="0.75" fill="#1d4a80" stroke="none" stroke-width="0.6"/>
<circle cx="373.94" cy="552.08" r="0.75" fill="#1d4a80" stroke="none" stroke-width="0.6"/>
<circle cx="375.36" cy="554.94" r="0.75" fill="#1d4a80" stroke="none" stroke-width="0.6"/>
<circle cx="376.77" cy="554.27" r="0.75" fill="#1d4a80" stroke="none" stroke-width="0.6"/>
<circle cx="380.55" cy="551.24" r="0.75" fill="#1d4a80" stroke="none" stroke-width="0.6"/>
<circle cx="383.38" cy="551.71" r="0.75" fill="#1d4a80" stroke="none" stroke-width="0.6"/>
<circle cx="387.15" cy="548.40" r="0.75" fill="#1d4a80" stroke="none" stroke-width="0.6"/>
<circle cx="389.98" cy="541.46" r="0.75" fill="#1d4a80" stroke="none" stroke-width="0.6"/>
<circle cx="393.75" cy="549.14" r="0.75" fill="#1d4a80" stroke="none" stroke-width="0.6"/>
<circle cx="396.58" cy="551.71" r="0.75" fill="#1d4a80" stroke="none" stroke-width="0.6"/>
<circle cx="400.36" cy="548.02" r="0.75" fill="#1d4a80" stroke="none" stroke-width="0.6"/>
<circle cx="403.19" cy="549.15" r="0.75" fill="#1d4a80" stroke="none" stroke-width="0.6"/>
<circle cx="406.96" cy="541.46" r="0.75" fill="#1d4a80" stroke="none" stroke-width="0.6"/>
<circle cx="409.79" cy="534.19" r="0.75" fill="#1d4a80" stroke="none" stroke-width="0.6"/>
<circle cx="410.26" cy="536.33" r="0.75" fill="#1d4a80" stroke="none" stroke-width="0.6"/>
<circle cx="412.43" cy="520.95" r="0.75" fill="#1d4a80" stroke="none" stroke-width="0.6"/>
<circle cx="413.56" cy="500.87" r="0.75" fill="#1d4a80" stroke="none" stroke-width="0.6"/>
<circle cx="414.88" cy="495.83" r="0.75" fill="#1d4a80" stroke="none" stroke-width="0.6"/>
<polyline points="354.13,554.27 355.55,550.75 356.96,549.22 358.85,551.94 360.74,547.87 362.15,547.75 363.57,545.30 365.45,544.70 367.34,546.12 368.75,549.32 370.17,551.71 372.06,552.78 373.94,554.09 375.36,556.25 376.77,555.55 380.55,554.67 383.38,552.99 387.15,550.37 389.98,546.58 393.75,548.98 396.58,550.43 400.36,544.66 403.19,541.46 406.96,525.74 408.19,527.61 409.79,530.65 411.68,536.84 413.56,538.42 416.39,540.64 416.87,541.97 420.17,533.77 423.00,526.21 424.88,528.64 426.77,520.99 427.90,522.23 429.60,526.01 432.43,515.82 433.37,515.20 434.60,507.62" fill="none" stroke="#1d4a80" stroke-width="0.75" stroke-linejoin="round"/>
<circle cx="354.13" cy="554.27" r="0.75" fill="#1d4a80" stroke="none" stroke-width="0.6"/>
<circle cx="355.55" cy="550.75" r="0.75" fill="#1d4a80" stroke="none" stroke-width="0.6"/>
<circle cx="356.96" cy="549.22" r="0.75" fill="#1d4a80" stroke="none" stroke-width="0.6"/>
<circle cx="358.85" cy="551.94" r="0.75" fill="#1d4a80" stroke="none" stroke-width="0.6"/>
<circle cx="360.74" cy="547.87" r="0.75" fill="#1d4a80" stroke="none" stroke-width="0.6"/>
<circle cx="362.15" cy="547.75" r="0.75" fill="#1d4a80" stroke="none" stroke-width="0.6"/>
<circle cx="363.57" cy="545.30" r="0.75" fill="#1d4a80" stroke="none" stroke-width="0.6"/>
<circle cx="365.45" cy="544.70" r="0.75" fill="#1d4a80" stroke="none" stroke-width="0.6"/>
<circle cx="367.34" cy="546.12" r="0.75" fill="#1d4a80" stroke="none" stroke-width="0.6"/>
<circle cx="368.75" cy="549.32" r="0.75" fill="#1d4a80" stroke="none" stroke-width="0.6"/>
<circle cx="370.17" cy="551.71" r="0.75" fill="#1d4a80" stroke="none" stroke-width="0.6"/>
<circle cx="372.06" cy="552.78" r="0.75" fill="#1d4a80" stroke="none" stroke-width="0.6"/>
<circle cx="373.94" cy="554.09" r="0.75" fill="#1d4a80" stroke="none" stroke-width="0.6"/>
<circle cx="375.36" cy="556.25" r="0.75" fill="#1d4a80" stroke="none" stroke-width="0.6"/>
<circle cx="376.77" cy="555.55" r="0.75" fill="#1d4a80" stroke="none" stroke-width="0.6"/>
<circle cx="380.55" cy="554.67" r="0.75" fill="#1d4a80" stroke="none" stroke-width="0.6"/>
<circle cx="383.38" cy="552.99" r="0.75" fill="#1d4a80" stroke="none" stroke-width="0.6"/>
<circle cx="387.15" cy="550.37" r="0.75" fill="#1d4a80" stroke="none" stroke-width="0.6"/>
<circle cx="389.98" cy="546.58" r="0.75" fill="#1d4a80" stroke="none" stroke-width="0.6"/>
<circle cx="393.75" cy="548.98" r="0.75" fill="#1d4a80" stroke="none" stroke-width="0.6"/>
<circle cx="396.58" cy="550.43" r="0.75" fill="#1d4a80" stroke="none" stroke-width="0.6"/>
<circle cx="400.36" cy="544.66" r="0.75" fill="#1d4a80" stroke="none" stroke-width="0.6"/>
<circle cx="403.19" cy="541.46" r="0.75" fill="#1d4a80" stroke="none" stroke-width="0.6"/>
<circle cx="406.96" cy="525.74" r="0.75" fill="#1d4a80" stroke="none" stroke-width="0.6"/>
<circle cx="408.19" cy="527.61" r="0.75" fill="#1d4a80" stroke="none" stroke-width="0.6"/>
<circle cx="409.79" cy="530.65" r="0.75" fill="#1d4a80" stroke="none" stroke-width="0.6"/>
<circle cx="411.68" cy="536.84" r="0.75" fill="#1d4a80" stroke="none" stroke-width="0.6"/>
<circle cx="413.56" cy="538.42" r="0.75" fill="#1d4a80" stroke="none" stroke-width="0.6"/>
<circle cx="416.39" cy="540.64" r="0.75" fill="#1d4a80" stroke="none" stroke-width="0.6"/>
<circle cx="416.87" cy="541.97" r="0.75" fill="#1d4a80" stroke="none" stroke-width="0.6"/>
<circle cx="420.17" cy="533.77" r="0.75" fill="#1d4a80" stroke="none" stroke-width="0.6"/>
<circle cx="423.00" cy="526.21" r="0.75" fill="#1d4a80" stroke="none" stroke-width="0.6"/>
<circle cx="424.88" cy="528.64" r="0.75" fill="#1d4a80" stroke="none" stroke-width="0.6"/>
<circle cx="426.77" cy="520.99" r="0.75" fill="#1d4a80" stroke="none" stroke-width="0.6"/>
<circle cx="427.90" cy="522.23" r="0.75" fill="#1d4a80" stroke="none" stroke-width="0.6"/>
<circle cx="429.60" cy="526.01" r="0.75" fill="#1d4a80" stroke="none" stroke-width="0.6"/>
<circle cx="432.43" cy="515.82" r="0.75" fill="#1d4a80" stroke="none" stroke-width="0.6"/>
<circle cx="433.37" cy="515.20" r="0.75" fill="#1d4a80" stroke="none" stroke-width="0.6"/>
<circle cx="434.60" cy="507.62" r="0.75" fill="#1d4a80" stroke="none" stroke-width="0.6"/>
<polyline points="354.13,551.71 355.55,549.98 356.96,550.52 358.85,546.62 360.74,544.02 362.15,538.69 363.57,541.46 365.45,543.68 367.34,544.41 368.75,548.75 370.17,549.15 372.06,550.82 373.94,552.13 375.36,554.74 376.77,552.99 380.55,552.25 383.38,551.71 387.15,547.00 389.04,546.58 389.98,547.50 393.75,559.40 396.58,558.12 400.36,557.96 403.19,556.84 406.96,554.27 409.79,553.16 410.73,551.71" fill="none" stroke="#1d4a80" stroke-width="0.75" stroke-linejoin="round"/>
<circle cx="354.13" cy="551.71" r="0.75" fill="#1d4a80" stroke="none" stroke-width="0.6"/>
<circle cx="355.55" cy="549.98" r="0.75" fill="#1d4a80" stroke="none" stroke-width="0.6"/>
<circle cx="356.96" cy="550.52" r="0.75" fill="#1d4a80" stroke="none" stroke-width="0.6"/>
<circle cx="358.85" cy="546.62" r="0.75" fill="#1d4a80" stroke="none" stroke-width="0.6"/>
<circle cx="360.74" cy="544.02" r="0.75" fill="#1d4a80" stroke="none" stroke-width="0.6"/>
<circle cx="362.15" cy="538.69" r="0.75" fill="#1d4a80" stroke="none" stroke-width="0.6"/>
<circle cx="363.57" cy="541.46" r="0.75" fill="#1d4a80" stroke="none" stroke-width="0.6"/>
<circle cx="365.45" cy="543.68" r="0.75" fill="#1d4a80" stroke="none" stroke-width="0.6"/>
<circle cx="367.34" cy="544.41" r="0.75" fill="#1d4a80" stroke="none" stroke-width="0.6"/>
<circle cx="368.75" cy="548.75" r="0.75" fill="#1d4a80" stroke="none" stroke-width="0.6"/>
<circle cx="370.17" cy="549.15" r="0.75" fill="#1d4a80" stroke="none" stroke-width="0.6"/>
<circle cx="372.06" cy="550.82" r="0.75" fill="#1d4a80" stroke="none" stroke-width="0.6"/>
<circle cx="373.94" cy="552.13" r="0.75" fill="#1d4a80" stroke="none" stroke-width="0.6"/>
<circle cx="375.36" cy="554.74" r="0.75" fill="#1d4a80" stroke="none" stroke-width="0.6"/>
<circle cx="376.77" cy="552.99" r="0.75" fill="#1d4a80" stroke="none" stroke-width="0.6"/>
<circle cx="380.55" cy="552.25" r="0.75" fill="#1d4a80" stroke="none" stroke-width="0.6"/>
<circle cx="383.38" cy="551.71" r="0.75" fill="#1d4a80" stroke="none" stroke-width="0.6"/>
<circle cx="387.15" cy="547.00" r="0.75" fill="#1d4a80" stroke="none" stroke-width="0.6"/>
<circle cx="389.04" cy="546.58" r="0.75" fill="#1d4a80" stroke="none" stroke-width="0.6"/>
<circle cx="389.98" cy="547.50" r="0.75" fill="#1d4a80" stroke="none" stroke-width="0.6"/>
<circle cx="393.75" cy="559.40" r="0.75" fill="#1d4a80" stroke="none" stroke-width="0.6"/>
<circle cx="396.58" cy="558.12" r="0.75" fill="#1d4a80" stroke="none" stroke-width="0.6"/>
<circle cx="400.36" cy="557.96" r="0.75" fill="#1d4a80" stroke="none" stroke-width="0.6"/>
<circle cx="403.19" cy="556.84" r="0.75" fill="#1d4a80" stroke="none" stroke-width="0.6"/>
<circle cx="406.96" cy="554.27" r="0.75" fill="#1d4a80" stroke="none" stroke-width="0.6"/>
<circle cx="409.79" cy="553.16" r="0.75" fill="#1d4a80" stroke="none" stroke-width="0.6"/>
<circle cx="410.73" cy="551.71" r="0.75" fill="#1d4a80" stroke="none" stroke-width="0.6"/>
<polyline points="354.13,555.55 355.55,553.32 356.96,553.91 358.85,549.16 360.74,549.15 362.15,546.31 363.57,546.58 365.45,547.95 367.34,551.71 368.75,553.07 370.17,555.10 372.06,553.67 373.94,554.27 375.36,555.22 376.77,555.08 380.55,552.99 383.38,550.51 387.15,547.87 389.98,548.14 391.87,549.15 393.75,551.54 396.58,554.27 400.36,553.90 401.30,555.55" fill="none" stroke="#1d4a80" stroke-width="0.75" stroke-linejoin="round"/>
<circle cx="354.13" cy="555.55" r="0.75" fill="#1d4a80" stroke="none" stroke-width="0.6"/>
<circle cx="355.55" cy="553.32" r="0.75" fill="#1d4a80" stroke="none" stroke-width="0.6"/>
<circle cx="356.96" cy="553.91" r="0.75" fill="#1d4a80" stroke="none" stroke-width="0.6"/>
<circle cx="358.85" cy="549.16" r="0.75" fill="#1d4a80" stroke="none" stroke-width="0.6"/>
<circle cx="360.74" cy="549.15" r="0.75" fill="#1d4a80" stroke="none" stroke-width="0.6"/>
<circle cx="362.15" cy="546.31" r="0.75" fill="#1d4a80" stroke="none" stroke-width="0.6"/>
<circle cx="363.57" cy="546.58" r="0.75" fill="#1d4a80" stroke="none" stroke-width="0.6"/>
<circle cx="365.45" cy="547.95" r="0.75" fill="#1d4a80" stroke="none" stroke-width="0.6"/>
<circle cx="367.34" cy="551.71" r="0.75" fill="#1d4a80" stroke="none" stroke-width="0.6"/>
<circle cx="368.75" cy="553.07" r="0.75" fill="#1d4a80" stroke="none" stroke-width="0.6"/>
<circle cx="370.17" cy="555.10" r="0.75" fill="#1d4a80" stroke="none" stroke-width="0.6"/>
<circle cx="372.06" cy="553.67" r="0.75" fill="#1d4a80" stroke="none" stroke-width="0.6"/>
<circle cx="373.94" cy="554.27" r="0.75" fill="#1d4a80" stroke="none" stroke-width="0.6"/>
<circle cx="375.36" cy="555.22" r="0.75" fill="#1d4a80" stroke="none" stroke-width="0.6"/>
<circle cx="376.77" cy="555.08" r="0.75" fill="#1d4a80" stroke="none" stroke-width="0.6"/>
<circle cx="380.55" cy="552.99" r="0.75" fill="#1d4a80" stroke="none" stroke-width="0.6"/>
<circle cx="383.38" cy="550.51" r="0.75" fill="#1d4a80" stroke="none" stroke-width="0.6"/>
<circle cx="387.15" cy="547.87" r="0.75" fill="#1d4a80" stroke="none" stroke-width="0.6"/>
<circle cx="389.98" cy="548.14" r="0.75" fill="#1d4a80" stroke="none" stroke-width="0.6"/>
<circle cx="391.87" cy="549.15" r="0.75" fill="#1d4a80" stroke="none" stroke-width="0.6"/>
<circle cx="393.75" cy="551.54" r="0.75" fill="#1d4a80" stroke="none" stroke-width="0.6"/>
<circle cx="396.58" cy="554.27" r="0.75" fill="#1d4a80" stroke="none" stroke-width="0.6"/>
<circle cx="400.36" cy="553.90" r="0.75" fill="#1d4a80" stroke="none" stroke-width="0.6"/>
<circle cx="401.30" cy="555.55" r="0.75" fill="#1d4a80" stroke="none" stroke-width="0.6"/>
<text x="7.30" y="613.80" font-size="12.8" text-anchor="start" fill="#111" font-weight="bold" textLength="7.2" lengthAdjust="spacingAndGlyphs">E</text>
<text x="173.10" y="612.70" font-size="10.4" text-anchor="start" fill="#262626" font-weight="normal" stroke="#262626" stroke-width="0.18" textLength="173.3" lengthAdjust="spacingAndGlyphs">Triple combinations, varied sequence</text>
<line x1="62.50" y1="617.20" x2="457.60" y2="617.20" stroke="#333" stroke-width="1.1"/>
<text x="122.35" y="631.00" font-size="8.4" text-anchor="middle" fill="#262626" font-weight="normal" stroke="#262626" stroke-width="0.18" textLength="61.1" lengthAdjust="spacingAndGlyphs">Simultaneously:</text>
<text x="120.95" y="643.10" font-size="8.4" text-anchor="middle" fill="#262626" font-weight="normal" stroke="#262626" stroke-width="0.18" textLength="112.3" lengthAdjust="spacingAndGlyphs">Glofitamab +4-1BBL + CD28</text>
<text x="217.70" y="629.80" font-size="8.4" text-anchor="start" fill="#262626" font-weight="normal" stroke="#262626" stroke-width="0.18" textLength="89.2" lengthAdjust="spacingAndGlyphs">1<tspan font-size="5.4" dy="-3">st</tspan><tspan dy="3"> glofitamab + 4-1BBL</tspan></text>
<text x="217.70" y="641.50" font-size="8.4" text-anchor="start" fill="#262626" font-weight="normal" stroke="#262626" stroke-width="0.18" textLength="87.7" lengthAdjust="spacingAndGlyphs">2<tspan font-size="5.4" dy="-3">nd</tspan><tspan dy="3"> glofitamab + CD28</tspan></text>
<text x="361.50" y="630.00" font-size="8.4" text-anchor="start" fill="#262626" font-weight="normal" stroke="#262626" stroke-width="0.18" textLength="84.6" lengthAdjust="spacingAndGlyphs">1<tspan font-size="5.4" dy="-3">st</tspan><tspan dy="3"> glofitamab + CD28</tspan></text>
<text x="355.60" y="641.80" font-size="8.4" text-anchor="start" fill="#262626" font-weight="normal" stroke="#262626" stroke-width="0.18" textLength="93.1" lengthAdjust="spacingAndGlyphs">2<tspan font-size="5.4" dy="-3">nd</tspan><tspan dy="3"> glofitamab + 4-1BBL</tspan></text>
<rect x="92.01" y="651.70" width="84.89" height="76.60" fill="#fcdc97"/>
<rect x="92.01" y="651.70" width="3.30" height="76.60" fill="#c9c4e3"/>
<rect x="98.61" y="651.70" width="3.30" height="76.60" fill="#c9c4e3"/>
<rect x="105.21" y="651.70" width="3.30" height="76.60" fill="#c9c4e3"/>
<rect x="111.82" y="651.70" width="3.30" height="76.60" fill="#c9c4e3"/>
<rect x="118.42" y="651.70" width="3.30" height="76.60" fill="#c9c4e3"/>
<rect x="125.02" y="651.70" width="3.30" height="76.60" fill="#c9c4e3"/>
<rect x="131.63" y="651.70" width="3.30" height="76.60" fill="#c9c4e3"/>
<rect x="138.23" y="651.70" width="3.30" height="76.60" fill="#c9c4e3"/>
<rect x="144.83" y="651.70" width="3.30" height="76.60" fill="#c9c4e3"/>
<rect x="151.44" y="651.70" width="3.30" height="76.60" fill="#c9c4e3"/>
<rect x="158.04" y="651.70" width="3.30" height="76.60" fill="#c9c4e3"/>
<rect x="164.64" y="651.70" width="3.30" height="76.60" fill="#c9c4e3"/>
<rect x="171.25" y="651.70" width="3.30" height="76.60" fill="#c9c4e3"/>
<rect x="238.65" y="651.70" width="31.51" height="76.60" fill="#fcdc97"/>
<rect x="270.16" y="651.70" width="46.32" height="76.60" fill="#c9c4e3"/>
<rect x="379.72" y="651.70" width="31.04" height="76.60" fill="#c9c4e3"/>
<rect x="410.75" y="651.70" width="46.22" height="76.60" fill="#fcdc97"/>
<line x1="63.80" y1="649.40" x2="63.80" y2="728.90" stroke="#222222" stroke-width="1.4"/>
<line x1="60.80" y1="728.30" x2="63.80" y2="728.30" stroke="#222222" stroke-width="1.0"/>
<text x="57.40" y="731.50" font-size="9.0" text-anchor="end" fill="#262626" font-weight="normal" stroke="#262626" stroke-width="0.18" textLength="4.8" lengthAdjust="spacingAndGlyphs">0</text>
<line x1="60.80" y1="702.77" x2="63.80" y2="702.77" stroke="#222222" stroke-width="1.0"/>
<text x="57.40" y="705.97" font-size="9.0" text-anchor="end" fill="#262626" font-weight="normal" stroke="#262626" stroke-width="0.18" textLength="19.5" lengthAdjust="spacingAndGlyphs">1000</text>
<line x1="60.80" y1="677.23" x2="63.80" y2="677.23" stroke="#222222" stroke-width="1.0"/>
<text x="57.40" y="680.43" font-size="9.0" text-anchor="end" fill="#262626" font-weight="normal" stroke="#262626" stroke-width="0.18" textLength="19.5" lengthAdjust="spacingAndGlyphs">2000</text>
<line x1="60.80" y1="651.70" x2="63.80" y2="651.70" stroke="#222222" stroke-width="1.0"/>
<text x="57.40" y="654.90" font-size="9.0" text-anchor="end" fill="#262626" font-weight="normal" stroke="#262626" stroke-width="0.18" textLength="19.5" lengthAdjust="spacingAndGlyphs">3000</text>
<line x1="63.80" y1="728.30" x2="180.30" y2="728.30" stroke="#222222" stroke-width="1.4"/>
<line x1="63.80" y1="728.30" x2="63.80" y2="731.30" stroke="#222222" stroke-width="1.0"/>
<text x="63.80" y="741.50" font-size="9.2" text-anchor="middle" fill="#262626" font-weight="normal" stroke="#262626" stroke-width="0.18" textLength="5.0" lengthAdjust="spacingAndGlyphs">0</text>
<line x1="82.67" y1="728.30" x2="82.67" y2="731.30" stroke="#222222" stroke-width="1.0"/>
<text x="82.67" y="741.50" font-size="9.2" text-anchor="middle" fill="#262626" font-weight="normal" stroke="#262626" stroke-width="0.18" textLength="10.0" lengthAdjust="spacingAndGlyphs">20</text>
<line x1="101.53" y1="728.30" x2="101.53" y2="731.30" stroke="#222222" stroke-width="1.0"/>
<text x="101.53" y="741.50" font-size="9.2" text-anchor="middle" fill="#262626" font-weight="normal" stroke="#262626" stroke-width="0.18" textLength="10.0" lengthAdjust="spacingAndGlyphs">40</text>
<line x1="120.40" y1="728.30" x2="120.40" y2="731.30" stroke="#222222" stroke-width="1.0"/>
<text x="120.40" y="741.50" font-size="9.2" text-anchor="middle" fill="#262626" font-weight="normal" stroke="#262626" stroke-width="0.18" textLength="10.0" lengthAdjust="spacingAndGlyphs">60</text>
<line x1="139.27" y1="728.30" x2="139.27" y2="731.30" stroke="#222222" stroke-width="1.0"/>
<text x="139.27" y="741.50" font-size="9.2" text-anchor="middle" fill="#262626" font-weight="normal" stroke="#262626" stroke-width="0.18" textLength="10.0" lengthAdjust="spacingAndGlyphs">80</text>
<line x1="158.13" y1="728.30" x2="158.13" y2="731.30" stroke="#222222" stroke-width="1.0"/>
<text x="158.13" y="741.50" font-size="9.2" text-anchor="middle" fill="#262626" font-weight="normal" stroke="#262626" stroke-width="0.18" textLength="15.6" lengthAdjust="spacingAndGlyphs">100</text>
<line x1="177.00" y1="728.30" x2="177.00" y2="731.30" stroke="#222222" stroke-width="1.0"/>
<text x="177.00" y="741.50" font-size="9.2" text-anchor="middle" fill="#262626" font-weight="normal" stroke="#262626" stroke-width="0.18" textLength="15.6" lengthAdjust="spacingAndGlyphs">120</text>
<text x="122.20" y="756.10" font-size="10.8" text-anchor="middle" fill="#262626" font-weight="normal" stroke="#262626" stroke-width="0.18" textLength="35.2" lengthAdjust="spacingAndGlyphs">Study day</text>
<text transform="translate(32.30,688.10) rotate(-90)" x="0" y="0" font-size="10.6" text-anchor="middle" fill="#262626" stroke="#262626" stroke-width="0.18" textLength="78.6" lengthAdjust="spacingAndGlyphs">Tumor volume [mm<tspan font-size="7.4" dy="-4.0">3</tspan><tspan dy="4.0">]</tspan></text>
<polyline points="73.23,723.19 74.65,723.30 76.06,718.17 77.95,716.72 79.84,713.58 81.25,718.38 81.72,714.00 82.67,718.02 84.55,715.42 86.44,720.64 87.85,721.62 89.27,724.26 91.16,724.76 93.04,724.47 94.46,722.09 95.87,722.23 99.65,720.64 102.48,716.11 106.25,712.98 109.08,710.87 112.85,710.43 114.74,705.06 115.68,702.54 118.14,697.40 119.46,700.83 122.29,684.37 123.23,686.43 126.06,681.23 126.53,674.68" fill="none" stroke="#1d4a80" stroke-width="0.75" stroke-linejoin="round"/>
<circle cx="73.23" cy="723.19" r="0.75" fill="#1d4a80" stroke="none" stroke-width="0.6"/>
<circle cx="74.65" cy="723.30" r="0.75" fill="#1d4a80" stroke="none" stroke-width="0.6"/>
<circle cx="76.06" cy="718.17" r="0.75" fill="#1d4a80" stroke="none" stroke-width="0.6"/>
<circle cx="77.95" cy="716.72" r="0.75" fill="#1d4a80" stroke="none" stroke-width="0.6"/>
<circle cx="79.84" cy="713.58" r="0.75" fill="#1d4a80" stroke="none" stroke-width="0.6"/>
<circle cx="81.25" cy="718.38" r="0.75" fill="#1d4a80" stroke="none" stroke-width="0.6"/>
<circle cx="81.72" cy="714.00" r="0.75" fill="#1d4a80" stroke="none" stroke-width="0.6"/>
<circle cx="82.67" cy="718.02" r="0.75" fill="#1d4a80" stroke="none" stroke-width="0.6"/>
<circle cx="84.55" cy="715.42" r="0.75" fill="#1d4a80" stroke="none" stroke-width="0.6"/>
<circle cx="86.44" cy="720.64" r="0.75" fill="#1d4a80" stroke="none" stroke-width="0.6"/>
<circle cx="87.85" cy="721.62" r="0.75" fill="#1d4a80" stroke="none" stroke-width="0.6"/>
<circle cx="89.27" cy="724.26" r="0.75" fill="#1d4a80" stroke="none" stroke-width="0.6"/>
<circle cx="91.16" cy="724.76" r="0.75" fill="#1d4a80" stroke="none" stroke-width="0.6"/>
<circle cx="93.04" cy="724.47" r="0.75" fill="#1d4a80" stroke="none" stroke-width="0.6"/>
<circle cx="94.46" cy="722.09" r="0.75" fill="#1d4a80" stroke="none" stroke-width="0.6"/>
<circle cx="95.87" cy="722.23" r="0.75" fill="#1d4a80" stroke="none" stroke-width="0.6"/>
<circle cx="99.65" cy="720.64" r="0.75" fill="#1d4a80" stroke="none" stroke-width="0.6"/>
<circle cx="102.48" cy="716.11" r="0.75" fill="#1d4a80" stroke="none" stroke-width="0.6"/>
<circle cx="106.25" cy="712.98" r="0.75" fill="#1d4a80" stroke="none" stroke-width="0.6"/>
<circle cx="109.08" cy="710.87" r="0.75" fill="#1d4a80" stroke="none" stroke-width="0.6"/>
<circle cx="112.85" cy="710.43" r="0.75" fill="#1d4a80" stroke="none" stroke-width="0.6"/>
<circle cx="114.74" cy="705.06" r="0.75" fill="#1d4a80" stroke="none" stroke-width="0.6"/>
<circle cx="115.68" cy="702.54" r="0.75" fill="#1d4a80" stroke="none" stroke-width="0.6"/>
<circle cx="118.14" cy="697.40" r="0.75" fill="#1d4a80" stroke="none" stroke-width="0.6"/>
<circle cx="119.46" cy="700.83" r="0.75" fill="#1d4a80" stroke="none" stroke-width="0.6"/>
<circle cx="122.29" cy="684.37" r="0.75" fill="#1d4a80" stroke="none" stroke-width="0.6"/>
<circle cx="123.23" cy="686.43" r="0.75" fill="#1d4a80" stroke="none" stroke-width="0.6"/>
<circle cx="126.06" cy="681.23" r="0.75" fill="#1d4a80" stroke="none" stroke-width="0.6"/>
<circle cx="126.53" cy="674.68" r="0.75" fill="#1d4a80" stroke="none" stroke-width="0.6"/>
<polyline points="73.23,720.64 74.65,720.12 76.06,715.03 77.95,717.61 79.84,719.53 81.25,717.04 81.72,715.53 82.67,717.33 84.55,721.53 86.44,719.36 87.85,721.66 89.27,721.71 91.16,722.45 93.04,723.19 94.46,723.46 95.87,722.16 99.65,719.67 101.53,718.09 102.48,716.66 106.25,715.13 109.08,715.53 112.85,716.28 115.68,715.53 119.46,713.43 122.29,711.70 126.06,712.12 128.89,706.23 129.83,705.32 132.66,699.88 134.55,687.45 135.49,687.98 136.44,671.62" fill="none" stroke="#1d4a80" stroke-width="0.75" stroke-linejoin="round"/>
<circle cx="73.23" cy="720.64" r="0.75" fill="#1d4a80" stroke="none" stroke-width="0.6"/>
<circle cx="74.65" cy="720.12" r="0.75" fill="#1d4a80" stroke="none" stroke-width="0.6"/>
<circle cx="76.06" cy="715.03" r="0.75" fill="#1d4a80" stroke="none" stroke-width="0.6"/>
<circle cx="77.95" cy="717.61" r="0.75" fill="#1d4a80" stroke="none" stroke-width="0.6"/>
<circle cx="79.84" cy="719.53" r="0.75" fill="#1d4a80" stroke="none" stroke-width="0.6"/>
<circle cx="81.25" cy="717.04" r="0.75" fill="#1d4a80" stroke="none" stroke-width="0.6"/>
<circle cx="81.72" cy="715.53" r="0.75" fill="#1d4a80" stroke="none" stroke-width="0.6"/>
<circle cx="82.67" cy="717.33" r="0.75" fill="#1d4a80" stroke="none" stroke-width="0.6"/>
<circle cx="84.55" cy="721.53" r="0.75" fill="#1d4a80" stroke="none" stroke-width="0.6"/>
<circle cx="86.44" cy="719.36" r="0.75" fill="#1d4a80" stroke="none" stroke-width="0.6"/>
<circle cx="87.85" cy="721.66" r="0.75" fill="#1d4a80" stroke="none" stroke-width="0.6"/>
<circle cx="89.27" cy="721.71" r="0.75" fill="#1d4a80" stroke="none" stroke-width="0.6"/>
<circle cx="91.16" cy="722.45" r="0.75" fill="#1d4a80" stroke="none" stroke-width="0.6"/>
<circle cx="93.04" cy="723.19" r="0.75" fill="#1d4a80" stroke="none" stroke-width="0.6"/>
<circle cx="94.46" cy="723.46" r="0.75" fill="#1d4a80" stroke="none" stroke-width="0.6"/>
<circle cx="95.87" cy="722.16" r="0.75" fill="#1d4a80" stroke="none" stroke-width="0.6"/>
<circle cx="99.65" cy="719.67" r="0.75" fill="#1d4a80" stroke="none" stroke-width="0.6"/>
<circle cx="101.53" cy="718.09" r="0.75" fill="#1d4a80" stroke="none" stroke-width="0.6"/>
<circle cx="102.48" cy="716.66" r="0.75" fill="#1d4a80" stroke="none" stroke-width="0.6"/>
<circle cx="106.25" cy="715.13" r="0.75" fill="#1d4a80" stroke="none" stroke-width="0.6"/>
<circle cx="109.08" cy="715.53" r="0.75" fill="#1d4a80" stroke="none" stroke-width="0.6"/>
<circle cx="112.85" cy="716.28" r="0.75" fill="#1d4a80" stroke="none" stroke-width="0.6"/>
<circle cx="115.68" cy="715.53" r="0.75" fill="#1d4a80" stroke="none" stroke-width="0.6"/>
<circle cx="119.46" cy="713.43" r="0.75" fill="#1d4a80" stroke="none" stroke-width="0.6"/>
<circle cx="122.29" cy="711.70" r="0.75" fill="#1d4a80" stroke="none" stroke-width="0.6"/>
<circle cx="126.06" cy="712.12" r="0.75" fill="#1d4a80" stroke="none" stroke-width="0.6"/>
<circle cx="128.89" cy="706.23" r="0.75" fill="#1d4a80" stroke="none" stroke-width="0.6"/>
<circle cx="129.83" cy="705.32" r="0.75" fill="#1d4a80" stroke="none" stroke-width="0.6"/>
<circle cx="132.66" cy="699.88" r="0.75" fill="#1d4a80" stroke="none" stroke-width="0.6"/>
<circle cx="134.55" cy="687.45" r="0.75" fill="#1d4a80" stroke="none" stroke-width="0.6"/>
<circle cx="135.49" cy="687.98" r="0.75" fill="#1d4a80" stroke="none" stroke-width="0.6"/>
<circle cx="136.44" cy="671.62" r="0.75" fill="#1d4a80" stroke="none" stroke-width="0.6"/>
<polyline points="73.23,724.47 74.65,723.94 76.06,722.49 77.95,719.38 79.84,716.80 80.78,716.81 81.25,720.43 82.67,717.70 84.55,717.63 86.44,721.92 87.85,723.63 89.27,723.49 91.16,722.90 93.04,724.47 94.46,724.24 95.87,724.09 99.65,723.09 102.48,721.92 106.25,719.40 109.08,720.83 110.97,718.09 112.85,717.74 115.68,716.14 119.46,716.36 120.40,715.53 122.29,713.92 126.06,715.28 128.89,712.69 129.83,712.98 132.66,711.25 135.49,707.81 139.27,707.87 142.10,694.86 143.98,692.55 145.87,680.25 147.95,668.04" fill="none" stroke="#1d4a80" stroke-width="0.75" stroke-linejoin="round"/>
<circle cx="73.23" cy="724.47" r="0.75" fill="#1d4a80" stroke="none" stroke-width="0.6"/>
<circle cx="74.65" cy="723.94" r="0.75" fill="#1d4a80" stroke="none" stroke-width="0.6"/>
<circle cx="76.06" cy="722.49" r="0.75" fill="#1d4a80" stroke="none" stroke-width="0.6"/>
<circle cx="77.95" cy="719.38" r="0.75" fill="#1d4a80" stroke="none" stroke-width="0.6"/>
<circle cx="79.84" cy="716.80" r="0.75" fill="#1d4a80" stroke="none" stroke-width="0.6"/>
<circle cx="80.78" cy="716.81" r="0.75" fill="#1d4a80" stroke="none" stroke-width="0.6"/>
<circle cx="81.25" cy="720.43" r="0.75" fill="#1d4a80" stroke="none" stroke-width="0.6"/>
<circle cx="82.67" cy="717.70" r="0.75" fill="#1d4a80" stroke="none" stroke-width="0.6"/>
<circle cx="84.55" cy="717.63" r="0.75" fill="#1d4a80" stroke="none" stroke-width="0.6"/>
<circle cx="86.44" cy="721.92" r="0.75" fill="#1d4a80" stroke="none" stroke-width="0.6"/>
<circle cx="87.85" cy="723.63" r="0.75" fill="#1d4a80" stroke="none" stroke-width="0.6"/>
<circle cx="89.27" cy="723.49" r="0.75" fill="#1d4a80" stroke="none" stroke-width="0.6"/>
<circle cx="91.16" cy="722.90" r="0.75" fill="#1d4a80" stroke="none" stroke-width="0.6"/>
<circle cx="93.04" cy="724.47" r="0.75" fill="#1d4a80" stroke="none" stroke-width="0.6"/>
<circle cx="94.46" cy="724.24" r="0.75" fill="#1d4a80" stroke="none" stroke-width="0.6"/>
<circle cx="95.87" cy="724.09" r="0.75" fill="#1d4a80" stroke="none" stroke-width="0.6"/>
<circle cx="99.65" cy="723.09" r="0.75" fill="#1d4a80" stroke="none" stroke-width="0.6"/>
<circle cx="102.48" cy="721.92" r="0.75" fill="#1d4a80" stroke="none" stroke-width="0.6"/>
<circle cx="106.25" cy="719.40" r="0.75" fill="#1d4a80" stroke="none" stroke-width="0.6"/>
<circle cx="109.08" cy="720.83" r="0.75" fill="#1d4a80" stroke="none" stroke-width="0.6"/>
<circle cx="110.97" cy="718.09" r="0.75" fill="#1d4a80" stroke="none" stroke-width="0.6"/>
<circle cx="112.85" cy="717.74" r="0.75" fill="#1d4a80" stroke="none" stroke-width="0.6"/>
<circle cx="115.68" cy="716.14" r="0.75" fill="#1d4a80" stroke="none" stroke-width="0.6"/>
<circle cx="119.46" cy="716.36" r="0.75" fill="#1d4a80" stroke="none" stroke-width="0.6"/>
<circle cx="120.40" cy="715.53" r="0.75" fill="#1d4a80" stroke="none" stroke-width="0.6"/>
<circle cx="122.29" cy="713.92" r="0.75" fill="#1d4a80" stroke="none" stroke-width="0.6"/>
<circle cx="126.06" cy="715.28" r="0.75" fill="#1d4a80" stroke="none" stroke-width="0.6"/>
<circle cx="128.89" cy="712.69" r="0.75" fill="#1d4a80" stroke="none" stroke-width="0.6"/>
<circle cx="129.83" cy="712.98" r="0.75" fill="#1d4a80" stroke="none" stroke-width="0.6"/>
<circle cx="132.66" cy="711.25" r="0.75" fill="#1d4a80" stroke="none" stroke-width="0.6"/>
<circle cx="135.49" cy="707.81" r="0.75" fill="#1d4a80" stroke="none" stroke-width="0.6"/>
<circle cx="139.27" cy="707.87" r="0.75" fill="#1d4a80" stroke="none" stroke-width="0.6"/>
<circle cx="142.10" cy="694.86" r="0.75" fill="#1d4a80" stroke="none" stroke-width="0.6"/>
<circle cx="143.98" cy="692.55" r="0.75" fill="#1d4a80" stroke="none" stroke-width="0.6"/>
<circle cx="145.87" cy="680.25" r="0.75" fill="#1d4a80" stroke="none" stroke-width="0.6"/>
<circle cx="147.95" cy="668.04" r="0.75" fill="#1d4a80" stroke="none" stroke-width="0.6"/>
<polyline points="73.23,721.92 74.65,718.54 76.06,717.79 77.95,721.05 79.84,716.74 81.25,715.39 81.72,715.02 82.67,714.19 84.55,721.78 86.44,720.64 87.85,720.89 89.27,723.91 91.16,723.81 93.04,723.19 94.46,724.17 95.87,721.36 99.65,720.89 102.48,720.64 106.25,717.28 109.08,718.05 110.97,715.53 112.85,712.97 115.68,712.39 119.46,713.05 120.40,710.43 122.29,710.10 126.06,703.44 128.89,705.07 129.83,705.32 132.66,706.34 135.49,707.12 139.27,702.77 142.10,704.67 145.87,695.83 148.70,697.66 152.47,683.36 154.64,670.85" fill="none" stroke="#1d4a80" stroke-width="0.75" stroke-linejoin="round"/>
<circle cx="73.23" cy="721.92" r="0.75" fill="#1d4a80" stroke="none" stroke-width="0.6"/>
<circle cx="74.65" cy="718.54" r="0.75" fill="#1d4a80" stroke="none" stroke-width="0.6"/>
<circle cx="76.06" cy="717.79" r="0.75" fill="#1d4a80" stroke="none" stroke-width="0.6"/>
<circle cx="77.95" cy="721.05" r="0.75" fill="#1d4a80" stroke="none" stroke-width="0.6"/>
<circle cx="79.84" cy="716.74" r="0.75" fill="#1d4a80" stroke="none" stroke-width="0.6"/>
<circle cx="81.25" cy="715.39" r="0.75" fill="#1d4a80" stroke="none" stroke-width="0.6"/>
<circle cx="81.72" cy="715.02" r="0.75" fill="#1d4a80" stroke="none" stroke-width="0.6"/>
<circle cx="82.67" cy="714.19" r="0.75" fill="#1d4a80" stroke="none" stroke-width="0.6"/>
<circle cx="84.55" cy="721.78" r="0.75" fill="#1d4a80" stroke="none" stroke-width="0.6"/>
<circle cx="86.44" cy="720.64" r="0.75" fill="#1d4a80" stroke="none" stroke-width="0.6"/>
<circle cx="87.85" cy="720.89" r="0.75" fill="#1d4a80" stroke="none" stroke-width="0.6"/>
<circle cx="89.27" cy="723.91" r="0.75" fill="#1d4a80" stroke="none" stroke-width="0.6"/>
<circle cx="91.16" cy="723.81" r="0.75" fill="#1d4a80" stroke="none" stroke-width="0.6"/>
<circle cx="93.04" cy="723.19" r="0.75" fill="#1d4a80" stroke="none" stroke-width="0.6"/>
<circle cx="94.46" cy="724.17" r="0.75" fill="#1d4a80" stroke="none" stroke-width="0.6"/>
<circle cx="95.87" cy="721.36" r="0.75" fill="#1d4a80" stroke="none" stroke-width="0.6"/>
<circle cx="99.65" cy="720.89" r="0.75" fill="#1d4a80" stroke="none" stroke-width="0.6"/>
<circle cx="102.48" cy="720.64" r="0.75" fill="#1d4a80" stroke="none" stroke-width="0.6"/>
<circle cx="106.25" cy="717.28" r="0.75" fill="#1d4a80" stroke="none" stroke-width="0.6"/>
<circle cx="109.08" cy="718.05" r="0.75" fill="#1d4a80" stroke="none" stroke-width="0.6"/>
<circle cx="110.97" cy="715.53" r="0.75" fill="#1d4a80" stroke="none" stroke-width="0.6"/>
<circle cx="112.85" cy="712.97" r="0.75" fill="#1d4a80" stroke="none" stroke-width="0.6"/>
<circle cx="115.68" cy="712.39" r="0.75" fill="#1d4a80" stroke="none" stroke-width="0.6"/>
<circle cx="119.46" cy="713.05" r="0.75" fill="#1d4a80" stroke="none" stroke-width="0.6"/>
<circle cx="120.40" cy="710.43" r="0.75" fill="#1d4a80" stroke="none" stroke-width="0.6"/>
<circle cx="122.29" cy="710.10" r="0.75" fill="#1d4a80" stroke="none" stroke-width="0.6"/>
<circle cx="126.06" cy="703.44" r="0.75" fill="#1d4a80" stroke="none" stroke-width="0.6"/>
<circle cx="128.89" cy="705.07" r="0.75" fill="#1d4a80" stroke="none" stroke-width="0.6"/>
<circle cx="129.83" cy="705.32" r="0.75" fill="#1d4a80" stroke="none" stroke-width="0.6"/>
<circle cx="132.66" cy="706.34" r="0.75" fill="#1d4a80" stroke="none" stroke-width="0.6"/>
<circle cx="135.49" cy="707.12" r="0.75" fill="#1d4a80" stroke="none" stroke-width="0.6"/>
<circle cx="139.27" cy="702.77" r="0.75" fill="#1d4a80" stroke="none" stroke-width="0.6"/>
<circle cx="142.10" cy="704.67" r="0.75" fill="#1d4a80" stroke="none" stroke-width="0.6"/>
<circle cx="145.87" cy="695.83" r="0.75" fill="#1d4a80" stroke="none" stroke-width="0.6"/>
<circle cx="148.70" cy="697.66" r="0.75" fill="#1d4a80" stroke="none" stroke-width="0.6"/>
<circle cx="152.47" cy="683.36" r="0.75" fill="#1d4a80" stroke="none" stroke-width="0.6"/>
<circle cx="154.64" cy="670.85" r="0.75" fill="#1d4a80" stroke="none" stroke-width="0.6"/>
<polyline points="73.23,723.19 74.65,718.55 76.06,719.27 77.95,718.24 79.84,714.04 80.78,714.26 81.25,716.61 82.67,718.62 84.55,718.46 86.44,719.36 87.85,718.41 89.27,722.48 91.16,722.27 93.04,724.47 94.46,722.18 95.87,719.43 99.65,713.32 101.53,707.87 102.48,708.22 106.25,689.61 106.63,693.06 109.08,702.77 112.85,712.98 115.68,715.73 118.51,715.53 119.46,713.48 122.29,712.04 124.17,712.98 126.06,711.32 128.89,709.02 129.83,710.43 132.66,707.18 135.49,705.32 139.27,687.25 140.21,690.77 142.10,705.13 143.04,707.87 145.87,712.63 148.70,710.43 152.47,713.02 155.30,709.52 156.25,709.15 159.08,713.35 161.91,710.43 165.68,708.38 168.51,715.69 170.02,720.64 172.28,718.83 172.75,716.81" fill="none" stroke="#1d4a80" stroke-width="0.75" stroke-linejoin="round"/>
<circle cx="73.23" cy="723.19" r="0.75" fill="#1d4a80" stroke="none" stroke-width="0.6"/>
<circle cx="74.65" cy="718.55" r="0.75" fill="#1d4a80" stroke="none" stroke-width="0.6"/>
<circle cx="76.06" cy="719.27" r="0.75" fill="#1d4a80" stroke="none" stroke-width="0.6"/>
<circle cx="77.95" cy="718.24" r="0.75" fill="#1d4a80" stroke="none" stroke-width="0.6"/>
<circle cx="79.84" cy="714.04" r="0.75" fill="#1d4a80" stroke="none" stroke-width="0.6"/>
<circle cx="80.78" cy="714.26" r="0.75" fill="#1d4a80" stroke="none" stroke-width="0.6"/>
<circle cx="81.25" cy="716.61" r="0.75" fill="#1d4a80" stroke="none" stroke-width="0.6"/>
<circle cx="82.67" cy="718.62" r="0.75" fill="#1d4a80" stroke="none" stroke-width="0.6"/>
<circle cx="84.55" cy="718.46" r="0.75" fill="#1d4a80" stroke="none" stroke-width="0.6"/>
<circle cx="86.44" cy="719.36" r="0.75" fill="#1d4a80" stroke="none" stroke-width="0.6"/>
<circle cx="87.85" cy="718.41" r="0.75" fill="#1d4a80" stroke="none" stroke-width="0.6"/>
<circle cx="89.27" cy="722.48" r="0.75" fill="#1d4a80" stroke="none" stroke-width="0.6"/>
<circle cx="91.16" cy="722.27" r="0.75" fill="#1d4a80" stroke="none" stroke-width="0.6"/>
<circle cx="93.04" cy="724.47" r="0.75" fill="#1d4a80" stroke="none" stroke-width="0.6"/>
<circle cx="94.46" cy="722.18" r="0.75" fill="#1d4a80" stroke="none" stroke-width="0.6"/>
<circle cx="95.87" cy="719.43" r="0.75" fill="#1d4a80" stroke="none" stroke-width="0.6"/>
<circle cx="99.65" cy="713.32" r="0.75" fill="#1d4a80" stroke="none" stroke-width="0.6"/>
<circle cx="101.53" cy="707.87" r="0.75" fill="#1d4a80" stroke="none" stroke-width="0.6"/>
<circle cx="102.48" cy="708.22" r="0.75" fill="#1d4a80" stroke="none" stroke-width="0.6"/>
<circle cx="106.25" cy="689.61" r="0.75" fill="#1d4a80" stroke="none" stroke-width="0.6"/>
<circle cx="106.63" cy="693.06" r="0.75" fill="#1d4a80" stroke="none" stroke-width="0.6"/>
<circle cx="109.08" cy="702.77" r="0.75" fill="#1d4a80" stroke="none" stroke-width="0.6"/>
<circle cx="112.85" cy="712.98" r="0.75" fill="#1d4a80" stroke="none" stroke-width="0.6"/>
<circle cx="115.68" cy="715.73" r="0.75" fill="#1d4a80" stroke="none" stroke-width="0.6"/>
<circle cx="118.51" cy="715.53" r="0.75" fill="#1d4a80" stroke="none" stroke-width="0.6"/>
<circle cx="119.46" cy="713.48" r="0.75" fill="#1d4a80" stroke="none" stroke-width="0.6"/>
<circle cx="122.29" cy="712.04" r="0.75" fill="#1d4a80" stroke="none" stroke-width="0.6"/>
<circle cx="124.17" cy="712.98" r="0.75" fill="#1d4a80" stroke="none" stroke-width="0.6"/>
<circle cx="126.06" cy="711.32" r="0.75" fill="#1d4a80" stroke="none" stroke-width="0.6"/>
<circle cx="128.89" cy="709.02" r="0.75" fill="#1d4a80" stroke="none" stroke-width="0.6"/>
<circle cx="129.83" cy="710.43" r="0.75" fill="#1d4a80" stroke="none" stroke-width="0.6"/>
<circle cx="132.66" cy="707.18" r="0.75" fill="#1d4a80" stroke="none" stroke-width="0.6"/>
<circle cx="135.49" cy="705.32" r="0.75" fill="#1d4a80" stroke="none" stroke-width="0.6"/>
<circle cx="139.27" cy="687.25" r="0.75" fill="#1d4a80" stroke="none" stroke-width="0.6"/>
<circle cx="140.21" cy="690.77" r="0.75" fill="#1d4a80" stroke="none" stroke-width="0.6"/>
<circle cx="142.10" cy="705.13" r="0.75" fill="#1d4a80" stroke="none" stroke-width="0.6"/>
<circle cx="143.04" cy="707.87" r="0.75" fill="#1d4a80" stroke="none" stroke-width="0.6"/>
<circle cx="145.87" cy="712.63" r="0.75" fill="#1d4a80" stroke="none" stroke-width="0.6"/>
<circle cx="148.70" cy="710.43" r="0.75" fill="#1d4a80" stroke="none" stroke-width="0.6"/>
<circle cx="152.47" cy="713.02" r="0.75" fill="#1d4a80" stroke="none" stroke-width="0.6"/>
<circle cx="155.30" cy="709.52" r="0.75" fill="#1d4a80" stroke="none" stroke-width="0.6"/>
<circle cx="156.25" cy="709.15" r="0.75" fill="#1d4a80" stroke="none" stroke-width="0.6"/>
<circle cx="159.08" cy="713.35" r="0.75" fill="#1d4a80" stroke="none" stroke-width="0.6"/>
<circle cx="161.91" cy="710.43" r="0.75" fill="#1d4a80" stroke="none" stroke-width="0.6"/>
<circle cx="165.68" cy="708.38" r="0.75" fill="#1d4a80" stroke="none" stroke-width="0.6"/>
<circle cx="168.51" cy="715.69" r="0.75" fill="#1d4a80" stroke="none" stroke-width="0.6"/>
<circle cx="170.02" cy="720.64" r="0.75" fill="#1d4a80" stroke="none" stroke-width="0.6"/>
<circle cx="172.28" cy="718.83" r="0.75" fill="#1d4a80" stroke="none" stroke-width="0.6"/>
<circle cx="172.75" cy="716.81" r="0.75" fill="#1d4a80" stroke="none" stroke-width="0.6"/>
<polyline points="73.23,724.47 74.65,722.33 76.06,719.56 77.95,720.51 79.84,720.42 81.25,717.68 81.72,716.81 82.67,719.82 84.55,721.53 86.44,721.92 87.85,723.28 89.27,722.71 91.16,724.36 93.04,725.75 94.46,724.40 95.87,724.07 99.65,725.46 102.48,724.47 106.25,718.39 109.08,718.09 112.85,714.03 115.68,710.43 119.46,706.04 122.29,707.87 126.06,700.96 128.89,698.54 129.83,702.77 132.66,702.45 135.49,700.21 139.27,693.36 140.21,692.55 142.10,706.11 143.04,715.53 144.93,727.02 145.87,727.27 148.70,728.30" fill="none" stroke="#1d4a80" stroke-width="0.75" stroke-linejoin="round"/>
<circle cx="73.23" cy="724.47" r="0.75" fill="#1d4a80" stroke="none" stroke-width="0.6"/>
<circle cx="74.65" cy="722.33" r="0.75" fill="#1d4a80" stroke="none" stroke-width="0.6"/>
<circle cx="76.06" cy="719.56" r="0.75" fill="#1d4a80" stroke="none" stroke-width="0.6"/>
<circle cx="77.95" cy="720.51" r="0.75" fill="#1d4a80" stroke="none" stroke-width="0.6"/>
<circle cx="79.84" cy="720.42" r="0.75" fill="#1d4a80" stroke="none" stroke-width="0.6"/>
<circle cx="81.25" cy="717.68" r="0.75" fill="#1d4a80" stroke="none" stroke-width="0.6"/>
<circle cx="81.72" cy="716.81" r="0.75" fill="#1d4a80" stroke="none" stroke-width="0.6"/>
<circle cx="82.67" cy="719.82" r="0.75" fill="#1d4a80" stroke="none" stroke-width="0.6"/>
<circle cx="84.55" cy="721.53" r="0.75" fill="#1d4a80" stroke="none" stroke-width="0.6"/>
<circle cx="86.44" cy="721.92" r="0.75" fill="#1d4a80" stroke="none" stroke-width="0.6"/>
<circle cx="87.85" cy="723.28" r="0.75" fill="#1d4a80" stroke="none" stroke-width="0.6"/>
<circle cx="89.27" cy="722.71" r="0.75" fill="#1d4a80" stroke="none" stroke-width="0.6"/>
<circle cx="91.16" cy="724.36" r="0.75" fill="#1d4a80" stroke="none" stroke-width="0.6"/>
<circle cx="93.04" cy="725.75" r="0.75" fill="#1d4a80" stroke="none" stroke-width="0.6"/>
<circle cx="94.46" cy="724.40" r="0.75" fill="#1d4a80" stroke="none" stroke-width="0.6"/>
<circle cx="95.87" cy="724.07" r="0.75" fill="#1d4a80" stroke="none" stroke-width="0.6"/>
<circle cx="99.65" cy="725.46" r="0.75" fill="#1d4a80" stroke="none" stroke-width="0.6"/>
<circle cx="102.48" cy="724.47" r="0.75" fill="#1d4a80" stroke="none" stroke-width="0.6"/>
<circle cx="106.25" cy="718.39" r="0.75" fill="#1d4a80" stroke="none" stroke-width="0.6"/>
<circle cx="109.08" cy="718.09" r="0.75" fill="#1d4a80" stroke="none" stroke-width="0.6"/>
<circle cx="112.85" cy="714.03" r="0.75" fill="#1d4a80" stroke="none" stroke-width="0.6"/>
<circle cx="115.68" cy="710.43" r="0.75" fill="#1d4a80" stroke="none" stroke-width="0.6"/>
<circle cx="119.46" cy="706.04" r="0.75" fill="#1d4a80" stroke="none" stroke-width="0.6"/>
<circle cx="122.29" cy="707.87" r="0.75" fill="#1d4a80" stroke="none" stroke-width="0.6"/>
<circle cx="126.06" cy="700.96" r="0.75" fill="#1d4a80" stroke="none" stroke-width="0.6"/>
<circle cx="128.89" cy="698.54" r="0.75" fill="#1d4a80" stroke="none" stroke-width="0.6"/>
<circle cx="129.83" cy="702.77" r="0.75" fill="#1d4a80" stroke="none" stroke-width="0.6"/>
<circle cx="132.66" cy="702.45" r="0.75" fill="#1d4a80" stroke="none" stroke-width="0.6"/>
<circle cx="135.49" cy="700.21" r="0.75" fill="#1d4a80" stroke="none" stroke-width="0.6"/>
<circle cx="139.27" cy="693.36" r="0.75" fill="#1d4a80" stroke="none" stroke-width="0.6"/>
<circle cx="140.21" cy="692.55" r="0.75" fill="#1d4a80" stroke="none" stroke-width="0.6"/>
<circle cx="142.10" cy="706.11" r="0.75" fill="#1d4a80" stroke="none" stroke-width="0.6"/>
<circle cx="143.04" cy="715.53" r="0.75" fill="#1d4a80" stroke="none" stroke-width="0.6"/>
<circle cx="144.93" cy="727.02" r="0.75" fill="#1d4a80" stroke="none" stroke-width="0.6"/>
<circle cx="145.87" cy="727.27" r="0.75" fill="#1d4a80" stroke="none" stroke-width="0.6"/>
<circle cx="148.70" cy="728.30" r="0.75" fill="#1d4a80" stroke="none" stroke-width="0.6"/>
<polyline points="73.23,723.70 74.65,720.31 76.06,721.91 77.95,717.71 79.84,713.45 80.78,715.53 81.25,717.25 82.67,718.34 84.55,717.52 86.44,720.64 87.85,720.93 89.27,723.27 91.16,724.12 93.04,724.47 94.46,725.76 95.87,724.38 99.65,724.77 101.53,723.19 102.48,723.22 106.25,720.64 109.08,723.60 110.97,725.75 112.85,725.91 115.68,726.32 119.46,727.20 120.40,727.02 122.29,727.46 126.06,727.42 128.89,727.32 129.83,727.28 132.66,727.46 135.49,726.90 139.27,726.77 142.10,726.45 145.87,726.79 148.70,727.26 152.47,727.45 155.30,727.50 158.13,727.53 159.08,727.23 161.91,727.87 165.68,727.54 167.57,727.79" fill="none" stroke="#1d4a80" stroke-width="0.75" stroke-linejoin="round"/>
<circle cx="73.23" cy="723.70" r="0.75" fill="#1d4a80" stroke="none" stroke-width="0.6"/>
<circle cx="74.65" cy="720.31" r="0.75" fill="#1d4a80" stroke="none" stroke-width="0.6"/>
<circle cx="76.06" cy="721.91" r="0.75" fill="#1d4a80" stroke="none" stroke-width="0.6"/>
<circle cx="77.95" cy="717.71" r="0.75" fill="#1d4a80" stroke="none" stroke-width="0.6"/>
<circle cx="79.84" cy="713.45" r="0.75" fill="#1d4a80" stroke="none" stroke-width="0.6"/>
<circle cx="80.78" cy="715.53" r="0.75" fill="#1d4a80" stroke="none" stroke-width="0.6"/>
<circle cx="81.25" cy="717.25" r="0.75" fill="#1d4a80" stroke="none" stroke-width="0.6"/>
<circle cx="82.67" cy="718.34" r="0.75" fill="#1d4a80" stroke="none" stroke-width="0.6"/>
<circle cx="84.55" cy="717.52" r="0.75" fill="#1d4a80" stroke="none" stroke-width="0.6"/>
<circle cx="86.44" cy="720.64" r="0.75" fill="#1d4a80" stroke="none" stroke-width="0.6"/>
<circle cx="87.85" cy="720.93" r="0.75" fill="#1d4a80" stroke="none" stroke-width="0.6"/>
<circle cx="89.27" cy="723.27" r="0.75" fill="#1d4a80" stroke="none" stroke-width="0.6"/>
<circle cx="91.16" cy="724.12" r="0.75" fill="#1d4a80" stroke="none" stroke-width="0.6"/>
<circle cx="93.04" cy="724.47" r="0.75" fill="#1d4a80" stroke="none" stroke-width="0.6"/>
<circle cx="94.46" cy="725.76" r="0.75" fill="#1d4a80" stroke="none" stroke-width="0.6"/>
<circle cx="95.87" cy="724.38" r="0.75" fill="#1d4a80" stroke="none" stroke-width="0.6"/>
<circle cx="99.65" cy="724.77" r="0.75" fill="#1d4a80" stroke="none" stroke-width="0.6"/>
<circle cx="101.53" cy="723.19" r="0.75" fill="#1d4a80" stroke="none" stroke-width="0.6"/>
<circle cx="102.48" cy="723.22" r="0.75" fill="#1d4a80" stroke="none" stroke-width="0.6"/>
<circle cx="106.25" cy="720.64" r="0.75" fill="#1d4a80" stroke="none" stroke-width="0.6"/>
<circle cx="109.08" cy="723.60" r="0.75" fill="#1d4a80" stroke="none" stroke-width="0.6"/>
<circle cx="110.97" cy="725.75" r="0.75" fill="#1d4a80" stroke="none" stroke-width="0.6"/>
<circle cx="112.85" cy="725.91" r="0.75" fill="#1d4a80" stroke="none" stroke-width="0.6"/>
<circle cx="115.68" cy="726.32" r="0.75" fill="#1d4a80" stroke="none" stroke-width="0.6"/>
<circle cx="119.46" cy="727.20" r="0.75" fill="#1d4a80" stroke="none" stroke-width="0.6"/>
<circle cx="120.40" cy="727.02" r="0.75" fill="#1d4a80" stroke="none" stroke-width="0.6"/>
<circle cx="122.29" cy="727.46" r="0.75" fill="#1d4a80" stroke="none" stroke-width="0.6"/>
<circle cx="126.06" cy="727.42" r="0.75" fill="#1d4a80" stroke="none" stroke-width="0.6"/>
<circle cx="128.89" cy="727.32" r="0.75" fill="#1d4a80" stroke="none" stroke-width="0.6"/>
<circle cx="129.83" cy="727.28" r="0.75" fill="#1d4a80" stroke="none" stroke-width="0.6"/>
<circle cx="132.66" cy="727.46" r="0.75" fill="#1d4a80" stroke="none" stroke-width="0.6"/>
<circle cx="135.49" cy="726.90" r="0.75" fill="#1d4a80" stroke="none" stroke-width="0.6"/>
<circle cx="139.27" cy="726.77" r="0.75" fill="#1d4a80" stroke="none" stroke-width="0.6"/>
<circle cx="142.10" cy="726.45" r="0.75" fill="#1d4a80" stroke="none" stroke-width="0.6"/>
<circle cx="145.87" cy="726.79" r="0.75" fill="#1d4a80" stroke="none" stroke-width="0.6"/>
<circle cx="148.70" cy="727.26" r="0.75" fill="#1d4a80" stroke="none" stroke-width="0.6"/>
<circle cx="152.47" cy="727.45" r="0.75" fill="#1d4a80" stroke="none" stroke-width="0.6"/>
<circle cx="155.30" cy="727.50" r="0.75" fill="#1d4a80" stroke="none" stroke-width="0.6"/>
<circle cx="158.13" cy="727.53" r="0.75" fill="#1d4a80" stroke="none" stroke-width="0.6"/>
<circle cx="159.08" cy="727.23" r="0.75" fill="#1d4a80" stroke="none" stroke-width="0.6"/>
<circle cx="161.91" cy="727.87" r="0.75" fill="#1d4a80" stroke="none" stroke-width="0.6"/>
<circle cx="165.68" cy="727.54" r="0.75" fill="#1d4a80" stroke="none" stroke-width="0.6"/>
<circle cx="167.57" cy="727.79" r="0.75" fill="#1d4a80" stroke="none" stroke-width="0.6"/>
<polyline points="73.23,721.92 74.65,721.94 76.06,717.00 77.95,719.25 79.84,718.65 81.25,715.04 81.72,716.04 82.67,715.74 84.55,716.86 86.44,720.64 87.85,722.85 89.27,720.27 91.16,722.50 93.04,723.19 94.46,724.52 95.87,723.50 99.65,723.63 102.48,721.92 106.25,719.39 109.08,715.53 112.85,716.22 115.68,718.09 119.46,717.17 122.29,716.81 126.06,716.42 128.89,711.09 129.83,712.98 132.66,706.55 135.49,703.94 137.38,702.77 139.27,714.28 140.21,718.09 142.10,720.94 143.98,725.75 145.87,725.43 148.70,727.53 152.47,727.33 155.30,727.35 159.08,727.45 161.91,727.62 165.68,727.89 167.57,727.79" fill="none" stroke="#1d4a80" stroke-width="0.75" stroke-linejoin="round"/>
<circle cx="73.23" cy="721.92" r="0.75" fill="#1d4a80" stroke="none" stroke-width="0.6"/>
<circle cx="74.65" cy="721.94" r="0.75" fill="#1d4a80" stroke="none" stroke-width="0.6"/>
<circle cx="76.06" cy="717.00" r="0.75" fill="#1d4a80" stroke="none" stroke-width="0.6"/>
<circle cx="77.95" cy="719.25" r="0.75" fill="#1d4a80" stroke="none" stroke-width="0.6"/>
<circle cx="79.84" cy="718.65" r="0.75" fill="#1d4a80" stroke="none" stroke-width="0.6"/>
<circle cx="81.25" cy="715.04" r="0.75" fill="#1d4a80" stroke="none" stroke-width="0.6"/>
<circle cx="81.72" cy="716.04" r="0.75" fill="#1d4a80" stroke="none" stroke-width="0.6"/>
<circle cx="82.67" cy="715.74" r="0.75" fill="#1d4a80" stroke="none" stroke-width="0.6"/>
<circle cx="84.55" cy="716.86" r="0.75" fill="#1d4a80" stroke="none" stroke-width="0.6"/>
<circle cx="86.44" cy="720.64" r="0.75" fill="#1d4a80" stroke="none" stroke-width="0.6"/>
<circle cx="87.85" cy="722.85" r="0.75" fill="#1d4a80" stroke="none" stroke-width="0.6"/>
<circle cx="89.27" cy="720.27" r="0.75" fill="#1d4a80" stroke="none" stroke-width="0.6"/>
<circle cx="91.16" cy="722.50" r="0.75" fill="#1d4a80" stroke="none" stroke-width="0.6"/>
<circle cx="93.04" cy="723.19" r="0.75" fill="#1d4a80" stroke="none" stroke-width="0.6"/>
<circle cx="94.46" cy="724.52" r="0.75" fill="#1d4a80" stroke="none" stroke-width="0.6"/>
<circle cx="95.87" cy="723.50" r="0.75" fill="#1d4a80" stroke="none" stroke-width="0.6"/>
<circle cx="99.65" cy="723.63" r="0.75" fill="#1d4a80" stroke="none" stroke-width="0.6"/>
<circle cx="102.48" cy="721.92" r="0.75" fill="#1d4a80" stroke="none" stroke-width="0.6"/>
<circle cx="106.25" cy="719.39" r="0.75" fill="#1d4a80" stroke="none" stroke-width="0.6"/>
<circle cx="109.08" cy="715.53" r="0.75" fill="#1d4a80" stroke="none" stroke-width="0.6"/>
<circle cx="112.85" cy="716.22" r="0.75" fill="#1d4a80" stroke="none" stroke-width="0.6"/>
<circle cx="115.68" cy="718.09" r="0.75" fill="#1d4a80" stroke="none" stroke-width="0.6"/>
<circle cx="119.46" cy="717.17" r="0.75" fill="#1d4a80" stroke="none" stroke-width="0.6"/>
<circle cx="122.29" cy="716.81" r="0.75" fill="#1d4a80" stroke="none" stroke-width="0.6"/>
<circle cx="126.06" cy="716.42" r="0.75" fill="#1d4a80" stroke="none" stroke-width="0.6"/>
<circle cx="128.89" cy="711.09" r="0.75" fill="#1d4a80" stroke="none" stroke-width="0.6"/>
<circle cx="129.83" cy="712.98" r="0.75" fill="#1d4a80" stroke="none" stroke-width="0.6"/>
<circle cx="132.66" cy="706.55" r="0.75" fill="#1d4a80" stroke="none" stroke-width="0.6"/>
<circle cx="135.49" cy="703.94" r="0.75" fill="#1d4a80" stroke="none" stroke-width="0.6"/>
<circle cx="137.38" cy="702.77" r="0.75" fill="#1d4a80" stroke="none" stroke-width="0.6"/>
<circle cx="139.27" cy="714.28" r="0.75" fill="#1d4a80" stroke="none" stroke-width="0.6"/>
<circle cx="140.21" cy="718.09" r="0.75" fill="#1d4a80" stroke="none" stroke-width="0.6"/>
<circle cx="142.10" cy="720.94" r="0.75" fill="#1d4a80" stroke="none" stroke-width="0.6"/>
<circle cx="143.98" cy="725.75" r="0.75" fill="#1d4a80" stroke="none" stroke-width="0.6"/>
<circle cx="145.87" cy="725.43" r="0.75" fill="#1d4a80" stroke="none" stroke-width="0.6"/>
<circle cx="148.70" cy="727.53" r="0.75" fill="#1d4a80" stroke="none" stroke-width="0.6"/>
<circle cx="152.47" cy="727.33" r="0.75" fill="#1d4a80" stroke="none" stroke-width="0.6"/>
<circle cx="155.30" cy="727.35" r="0.75" fill="#1d4a80" stroke="none" stroke-width="0.6"/>
<circle cx="159.08" cy="727.45" r="0.75" fill="#1d4a80" stroke="none" stroke-width="0.6"/>
<circle cx="161.91" cy="727.62" r="0.75" fill="#1d4a80" stroke="none" stroke-width="0.6"/>
<circle cx="165.68" cy="727.89" r="0.75" fill="#1d4a80" stroke="none" stroke-width="0.6"/>
<circle cx="167.57" cy="727.79" r="0.75" fill="#1d4a80" stroke="none" stroke-width="0.6"/>
<line x1="203.75" y1="649.40" x2="203.75" y2="728.90" stroke="#222222" stroke-width="1.4"/>
<line x1="200.75" y1="728.30" x2="203.75" y2="728.30" stroke="#222222" stroke-width="1.0"/>
<line x1="200.75" y1="702.77" x2="203.75" y2="702.77" stroke="#222222" stroke-width="1.0"/>
<line x1="200.75" y1="677.23" x2="203.75" y2="677.23" stroke="#222222" stroke-width="1.0"/>
<line x1="200.75" y1="651.70" x2="203.75" y2="651.70" stroke="#222222" stroke-width="1.0"/>
<line x1="203.75" y1="728.30" x2="320.25" y2="728.30" stroke="#222222" stroke-width="1.4"/>
<line x1="203.75" y1="728.30" x2="203.75" y2="731.30" stroke="#222222" stroke-width="1.0"/>
<text x="203.75" y="741.50" font-size="9.2" text-anchor="middle" fill="#262626" font-weight="normal" stroke="#262626" stroke-width="0.18" textLength="5.0" lengthAdjust="spacingAndGlyphs">0</text>
<line x1="222.62" y1="728.30" x2="222.62" y2="731.30" stroke="#222222" stroke-width="1.0"/>
<text x="222.62" y="741.50" font-size="9.2" text-anchor="middle" fill="#262626" font-weight="normal" stroke="#262626" stroke-width="0.18" textLength="10.0" lengthAdjust="spacingAndGlyphs">20</text>
<line x1="241.48" y1="728.30" x2="241.48" y2="731.30" stroke="#222222" stroke-width="1.0"/>
<text x="241.48" y="741.50" font-size="9.2" text-anchor="middle" fill="#262626" font-weight="normal" stroke="#262626" stroke-width="0.18" textLength="10.0" lengthAdjust="spacingAndGlyphs">40</text>
<line x1="260.35" y1="728.30" x2="260.35" y2="731.30" stroke="#222222" stroke-width="1.0"/>
<text x="260.35" y="741.50" font-size="9.2" text-anchor="middle" fill="#262626" font-weight="normal" stroke="#262626" stroke-width="0.18" textLength="10.0" lengthAdjust="spacingAndGlyphs">60</text>
<line x1="279.22" y1="728.30" x2="279.22" y2="731.30" stroke="#222222" stroke-width="1.0"/>
<text x="279.22" y="741.50" font-size="9.2" text-anchor="middle" fill="#262626" font-weight="normal" stroke="#262626" stroke-width="0.18" textLength="10.0" lengthAdjust="spacingAndGlyphs">80</text>
<line x1="298.08" y1="728.30" x2="298.08" y2="731.30" stroke="#222222" stroke-width="1.0"/>
<text x="298.08" y="741.50" font-size="9.2" text-anchor="middle" fill="#262626" font-weight="normal" stroke="#262626" stroke-width="0.18" textLength="15.6" lengthAdjust="spacingAndGlyphs">100</text>
<line x1="316.95" y1="728.30" x2="316.95" y2="731.30" stroke="#222222" stroke-width="1.0"/>
<text x="316.95" y="741.50" font-size="9.2" text-anchor="middle" fill="#262626" font-weight="normal" stroke="#262626" stroke-width="0.18" textLength="15.6" lengthAdjust="spacingAndGlyphs">120</text>
<polyline points="213.18,720.64 214.60,721.99 216.01,723.19 217.90,723.23 219.79,718.09 221.20,716.82 222.62,716.95 223.56,715.28 224.50,720.50 226.39,719.36 227.81,718.80 229.22,720.64 231.11,720.42 232.99,721.92 234.41,722.73 235.82,721.92 239.60,720.64 242.43,715.53 244.31,698.94 246.20,688.98 248.09,676.98" fill="none" stroke="#1d4a80" stroke-width="0.75" stroke-linejoin="round"/>
<circle cx="213.18" cy="720.64" r="0.75" fill="#1d4a80" stroke="none" stroke-width="0.6"/>
<circle cx="214.60" cy="721.99" r="0.75" fill="#1d4a80" stroke="none" stroke-width="0.6"/>
<circle cx="216.01" cy="723.19" r="0.75" fill="#1d4a80" stroke="none" stroke-width="0.6"/>
<circle cx="217.90" cy="723.23" r="0.75" fill="#1d4a80" stroke="none" stroke-width="0.6"/>
<circle cx="219.79" cy="718.09" r="0.75" fill="#1d4a80" stroke="none" stroke-width="0.6"/>
<circle cx="221.20" cy="716.82" r="0.75" fill="#1d4a80" stroke="none" stroke-width="0.6"/>
<circle cx="222.62" cy="716.95" r="0.75" fill="#1d4a80" stroke="none" stroke-width="0.6"/>
<circle cx="223.56" cy="715.28" r="0.75" fill="#1d4a80" stroke="none" stroke-width="0.6"/>
<circle cx="224.50" cy="720.50" r="0.75" fill="#1d4a80" stroke="none" stroke-width="0.6"/>
<circle cx="226.39" cy="719.36" r="0.75" fill="#1d4a80" stroke="none" stroke-width="0.6"/>
<circle cx="227.81" cy="718.80" r="0.75" fill="#1d4a80" stroke="none" stroke-width="0.6"/>
<circle cx="229.22" cy="720.64" r="0.75" fill="#1d4a80" stroke="none" stroke-width="0.6"/>
<circle cx="231.11" cy="720.42" r="0.75" fill="#1d4a80" stroke="none" stroke-width="0.6"/>
<circle cx="232.99" cy="721.92" r="0.75" fill="#1d4a80" stroke="none" stroke-width="0.6"/>
<circle cx="234.41" cy="722.73" r="0.75" fill="#1d4a80" stroke="none" stroke-width="0.6"/>
<circle cx="235.82" cy="721.92" r="0.75" fill="#1d4a80" stroke="none" stroke-width="0.6"/>
<circle cx="239.60" cy="720.64" r="0.75" fill="#1d4a80" stroke="none" stroke-width="0.6"/>
<circle cx="242.43" cy="715.53" r="0.75" fill="#1d4a80" stroke="none" stroke-width="0.6"/>
<circle cx="244.31" cy="698.94" r="0.75" fill="#1d4a80" stroke="none" stroke-width="0.6"/>
<circle cx="246.20" cy="688.98" r="0.75" fill="#1d4a80" stroke="none" stroke-width="0.6"/>
<circle cx="248.09" cy="676.98" r="0.75" fill="#1d4a80" stroke="none" stroke-width="0.6"/>
<polyline points="213.18,723.19 214.60,721.91 216.01,719.36 217.90,716.85 219.79,720.64 221.20,719.45 222.62,713.78 223.56,716.81 224.50,719.42 226.39,718.09 227.81,720.53 229.22,721.92 231.11,722.58 232.99,720.64 234.41,721.84 235.82,723.19 239.60,721.92 242.43,718.09 246.20,710.43 249.03,702.77 250.92,700.21 252.80,686.54 253.28,688.72 254.69,667.02" fill="none" stroke="#1d4a80" stroke-width="0.75" stroke-linejoin="round"/>
<circle cx="213.18" cy="723.19" r="0.75" fill="#1d4a80" stroke="none" stroke-width="0.6"/>
<circle cx="214.60" cy="721.91" r="0.75" fill="#1d4a80" stroke="none" stroke-width="0.6"/>
<circle cx="216.01" cy="719.36" r="0.75" fill="#1d4a80" stroke="none" stroke-width="0.6"/>
<circle cx="217.90" cy="716.85" r="0.75" fill="#1d4a80" stroke="none" stroke-width="0.6"/>
<circle cx="219.79" cy="720.64" r="0.75" fill="#1d4a80" stroke="none" stroke-width="0.6"/>
<circle cx="221.20" cy="719.45" r="0.75" fill="#1d4a80" stroke="none" stroke-width="0.6"/>
<circle cx="222.62" cy="713.78" r="0.75" fill="#1d4a80" stroke="none" stroke-width="0.6"/>
<circle cx="223.56" cy="716.81" r="0.75" fill="#1d4a80" stroke="none" stroke-width="0.6"/>
<circle cx="224.50" cy="719.42" r="0.75" fill="#1d4a80" stroke="none" stroke-width="0.6"/>
<circle cx="226.39" cy="718.09" r="0.75" fill="#1d4a80" stroke="none" stroke-width="0.6"/>
<circle cx="227.81" cy="720.53" r="0.75" fill="#1d4a80" stroke="none" stroke-width="0.6"/>
<circle cx="229.22" cy="721.92" r="0.75" fill="#1d4a80" stroke="none" stroke-width="0.6"/>
<circle cx="231.11" cy="722.58" r="0.75" fill="#1d4a80" stroke="none" stroke-width="0.6"/>
<circle cx="232.99" cy="720.64" r="0.75" fill="#1d4a80" stroke="none" stroke-width="0.6"/>
<circle cx="234.41" cy="721.84" r="0.75" fill="#1d4a80" stroke="none" stroke-width="0.6"/>
<circle cx="235.82" cy="723.19" r="0.75" fill="#1d4a80" stroke="none" stroke-width="0.6"/>
<circle cx="239.60" cy="721.92" r="0.75" fill="#1d4a80" stroke="none" stroke-width="0.6"/>
<circle cx="242.43" cy="718.09" r="0.75" fill="#1d4a80" stroke="none" stroke-width="0.6"/>
<circle cx="246.20" cy="710.43" r="0.75" fill="#1d4a80" stroke="none" stroke-width="0.6"/>
<circle cx="249.03" cy="702.77" r="0.75" fill="#1d4a80" stroke="none" stroke-width="0.6"/>
<circle cx="250.92" cy="700.21" r="0.75" fill="#1d4a80" stroke="none" stroke-width="0.6"/>
<circle cx="252.80" cy="686.54" r="0.75" fill="#1d4a80" stroke="none" stroke-width="0.6"/>
<circle cx="253.28" cy="688.72" r="0.75" fill="#1d4a80" stroke="none" stroke-width="0.6"/>
<circle cx="254.69" cy="667.02" r="0.75" fill="#1d4a80" stroke="none" stroke-width="0.6"/>
<polyline points="213.18,721.92 214.60,721.35 216.01,720.64 217.90,716.72 219.79,718.58 221.20,714.96 221.67,716.04 222.62,712.70 224.50,715.13 226.39,719.36 227.81,721.82 229.22,720.64 231.11,723.51 232.99,721.92 234.41,724.37 235.82,723.19 239.60,723.19 242.43,720.64 246.20,715.53 249.03,712.98 252.80,705.32 255.63,695.36 256.95,675.45" fill="none" stroke="#1d4a80" stroke-width="0.75" stroke-linejoin="round"/>
<circle cx="213.18" cy="721.92" r="0.75" fill="#1d4a80" stroke="none" stroke-width="0.6"/>
<circle cx="214.60" cy="721.35" r="0.75" fill="#1d4a80" stroke="none" stroke-width="0.6"/>
<circle cx="216.01" cy="720.64" r="0.75" fill="#1d4a80" stroke="none" stroke-width="0.6"/>
<circle cx="217.90" cy="716.72" r="0.75" fill="#1d4a80" stroke="none" stroke-width="0.6"/>
<circle cx="219.79" cy="718.58" r="0.75" fill="#1d4a80" stroke="none" stroke-width="0.6"/>
<circle cx="221.20" cy="714.96" r="0.75" fill="#1d4a80" stroke="none" stroke-width="0.6"/>
<circle cx="221.67" cy="716.04" r="0.75" fill="#1d4a80" stroke="none" stroke-width="0.6"/>
<circle cx="222.62" cy="712.70" r="0.75" fill="#1d4a80" stroke="none" stroke-width="0.6"/>
<circle cx="224.50" cy="715.13" r="0.75" fill="#1d4a80" stroke="none" stroke-width="0.6"/>
<circle cx="226.39" cy="719.36" r="0.75" fill="#1d4a80" stroke="none" stroke-width="0.6"/>
<circle cx="227.81" cy="721.82" r="0.75" fill="#1d4a80" stroke="none" stroke-width="0.6"/>
<circle cx="229.22" cy="720.64" r="0.75" fill="#1d4a80" stroke="none" stroke-width="0.6"/>
<circle cx="231.11" cy="723.51" r="0.75" fill="#1d4a80" stroke="none" stroke-width="0.6"/>
<circle cx="232.99" cy="721.92" r="0.75" fill="#1d4a80" stroke="none" stroke-width="0.6"/>
<circle cx="234.41" cy="724.37" r="0.75" fill="#1d4a80" stroke="none" stroke-width="0.6"/>
<circle cx="235.82" cy="723.19" r="0.75" fill="#1d4a80" stroke="none" stroke-width="0.6"/>
<circle cx="239.60" cy="723.19" r="0.75" fill="#1d4a80" stroke="none" stroke-width="0.6"/>
<circle cx="242.43" cy="720.64" r="0.75" fill="#1d4a80" stroke="none" stroke-width="0.6"/>
<circle cx="246.20" cy="715.53" r="0.75" fill="#1d4a80" stroke="none" stroke-width="0.6"/>
<circle cx="249.03" cy="712.98" r="0.75" fill="#1d4a80" stroke="none" stroke-width="0.6"/>
<circle cx="252.80" cy="705.32" r="0.75" fill="#1d4a80" stroke="none" stroke-width="0.6"/>
<circle cx="255.63" cy="695.36" r="0.75" fill="#1d4a80" stroke="none" stroke-width="0.6"/>
<circle cx="256.95" cy="675.45" r="0.75" fill="#1d4a80" stroke="none" stroke-width="0.6"/>
<polyline points="213.18,723.19 214.60,723.38 216.01,721.92 217.90,717.19 219.79,719.36 221.20,715.42 222.62,719.44 223.56,715.53 224.50,720.00 226.39,719.36 227.81,720.69 229.22,720.64 231.11,721.18 232.99,721.92 234.41,725.29 235.82,724.47 239.60,723.19 242.43,720.64 246.20,718.09 249.03,718.09 252.80,720.64 255.63,715.53 259.41,716.81 262.24,710.43 266.01,702.77 268.84,692.24 269.78,690.00 271.67,684.89 272.61,679.09 274.41,677.23 275.44,667.93 276.67,674.94" fill="none" stroke="#1d4a80" stroke-width="0.75" stroke-linejoin="round"/>
<circle cx="213.18" cy="723.19" r="0.75" fill="#1d4a80" stroke="none" stroke-width="0.6"/>
<circle cx="214.60" cy="723.38" r="0.75" fill="#1d4a80" stroke="none" stroke-width="0.6"/>
<circle cx="216.01" cy="721.92" r="0.75" fill="#1d4a80" stroke="none" stroke-width="0.6"/>
<circle cx="217.90" cy="717.19" r="0.75" fill="#1d4a80" stroke="none" stroke-width="0.6"/>
<circle cx="219.79" cy="719.36" r="0.75" fill="#1d4a80" stroke="none" stroke-width="0.6"/>
<circle cx="221.20" cy="715.42" r="0.75" fill="#1d4a80" stroke="none" stroke-width="0.6"/>
<circle cx="222.62" cy="719.44" r="0.75" fill="#1d4a80" stroke="none" stroke-width="0.6"/>
<circle cx="223.56" cy="715.53" r="0.75" fill="#1d4a80" stroke="none" stroke-width="0.6"/>
<circle cx="224.50" cy="720.00" r="0.75" fill="#1d4a80" stroke="none" stroke-width="0.6"/>
<circle cx="226.39" cy="719.36" r="0.75" fill="#1d4a80" stroke="none" stroke-width="0.6"/>
<circle cx="227.81" cy="720.69" r="0.75" fill="#1d4a80" stroke="none" stroke-width="0.6"/>
<circle cx="229.22" cy="720.64" r="0.75" fill="#1d4a80" stroke="none" stroke-width="0.6"/>
<circle cx="231.11" cy="721.18" r="0.75" fill="#1d4a80" stroke="none" stroke-width="0.6"/>
<circle cx="232.99" cy="721.92" r="0.75" fill="#1d4a80" stroke="none" stroke-width="0.6"/>
<circle cx="234.41" cy="725.29" r="0.75" fill="#1d4a80" stroke="none" stroke-width="0.6"/>
<circle cx="235.82" cy="724.47" r="0.75" fill="#1d4a80" stroke="none" stroke-width="0.6"/>
<circle cx="239.60" cy="723.19" r="0.75" fill="#1d4a80" stroke="none" stroke-width="0.6"/>
<circle cx="242.43" cy="720.64" r="0.75" fill="#1d4a80" stroke="none" stroke-width="0.6"/>
<circle cx="246.20" cy="718.09" r="0.75" fill="#1d4a80" stroke="none" stroke-width="0.6"/>
<circle cx="249.03" cy="718.09" r="0.75" fill="#1d4a80" stroke="none" stroke-width="0.6"/>
<circle cx="252.80" cy="720.64" r="0.75" fill="#1d4a80" stroke="none" stroke-width="0.6"/>
<circle cx="255.63" cy="715.53" r="0.75" fill="#1d4a80" stroke="none" stroke-width="0.6"/>
<circle cx="259.41" cy="716.81" r="0.75" fill="#1d4a80" stroke="none" stroke-width="0.6"/>
<circle cx="262.24" cy="710.43" r="0.75" fill="#1d4a80" stroke="none" stroke-width="0.6"/>
<circle cx="266.01" cy="702.77" r="0.75" fill="#1d4a80" stroke="none" stroke-width="0.6"/>
<circle cx="268.84" cy="692.24" r="0.75" fill="#1d4a80" stroke="none" stroke-width="0.6"/>
<circle cx="269.78" cy="690.00" r="0.75" fill="#1d4a80" stroke="none" stroke-width="0.6"/>
<circle cx="271.67" cy="684.89" r="0.75" fill="#1d4a80" stroke="none" stroke-width="0.6"/>
<circle cx="272.61" cy="679.09" r="0.75" fill="#1d4a80" stroke="none" stroke-width="0.6"/>
<circle cx="274.41" cy="677.23" r="0.75" fill="#1d4a80" stroke="none" stroke-width="0.6"/>
<circle cx="275.44" cy="667.93" r="0.75" fill="#1d4a80" stroke="none" stroke-width="0.6"/>
<circle cx="276.67" cy="674.94" r="0.75" fill="#1d4a80" stroke="none" stroke-width="0.6"/>
<polyline points="213.18,720.64 214.60,720.19 216.01,721.92 217.90,719.59 219.79,718.09 221.20,716.16 222.62,716.81 224.50,719.29 226.39,719.36 227.81,722.02 229.22,721.92 231.11,722.21 232.99,723.19 234.41,723.09 235.82,723.19 239.60,721.92 242.43,718.09 246.20,720.64 249.03,715.53 252.80,718.09 255.63,720.64 259.41,712.98 262.24,705.32 266.01,700.21 268.84,697.66 271.67,705.32 272.61,700.27 274.97,699.19 275.44,703.98 277.33,704.94 279.22,710.92 280.16,710.68 281.29,699.19 282.05,694.88 283.74,690.00 285.82,695.49 286.48,694.60 287.71,676.72" fill="none" stroke="#1d4a80" stroke-width="0.75" stroke-linejoin="round"/>
<circle cx="213.18" cy="720.64" r="0.75" fill="#1d4a80" stroke="none" stroke-width="0.6"/>
<circle cx="214.60" cy="720.19" r="0.75" fill="#1d4a80" stroke="none" stroke-width="0.6"/>
<circle cx="216.01" cy="721.92" r="0.75" fill="#1d4a80" stroke="none" stroke-width="0.6"/>
<circle cx="217.90" cy="719.59" r="0.75" fill="#1d4a80" stroke="none" stroke-width="0.6"/>
<circle cx="219.79" cy="718.09" r="0.75" fill="#1d4a80" stroke="none" stroke-width="0.6"/>
<circle cx="221.20" cy="716.16" r="0.75" fill="#1d4a80" stroke="none" stroke-width="0.6"/>
<circle cx="222.62" cy="716.81" r="0.75" fill="#1d4a80" stroke="none" stroke-width="0.6"/>
<circle cx="224.50" cy="719.29" r="0.75" fill="#1d4a80" stroke="none" stroke-width="0.6"/>
<circle cx="226.39" cy="719.36" r="0.75" fill="#1d4a80" stroke="none" stroke-width="0.6"/>
<circle cx="227.81" cy="722.02" r="0.75" fill="#1d4a80" stroke="none" stroke-width="0.6"/>
<circle cx="229.22" cy="721.92" r="0.75" fill="#1d4a80" stroke="none" stroke-width="0.6"/>
<circle cx="231.11" cy="722.21" r="0.75" fill="#1d4a80" stroke="none" stroke-width="0.6"/>
<circle cx="232.99" cy="723.19" r="0.75" fill="#1d4a80" stroke="none" stroke-width="0.6"/>
<circle cx="234.41" cy="723.09" r="0.75" fill="#1d4a80" stroke="none" stroke-width="0.6"/>
<circle cx="235.82" cy="723.19" r="0.75" fill="#1d4a80" stroke="none" stroke-width="0.6"/>
<circle cx="239.60" cy="721.92" r="0.75" fill="#1d4a80" stroke="none" stroke-width="0.6"/>
<circle cx="242.43" cy="718.09" r="0.75" fill="#1d4a80" stroke="none" stroke-width="0.6"/>
<circle cx="246.20" cy="720.64" r="0.75" fill="#1d4a80" stroke="none" stroke-width="0.6"/>
<circle cx="249.03" cy="715.53" r="0.75" fill="#1d4a80" stroke="none" stroke-width="0.6"/>
<circle cx="252.80" cy="718.09" r="0.75" fill="#1d4a80" stroke="none" stroke-width="0.6"/>
<circle cx="255.63" cy="720.64" r="0.75" fill="#1d4a80" stroke="none" stroke-width="0.6"/>
<circle cx="259.41" cy="712.98" r="0.75" fill="#1d4a80" stroke="none" stroke-width="0.6"/>
<circle cx="262.24" cy="705.32" r="0.75" fill="#1d4a80" stroke="none" stroke-width="0.6"/>
<circle cx="266.01" cy="700.21" r="0.75" fill="#1d4a80" stroke="none" stroke-width="0.6"/>
<circle cx="268.84" cy="697.66" r="0.75" fill="#1d4a80" stroke="none" stroke-width="0.6"/>
<circle cx="271.67" cy="705.32" r="0.75" fill="#1d4a80" stroke="none" stroke-width="0.6"/>
<circle cx="272.61" cy="700.27" r="0.75" fill="#1d4a80" stroke="none" stroke-width="0.6"/>
<circle cx="274.97" cy="699.19" r="0.75" fill="#1d4a80" stroke="none" stroke-width="0.6"/>
<circle cx="275.44" cy="703.98" r="0.75" fill="#1d4a80" stroke="none" stroke-width="0.6"/>
<circle cx="277.33" cy="704.94" r="0.75" fill="#1d4a80" stroke="none" stroke-width="0.6"/>
<circle cx="279.22" cy="710.92" r="0.75" fill="#1d4a80" stroke="none" stroke-width="0.6"/>
<circle cx="280.16" cy="710.68" r="0.75" fill="#1d4a80" stroke="none" stroke-width="0.6"/>
<circle cx="281.29" cy="699.19" r="0.75" fill="#1d4a80" stroke="none" stroke-width="0.6"/>
<circle cx="282.05" cy="694.88" r="0.75" fill="#1d4a80" stroke="none" stroke-width="0.6"/>
<circle cx="283.74" cy="690.00" r="0.75" fill="#1d4a80" stroke="none" stroke-width="0.6"/>
<circle cx="285.82" cy="695.49" r="0.75" fill="#1d4a80" stroke="none" stroke-width="0.6"/>
<circle cx="286.48" cy="694.60" r="0.75" fill="#1d4a80" stroke="none" stroke-width="0.6"/>
<circle cx="287.71" cy="676.72" r="0.75" fill="#1d4a80" stroke="none" stroke-width="0.6"/>
<polyline points="213.18,721.92 214.60,720.86 216.01,720.64 217.90,719.69 219.79,719.36 221.20,719.37 222.62,716.60 223.56,715.53 224.50,712.04 226.39,718.09 227.81,722.73 229.22,720.64 231.11,718.42 232.99,721.92 234.41,722.35 235.82,723.19 239.60,724.47 242.43,719.36 246.20,720.64 249.03,723.19 252.80,724.47 255.63,725.75 259.41,728.30 262.24,727.02 266.01,718.09 268.84,703.40 269.78,702.77 272.61,705.32 275.44,707.99 277.33,704.94 279.22,708.11 280.82,708.64 282.05,712.06 282.99,710.43 285.82,713.34 286.48,712.98 288.65,704.22 289.59,705.32 292.42,701.06 292.89,695.75 294.59,690.51 295.25,685.15 298.08,691.28 299.03,684.51 301.01,683.62 301.86,680.79 302.89,668.30" fill="none" stroke="#1d4a80" stroke-width="0.75" stroke-linejoin="round"/>
<circle cx="213.18" cy="721.92" r="0.75" fill="#1d4a80" stroke="none" stroke-width="0.6"/>
<circle cx="214.60" cy="720.86" r="0.75" fill="#1d4a80" stroke="none" stroke-width="0.6"/>
<circle cx="216.01" cy="720.64" r="0.75" fill="#1d4a80" stroke="none" stroke-width="0.6"/>
<circle cx="217.90" cy="719.69" r="0.75" fill="#1d4a80" stroke="none" stroke-width="0.6"/>
<circle cx="219.79" cy="719.36" r="0.75" fill="#1d4a80" stroke="none" stroke-width="0.6"/>
<circle cx="221.20" cy="719.37" r="0.75" fill="#1d4a80" stroke="none" stroke-width="0.6"/>
<circle cx="222.62" cy="716.60" r="0.75" fill="#1d4a80" stroke="none" stroke-width="0.6"/>
<circle cx="223.56" cy="715.53" r="0.75" fill="#1d4a80" stroke="none" stroke-width="0.6"/>
<circle cx="224.50" cy="712.04" r="0.75" fill="#1d4a80" stroke="none" stroke-width="0.6"/>
<circle cx="226.39" cy="718.09" r="0.75" fill="#1d4a80" stroke="none" stroke-width="0.6"/>
<circle cx="227.81" cy="722.73" r="0.75" fill="#1d4a80" stroke="none" stroke-width="0.6"/>
<circle cx="229.22" cy="720.64" r="0.75" fill="#1d4a80" stroke="none" stroke-width="0.6"/>
<circle cx="231.11" cy="718.42" r="0.75" fill="#1d4a80" stroke="none" stroke-width="0.6"/>
<circle cx="232.99" cy="721.92" r="0.75" fill="#1d4a80" stroke="none" stroke-width="0.6"/>
<circle cx="234.41" cy="722.35" r="0.75" fill="#1d4a80" stroke="none" stroke-width="0.6"/>
<circle cx="235.82" cy="723.19" r="0.75" fill="#1d4a80" stroke="none" stroke-width="0.6"/>
<circle cx="239.60" cy="724.47" r="0.75" fill="#1d4a80" stroke="none" stroke-width="0.6"/>
<circle cx="242.43" cy="719.36" r="0.75" fill="#1d4a80" stroke="none" stroke-width="0.6"/>
<circle cx="246.20" cy="720.64" r="0.75" fill="#1d4a80" stroke="none" stroke-width="0.6"/>
<circle cx="249.03" cy="723.19" r="0.75" fill="#1d4a80" stroke="none" stroke-width="0.6"/>
<circle cx="252.80" cy="724.47" r="0.75" fill="#1d4a80" stroke="none" stroke-width="0.6"/>
<circle cx="255.63" cy="725.75" r="0.75" fill="#1d4a80" stroke="none" stroke-width="0.6"/>
<circle cx="259.41" cy="728.30" r="0.75" fill="#1d4a80" stroke="none" stroke-width="0.6"/>
<circle cx="262.24" cy="727.02" r="0.75" fill="#1d4a80" stroke="none" stroke-width="0.6"/>
<circle cx="266.01" cy="718.09" r="0.75" fill="#1d4a80" stroke="none" stroke-width="0.6"/>
<circle cx="268.84" cy="703.40" r="0.75" fill="#1d4a80" stroke="none" stroke-width="0.6"/>
<circle cx="269.78" cy="702.77" r="0.75" fill="#1d4a80" stroke="none" stroke-width="0.6"/>
<circle cx="272.61" cy="705.32" r="0.75" fill="#1d4a80" stroke="none" stroke-width="0.6"/>
<circle cx="275.44" cy="707.99" r="0.75" fill="#1d4a80" stroke="none" stroke-width="0.6"/>
<circle cx="277.33" cy="704.94" r="0.75" fill="#1d4a80" stroke="none" stroke-width="0.6"/>
<circle cx="279.22" cy="708.11" r="0.75" fill="#1d4a80" stroke="none" stroke-width="0.6"/>
<circle cx="280.82" cy="708.64" r="0.75" fill="#1d4a80" stroke="none" stroke-width="0.6"/>
<circle cx="282.05" cy="712.06" r="0.75" fill="#1d4a80" stroke="none" stroke-width="0.6"/>
<circle cx="282.99" cy="710.43" r="0.75" fill="#1d4a80" stroke="none" stroke-width="0.6"/>
<circle cx="285.82" cy="713.34" r="0.75" fill="#1d4a80" stroke="none" stroke-width="0.6"/>
<circle cx="286.48" cy="712.98" r="0.75" fill="#1d4a80" stroke="none" stroke-width="0.6"/>
<circle cx="288.65" cy="704.22" r="0.75" fill="#1d4a80" stroke="none" stroke-width="0.6"/>
<circle cx="289.59" cy="705.32" r="0.75" fill="#1d4a80" stroke="none" stroke-width="0.6"/>
<circle cx="292.42" cy="701.06" r="0.75" fill="#1d4a80" stroke="none" stroke-width="0.6"/>
<circle cx="292.89" cy="695.75" r="0.75" fill="#1d4a80" stroke="none" stroke-width="0.6"/>
<circle cx="294.59" cy="690.51" r="0.75" fill="#1d4a80" stroke="none" stroke-width="0.6"/>
<circle cx="295.25" cy="685.15" r="0.75" fill="#1d4a80" stroke="none" stroke-width="0.6"/>
<circle cx="298.08" cy="691.28" r="0.75" fill="#1d4a80" stroke="none" stroke-width="0.6"/>
<circle cx="299.03" cy="684.51" r="0.75" fill="#1d4a80" stroke="none" stroke-width="0.6"/>
<circle cx="301.01" cy="683.62" r="0.75" fill="#1d4a80" stroke="none" stroke-width="0.6"/>
<circle cx="301.86" cy="680.79" r="0.75" fill="#1d4a80" stroke="none" stroke-width="0.6"/>
<circle cx="302.89" cy="668.30" r="0.75" fill="#1d4a80" stroke="none" stroke-width="0.6"/>
<polyline points="213.18,724.47 214.60,724.84 216.01,721.92 217.90,718.89 219.79,719.36 221.20,718.99 222.62,715.80 223.56,718.09 224.50,715.27 226.39,720.64 227.81,722.09 229.22,721.92 231.11,722.78 232.99,723.19 234.41,726.49 235.82,724.47 239.60,723.19 242.43,721.92 246.20,723.19 249.03,720.64 252.80,723.19 255.63,720.64 259.41,718.09 262.24,712.98 266.01,707.87 268.84,702.77 272.61,716.55 275.44,710.43 279.22,701.12 280.16,702.77 281.29,711.96 282.05,713.12 283.93,720.13 285.82,720.65 286.48,722.94 288.65,720.45 289.59,721.92 292.42,722.36 293.46,720.13 294.59,722.94 295.25,723.98 297.14,721.92 299.03,721.15 300.35,720.00 301.86,717.43 303.27,712.98 305.63,701.32 306.20,703.28 307.89,670.85" fill="none" stroke="#1d4a80" stroke-width="0.75" stroke-linejoin="round"/>
<circle cx="213.18" cy="724.47" r="0.75" fill="#1d4a80" stroke="none" stroke-width="0.6"/>
<circle cx="214.60" cy="724.84" r="0.75" fill="#1d4a80" stroke="none" stroke-width="0.6"/>
<circle cx="216.01" cy="721.92" r="0.75" fill="#1d4a80" stroke="none" stroke-width="0.6"/>
<circle cx="217.90" cy="718.89" r="0.75" fill="#1d4a80" stroke="none" stroke-width="0.6"/>
<circle cx="219.79" cy="719.36" r="0.75" fill="#1d4a80" stroke="none" stroke-width="0.6"/>
<circle cx="221.20" cy="718.99" r="0.75" fill="#1d4a80" stroke="none" stroke-width="0.6"/>
<circle cx="222.62" cy="715.80" r="0.75" fill="#1d4a80" stroke="none" stroke-width="0.6"/>
<circle cx="223.56" cy="718.09" r="0.75" fill="#1d4a80" stroke="none" stroke-width="0.6"/>
<circle cx="224.50" cy="715.27" r="0.75" fill="#1d4a80" stroke="none" stroke-width="0.6"/>
<circle cx="226.39" cy="720.64" r="0.75" fill="#1d4a80" stroke="none" stroke-width="0.6"/>
<circle cx="227.81" cy="722.09" r="0.75" fill="#1d4a80" stroke="none" stroke-width="0.6"/>
<circle cx="229.22" cy="721.92" r="0.75" fill="#1d4a80" stroke="none" stroke-width="0.6"/>
<circle cx="231.11" cy="722.78" r="0.75" fill="#1d4a80" stroke="none" stroke-width="0.6"/>
<circle cx="232.99" cy="723.19" r="0.75" fill="#1d4a80" stroke="none" stroke-width="0.6"/>
<circle cx="234.41" cy="726.49" r="0.75" fill="#1d4a80" stroke="none" stroke-width="0.6"/>
<circle cx="235.82" cy="724.47" r="0.75" fill="#1d4a80" stroke="none" stroke-width="0.6"/>
<circle cx="239.60" cy="723.19" r="0.75" fill="#1d4a80" stroke="none" stroke-width="0.6"/>
<circle cx="242.43" cy="721.92" r="0.75" fill="#1d4a80" stroke="none" stroke-width="0.6"/>
<circle cx="246.20" cy="723.19" r="0.75" fill="#1d4a80" stroke="none" stroke-width="0.6"/>
<circle cx="249.03" cy="720.64" r="0.75" fill="#1d4a80" stroke="none" stroke-width="0.6"/>
<circle cx="252.80" cy="723.19" r="0.75" fill="#1d4a80" stroke="none" stroke-width="0.6"/>
<circle cx="255.63" cy="720.64" r="0.75" fill="#1d4a80" stroke="none" stroke-width="0.6"/>
<circle cx="259.41" cy="718.09" r="0.75" fill="#1d4a80" stroke="none" stroke-width="0.6"/>
<circle cx="262.24" cy="712.98" r="0.75" fill="#1d4a80" stroke="none" stroke-width="0.6"/>
<circle cx="266.01" cy="707.87" r="0.75" fill="#1d4a80" stroke="none" stroke-width="0.6"/>
<circle cx="268.84" cy="702.77" r="0.75" fill="#1d4a80" stroke="none" stroke-width="0.6"/>
<circle cx="272.61" cy="716.55" r="0.75" fill="#1d4a80" stroke="none" stroke-width="0.6"/>
<circle cx="275.44" cy="710.43" r="0.75" fill="#1d4a80" stroke="none" stroke-width="0.6"/>
<circle cx="279.22" cy="701.12" r="0.75" fill="#1d4a80" stroke="none" stroke-width="0.6"/>
<circle cx="280.16" cy="702.77" r="0.75" fill="#1d4a80" stroke="none" stroke-width="0.6"/>
<circle cx="281.29" cy="711.96" r="0.75" fill="#1d4a80" stroke="none" stroke-width="0.6"/>
<circle cx="282.05" cy="713.12" r="0.75" fill="#1d4a80" stroke="none" stroke-width="0.6"/>
<circle cx="283.93" cy="720.13" r="0.75" fill="#1d4a80" stroke="none" stroke-width="0.6"/>
<circle cx="285.82" cy="720.65" r="0.75" fill="#1d4a80" stroke="none" stroke-width="0.6"/>
<circle cx="286.48" cy="722.94" r="0.75" fill="#1d4a80" stroke="none" stroke-width="0.6"/>
<circle cx="288.65" cy="720.45" r="0.75" fill="#1d4a80" stroke="none" stroke-width="0.6"/>
<circle cx="289.59" cy="721.92" r="0.75" fill="#1d4a80" stroke="none" stroke-width="0.6"/>
<circle cx="292.42" cy="722.36" r="0.75" fill="#1d4a80" stroke="none" stroke-width="0.6"/>
<circle cx="293.46" cy="720.13" r="0.75" fill="#1d4a80" stroke="none" stroke-width="0.6"/>
<circle cx="294.59" cy="722.94" r="0.75" fill="#1d4a80" stroke="none" stroke-width="0.6"/>
<circle cx="295.25" cy="723.98" r="0.75" fill="#1d4a80" stroke="none" stroke-width="0.6"/>
<circle cx="297.14" cy="721.92" r="0.75" fill="#1d4a80" stroke="none" stroke-width="0.6"/>
<circle cx="299.03" cy="721.15" r="0.75" fill="#1d4a80" stroke="none" stroke-width="0.6"/>
<circle cx="300.35" cy="720.00" r="0.75" fill="#1d4a80" stroke="none" stroke-width="0.6"/>
<circle cx="301.86" cy="717.43" r="0.75" fill="#1d4a80" stroke="none" stroke-width="0.6"/>
<circle cx="303.27" cy="712.98" r="0.75" fill="#1d4a80" stroke="none" stroke-width="0.6"/>
<circle cx="305.63" cy="701.32" r="0.75" fill="#1d4a80" stroke="none" stroke-width="0.6"/>
<circle cx="306.20" cy="703.28" r="0.75" fill="#1d4a80" stroke="none" stroke-width="0.6"/>
<circle cx="307.89" cy="670.85" r="0.75" fill="#1d4a80" stroke="none" stroke-width="0.6"/>
<polyline points="213.18,723.19 214.60,723.31 216.01,720.64 217.90,718.96 219.79,718.09 221.20,715.39 222.62,719.39 223.56,716.04 224.50,717.74 226.39,719.36 227.81,716.44 229.22,720.64 231.11,720.40 232.99,721.92 234.41,720.93 235.82,723.19 239.60,723.19 242.43,724.47 246.20,721.92 249.03,724.47 252.80,725.75 255.63,727.02 259.41,728.30" fill="none" stroke="#1d4a80" stroke-width="0.75" stroke-linejoin="round"/>
<circle cx="213.18" cy="723.19" r="0.75" fill="#1d4a80" stroke="none" stroke-width="0.6"/>
<circle cx="214.60" cy="723.31" r="0.75" fill="#1d4a80" stroke="none" stroke-width="0.6"/>
<circle cx="216.01" cy="720.64" r="0.75" fill="#1d4a80" stroke="none" stroke-width="0.6"/>
<circle cx="217.90" cy="718.96" r="0.75" fill="#1d4a80" stroke="none" stroke-width="0.6"/>
<circle cx="219.79" cy="718.09" r="0.75" fill="#1d4a80" stroke="none" stroke-width="0.6"/>
<circle cx="221.20" cy="715.39" r="0.75" fill="#1d4a80" stroke="none" stroke-width="0.6"/>
<circle cx="222.62" cy="719.39" r="0.75" fill="#1d4a80" stroke="none" stroke-width="0.6"/>
<circle cx="223.56" cy="716.04" r="0.75" fill="#1d4a80" stroke="none" stroke-width="0.6"/>
<circle cx="224.50" cy="717.74" r="0.75" fill="#1d4a80" stroke="none" stroke-width="0.6"/>
<circle cx="226.39" cy="719.36" r="0.75" fill="#1d4a80" stroke="none" stroke-width="0.6"/>
<circle cx="227.81" cy="716.44" r="0.75" fill="#1d4a80" stroke="none" stroke-width="0.6"/>
<circle cx="229.22" cy="720.64" r="0.75" fill="#1d4a80" stroke="none" stroke-width="0.6"/>
<circle cx="231.11" cy="720.40" r="0.75" fill="#1d4a80" stroke="none" stroke-width="0.6"/>
<circle cx="232.99" cy="721.92" r="0.75" fill="#1d4a80" stroke="none" stroke-width="0.6"/>
<circle cx="234.41" cy="720.93" r="0.75" fill="#1d4a80" stroke="none" stroke-width="0.6"/>
<circle cx="235.82" cy="723.19" r="0.75" fill="#1d4a80" stroke="none" stroke-width="0.6"/>
<circle cx="239.60" cy="723.19" r="0.75" fill="#1d4a80" stroke="none" stroke-width="0.6"/>
<circle cx="242.43" cy="724.47" r="0.75" fill="#1d4a80" stroke="none" stroke-width="0.6"/>
<circle cx="246.20" cy="721.92" r="0.75" fill="#1d4a80" stroke="none" stroke-width="0.6"/>
<circle cx="249.03" cy="724.47" r="0.75" fill="#1d4a80" stroke="none" stroke-width="0.6"/>
<circle cx="252.80" cy="725.75" r="0.75" fill="#1d4a80" stroke="none" stroke-width="0.6"/>
<circle cx="255.63" cy="727.02" r="0.75" fill="#1d4a80" stroke="none" stroke-width="0.6"/>
<circle cx="259.41" cy="728.30" r="0.75" fill="#1d4a80" stroke="none" stroke-width="0.6"/>
<polyline points="213.18,721.92 214.60,723.91 216.01,723.19 217.90,720.76 219.79,720.64 221.20,716.21 222.62,715.95 223.56,716.81 224.50,716.92 226.39,720.64 227.81,720.48 229.22,721.92 231.11,721.89 232.99,723.19 234.41,721.53 235.82,723.70 239.60,721.92 242.43,719.36 246.20,715.53 249.03,710.43 252.80,707.87 255.63,712.98 259.41,705.32 262.24,700.21 266.01,695.11 268.84,697.66 271.67,702.77 272.61,704.78 274.50,700.21" fill="none" stroke="#1d4a80" stroke-width="0.75" stroke-linejoin="round"/>
<circle cx="213.18" cy="721.92" r="0.75" fill="#1d4a80" stroke="none" stroke-width="0.6"/>
<circle cx="214.60" cy="723.91" r="0.75" fill="#1d4a80" stroke="none" stroke-width="0.6"/>
<circle cx="216.01" cy="723.19" r="0.75" fill="#1d4a80" stroke="none" stroke-width="0.6"/>
<circle cx="217.90" cy="720.76" r="0.75" fill="#1d4a80" stroke="none" stroke-width="0.6"/>
<circle cx="219.79" cy="720.64" r="0.75" fill="#1d4a80" stroke="none" stroke-width="0.6"/>
<circle cx="221.20" cy="716.21" r="0.75" fill="#1d4a80" stroke="none" stroke-width="0.6"/>
<circle cx="222.62" cy="715.95" r="0.75" fill="#1d4a80" stroke="none" stroke-width="0.6"/>
<circle cx="223.56" cy="716.81" r="0.75" fill="#1d4a80" stroke="none" stroke-width="0.6"/>
<circle cx="224.50" cy="716.92" r="0.75" fill="#1d4a80" stroke="none" stroke-width="0.6"/>
<circle cx="226.39" cy="720.64" r="0.75" fill="#1d4a80" stroke="none" stroke-width="0.6"/>
<circle cx="227.81" cy="720.48" r="0.75" fill="#1d4a80" stroke="none" stroke-width="0.6"/>
<circle cx="229.22" cy="721.92" r="0.75" fill="#1d4a80" stroke="none" stroke-width="0.6"/>
<circle cx="231.11" cy="721.89" r="0.75" fill="#1d4a80" stroke="none" stroke-width="0.6"/>
<circle cx="232.99" cy="723.19" r="0.75" fill="#1d4a80" stroke="none" stroke-width="0.6"/>
<circle cx="234.41" cy="721.53" r="0.75" fill="#1d4a80" stroke="none" stroke-width="0.6"/>
<circle cx="235.82" cy="723.70" r="0.75" fill="#1d4a80" stroke="none" stroke-width="0.6"/>
<circle cx="239.60" cy="721.92" r="0.75" fill="#1d4a80" stroke="none" stroke-width="0.6"/>
<circle cx="242.43" cy="719.36" r="0.75" fill="#1d4a80" stroke="none" stroke-width="0.6"/>
<circle cx="246.20" cy="715.53" r="0.75" fill="#1d4a80" stroke="none" stroke-width="0.6"/>
<circle cx="249.03" cy="710.43" r="0.75" fill="#1d4a80" stroke="none" stroke-width="0.6"/>
<circle cx="252.80" cy="707.87" r="0.75" fill="#1d4a80" stroke="none" stroke-width="0.6"/>
<circle cx="255.63" cy="712.98" r="0.75" fill="#1d4a80" stroke="none" stroke-width="0.6"/>
<circle cx="259.41" cy="705.32" r="0.75" fill="#1d4a80" stroke="none" stroke-width="0.6"/>
<circle cx="262.24" cy="700.21" r="0.75" fill="#1d4a80" stroke="none" stroke-width="0.6"/>
<circle cx="266.01" cy="695.11" r="0.75" fill="#1d4a80" stroke="none" stroke-width="0.6"/>
<circle cx="268.84" cy="697.66" r="0.75" fill="#1d4a80" stroke="none" stroke-width="0.6"/>
<circle cx="271.67" cy="702.77" r="0.75" fill="#1d4a80" stroke="none" stroke-width="0.6"/>
<circle cx="272.61" cy="704.78" r="0.75" fill="#1d4a80" stroke="none" stroke-width="0.6"/>
<circle cx="274.50" cy="700.21" r="0.75" fill="#1d4a80" stroke="none" stroke-width="0.6"/>
<line x1="344.25" y1="649.40" x2="344.25" y2="728.90" stroke="#222222" stroke-width="1.4"/>
<line x1="341.25" y1="728.30" x2="344.25" y2="728.30" stroke="#222222" stroke-width="1.0"/>
<line x1="341.25" y1="702.77" x2="344.25" y2="702.77" stroke="#222222" stroke-width="1.0"/>
<line x1="341.25" y1="677.23" x2="344.25" y2="677.23" stroke="#222222" stroke-width="1.0"/>
<line x1="341.25" y1="651.70" x2="344.25" y2="651.70" stroke="#222222" stroke-width="1.0"/>
<line x1="344.25" y1="728.30" x2="460.75" y2="728.30" stroke="#222222" stroke-width="1.4"/>
<line x1="344.25" y1="728.30" x2="344.25" y2="731.30" stroke="#222222" stroke-width="1.0"/>
<text x="344.25" y="741.50" font-size="9.2" text-anchor="middle" fill="#262626" font-weight="normal" stroke="#262626" stroke-width="0.18" textLength="5.0" lengthAdjust="spacingAndGlyphs">0</text>
<line x1="363.12" y1="728.30" x2="363.12" y2="731.30" stroke="#222222" stroke-width="1.0"/>
<text x="363.12" y="741.50" font-size="9.2" text-anchor="middle" fill="#262626" font-weight="normal" stroke="#262626" stroke-width="0.18" textLength="10.0" lengthAdjust="spacingAndGlyphs">20</text>
<line x1="381.98" y1="728.30" x2="381.98" y2="731.30" stroke="#222222" stroke-width="1.0"/>
<text x="381.98" y="741.50" font-size="9.2" text-anchor="middle" fill="#262626" font-weight="normal" stroke="#262626" stroke-width="0.18" textLength="10.0" lengthAdjust="spacingAndGlyphs">40</text>
<line x1="400.85" y1="728.30" x2="400.85" y2="731.30" stroke="#222222" stroke-width="1.0"/>
<text x="400.85" y="741.50" font-size="9.2" text-anchor="middle" fill="#262626" font-weight="normal" stroke="#262626" stroke-width="0.18" textLength="10.0" lengthAdjust="spacingAndGlyphs">60</text>
<line x1="419.72" y1="728.30" x2="419.72" y2="731.30" stroke="#222222" stroke-width="1.0"/>
<text x="419.72" y="741.50" font-size="9.2" text-anchor="middle" fill="#262626" font-weight="normal" stroke="#262626" stroke-width="0.18" textLength="10.0" lengthAdjust="spacingAndGlyphs">80</text>
<line x1="438.58" y1="728.30" x2="438.58" y2="731.30" stroke="#222222" stroke-width="1.0"/>
<text x="438.58" y="741.50" font-size="9.2" text-anchor="middle" fill="#262626" font-weight="normal" stroke="#262626" stroke-width="0.18" textLength="15.6" lengthAdjust="spacingAndGlyphs">100</text>
<line x1="457.45" y1="728.30" x2="457.45" y2="731.30" stroke="#222222" stroke-width="1.0"/>
<text x="457.45" y="741.50" font-size="9.2" text-anchor="middle" fill="#262626" font-weight="normal" stroke="#262626" stroke-width="0.18" textLength="15.6" lengthAdjust="spacingAndGlyphs">120</text>
<polyline points="353.68,720.64 355.10,722.73 356.51,723.19 358.40,723.38 360.29,719.36 361.70,717.17 363.12,715.53 365.00,710.31 366.89,712.98 368.31,716.68 369.72,718.09 371.61,722.10 373.49,724.47 374.91,725.38 376.32,725.75 380.10,721.92 382.93,718.09 386.70,710.43 389.53,705.32 393.30,712.98 396.13,707.87 399.91,702.77 402.74,710.43 406.51,698.94 409.34,705.32 413.11,700.21 415.94,695.75 419.72,702.77 422.55,705.32 426.32,715.53 429.15,723.19 432.92,725.75 435.75,726.77" fill="none" stroke="#1d4a80" stroke-width="0.75" stroke-linejoin="round"/>
<circle cx="353.68" cy="720.64" r="0.75" fill="#1d4a80" stroke="none" stroke-width="0.6"/>
<circle cx="355.10" cy="722.73" r="0.75" fill="#1d4a80" stroke="none" stroke-width="0.6"/>
<circle cx="356.51" cy="723.19" r="0.75" fill="#1d4a80" stroke="none" stroke-width="0.6"/>
<circle cx="358.40" cy="723.38" r="0.75" fill="#1d4a80" stroke="none" stroke-width="0.6"/>
<circle cx="360.29" cy="719.36" r="0.75" fill="#1d4a80" stroke="none" stroke-width="0.6"/>
<circle cx="361.70" cy="717.17" r="0.75" fill="#1d4a80" stroke="none" stroke-width="0.6"/>
<circle cx="363.12" cy="715.53" r="0.75" fill="#1d4a80" stroke="none" stroke-width="0.6"/>
<circle cx="365.00" cy="710.31" r="0.75" fill="#1d4a80" stroke="none" stroke-width="0.6"/>
<circle cx="366.89" cy="712.98" r="0.75" fill="#1d4a80" stroke="none" stroke-width="0.6"/>
<circle cx="368.31" cy="716.68" r="0.75" fill="#1d4a80" stroke="none" stroke-width="0.6"/>
<circle cx="369.72" cy="718.09" r="0.75" fill="#1d4a80" stroke="none" stroke-width="0.6"/>
<circle cx="371.61" cy="722.10" r="0.75" fill="#1d4a80" stroke="none" stroke-width="0.6"/>
<circle cx="373.49" cy="724.47" r="0.75" fill="#1d4a80" stroke="none" stroke-width="0.6"/>
<circle cx="374.91" cy="725.38" r="0.75" fill="#1d4a80" stroke="none" stroke-width="0.6"/>
<circle cx="376.32" cy="725.75" r="0.75" fill="#1d4a80" stroke="none" stroke-width="0.6"/>
<circle cx="380.10" cy="721.92" r="0.75" fill="#1d4a80" stroke="none" stroke-width="0.6"/>
<circle cx="382.93" cy="718.09" r="0.75" fill="#1d4a80" stroke="none" stroke-width="0.6"/>
<circle cx="386.70" cy="710.43" r="0.75" fill="#1d4a80" stroke="none" stroke-width="0.6"/>
<circle cx="389.53" cy="705.32" r="0.75" fill="#1d4a80" stroke="none" stroke-width="0.6"/>
<circle cx="393.30" cy="712.98" r="0.75" fill="#1d4a80" stroke="none" stroke-width="0.6"/>
<circle cx="396.13" cy="707.87" r="0.75" fill="#1d4a80" stroke="none" stroke-width="0.6"/>
<circle cx="399.91" cy="702.77" r="0.75" fill="#1d4a80" stroke="none" stroke-width="0.6"/>
<circle cx="402.74" cy="710.43" r="0.75" fill="#1d4a80" stroke="none" stroke-width="0.6"/>
<circle cx="406.51" cy="698.94" r="0.75" fill="#1d4a80" stroke="none" stroke-width="0.6"/>
<circle cx="409.34" cy="705.32" r="0.75" fill="#1d4a80" stroke="none" stroke-width="0.6"/>
<circle cx="413.11" cy="700.21" r="0.75" fill="#1d4a80" stroke="none" stroke-width="0.6"/>
<circle cx="415.94" cy="695.75" r="0.75" fill="#1d4a80" stroke="none" stroke-width="0.6"/>
<circle cx="419.72" cy="702.77" r="0.75" fill="#1d4a80" stroke="none" stroke-width="0.6"/>
<circle cx="422.55" cy="705.32" r="0.75" fill="#1d4a80" stroke="none" stroke-width="0.6"/>
<circle cx="426.32" cy="715.53" r="0.75" fill="#1d4a80" stroke="none" stroke-width="0.6"/>
<circle cx="429.15" cy="723.19" r="0.75" fill="#1d4a80" stroke="none" stroke-width="0.6"/>
<circle cx="432.92" cy="725.75" r="0.75" fill="#1d4a80" stroke="none" stroke-width="0.6"/>
<circle cx="435.75" cy="726.77" r="0.75" fill="#1d4a80" stroke="none" stroke-width="0.6"/>
<polyline points="353.68,723.19 355.10,721.85 356.51,720.64 358.40,718.22 360.29,716.81 361.70,715.21 363.12,718.09 365.00,717.68 366.89,714.26 368.31,718.31 369.72,719.24 370.66,714.00 371.61,717.78 373.49,720.64 374.91,720.96 376.32,724.47 380.10,723.19 382.93,715.53 386.70,718.09 389.53,710.43 393.30,705.32 396.13,715.53 399.91,707.87 402.74,704.04 406.51,707.87 409.34,702.77 413.11,697.66 415.94,705.32 419.72,693.83 421.60,689.49 422.55,698.37 424.43,700.21 426.32,704.95 427.26,707.87 429.15,716.29 430.09,718.09 432.92,724.47 435.75,726.51 439.53,726.77" fill="none" stroke="#1d4a80" stroke-width="0.75" stroke-linejoin="round"/>
<circle cx="353.68" cy="723.19" r="0.75" fill="#1d4a80" stroke="none" stroke-width="0.6"/>
<circle cx="355.10" cy="721.85" r="0.75" fill="#1d4a80" stroke="none" stroke-width="0.6"/>
<circle cx="356.51" cy="720.64" r="0.75" fill="#1d4a80" stroke="none" stroke-width="0.6"/>
<circle cx="358.40" cy="718.22" r="0.75" fill="#1d4a80" stroke="none" stroke-width="0.6"/>
<circle cx="360.29" cy="716.81" r="0.75" fill="#1d4a80" stroke="none" stroke-width="0.6"/>
<circle cx="361.70" cy="715.21" r="0.75" fill="#1d4a80" stroke="none" stroke-width="0.6"/>
<circle cx="363.12" cy="718.09" r="0.75" fill="#1d4a80" stroke="none" stroke-width="0.6"/>
<circle cx="365.00" cy="717.68" r="0.75" fill="#1d4a80" stroke="none" stroke-width="0.6"/>
<circle cx="366.89" cy="714.26" r="0.75" fill="#1d4a80" stroke="none" stroke-width="0.6"/>
<circle cx="368.31" cy="718.31" r="0.75" fill="#1d4a80" stroke="none" stroke-width="0.6"/>
<circle cx="369.72" cy="719.24" r="0.75" fill="#1d4a80" stroke="none" stroke-width="0.6"/>
<circle cx="370.66" cy="714.00" r="0.75" fill="#1d4a80" stroke="none" stroke-width="0.6"/>
<circle cx="371.61" cy="717.78" r="0.75" fill="#1d4a80" stroke="none" stroke-width="0.6"/>
<circle cx="373.49" cy="720.64" r="0.75" fill="#1d4a80" stroke="none" stroke-width="0.6"/>
<circle cx="374.91" cy="720.96" r="0.75" fill="#1d4a80" stroke="none" stroke-width="0.6"/>
<circle cx="376.32" cy="724.47" r="0.75" fill="#1d4a80" stroke="none" stroke-width="0.6"/>
<circle cx="380.10" cy="723.19" r="0.75" fill="#1d4a80" stroke="none" stroke-width="0.6"/>
<circle cx="382.93" cy="715.53" r="0.75" fill="#1d4a80" stroke="none" stroke-width="0.6"/>
<circle cx="386.70" cy="718.09" r="0.75" fill="#1d4a80" stroke="none" stroke-width="0.6"/>
<circle cx="389.53" cy="710.43" r="0.75" fill="#1d4a80" stroke="none" stroke-width="0.6"/>
<circle cx="393.30" cy="705.32" r="0.75" fill="#1d4a80" stroke="none" stroke-width="0.6"/>
<circle cx="396.13" cy="715.53" r="0.75" fill="#1d4a80" stroke="none" stroke-width="0.6"/>
<circle cx="399.91" cy="707.87" r="0.75" fill="#1d4a80" stroke="none" stroke-width="0.6"/>
<circle cx="402.74" cy="704.04" r="0.75" fill="#1d4a80" stroke="none" stroke-width="0.6"/>
<circle cx="406.51" cy="707.87" r="0.75" fill="#1d4a80" stroke="none" stroke-width="0.6"/>
<circle cx="409.34" cy="702.77" r="0.75" fill="#1d4a80" stroke="none" stroke-width="0.6"/>
<circle cx="413.11" cy="697.66" r="0.75" fill="#1d4a80" stroke="none" stroke-width="0.6"/>
<circle cx="415.94" cy="705.32" r="0.75" fill="#1d4a80" stroke="none" stroke-width="0.6"/>
<circle cx="419.72" cy="693.83" r="0.75" fill="#1d4a80" stroke="none" stroke-width="0.6"/>
<circle cx="421.60" cy="689.49" r="0.75" fill="#1d4a80" stroke="none" stroke-width="0.6"/>
<circle cx="422.55" cy="698.37" r="0.75" fill="#1d4a80" stroke="none" stroke-width="0.6"/>
<circle cx="424.43" cy="700.21" r="0.75" fill="#1d4a80" stroke="none" stroke-width="0.6"/>
<circle cx="426.32" cy="704.95" r="0.75" fill="#1d4a80" stroke="none" stroke-width="0.6"/>
<circle cx="427.26" cy="707.87" r="0.75" fill="#1d4a80" stroke="none" stroke-width="0.6"/>
<circle cx="429.15" cy="716.29" r="0.75" fill="#1d4a80" stroke="none" stroke-width="0.6"/>
<circle cx="430.09" cy="718.09" r="0.75" fill="#1d4a80" stroke="none" stroke-width="0.6"/>
<circle cx="432.92" cy="724.47" r="0.75" fill="#1d4a80" stroke="none" stroke-width="0.6"/>
<circle cx="435.75" cy="726.51" r="0.75" fill="#1d4a80" stroke="none" stroke-width="0.6"/>
<circle cx="439.53" cy="726.77" r="0.75" fill="#1d4a80" stroke="none" stroke-width="0.6"/>
<polyline points="353.68,721.92 355.10,723.16 356.51,719.36 358.40,717.71 360.29,720.64 361.70,717.68 363.12,714.26 365.00,716.90 366.89,715.53 368.31,714.11 369.72,716.81 371.61,717.83 373.49,721.92 374.91,724.61 376.32,724.47 380.10,720.64 382.93,719.36 386.70,712.98 389.53,704.30 393.30,710.43 396.13,712.98 399.91,705.83 402.74,710.43 406.51,705.32 409.34,710.43 413.11,702.77 415.94,700.21 419.72,705.32 422.55,701.49 426.32,697.66 428.21,695.36 429.15,691.48 431.98,702.00 432.92,701.38 435.75,707.87 439.53,709.15 442.36,715.53 446.13,712.47 448.96,718.09 451.79,722.68 452.73,725.02 454.62,726.77" fill="none" stroke="#1d4a80" stroke-width="0.75" stroke-linejoin="round"/>
<circle cx="353.68" cy="721.92" r="0.75" fill="#1d4a80" stroke="none" stroke-width="0.6"/>
<circle cx="355.10" cy="723.16" r="0.75" fill="#1d4a80" stroke="none" stroke-width="0.6"/>
<circle cx="356.51" cy="719.36" r="0.75" fill="#1d4a80" stroke="none" stroke-width="0.6"/>
<circle cx="358.40" cy="717.71" r="0.75" fill="#1d4a80" stroke="none" stroke-width="0.6"/>
<circle cx="360.29" cy="720.64" r="0.75" fill="#1d4a80" stroke="none" stroke-width="0.6"/>
<circle cx="361.70" cy="717.68" r="0.75" fill="#1d4a80" stroke="none" stroke-width="0.6"/>
<circle cx="363.12" cy="714.26" r="0.75" fill="#1d4a80" stroke="none" stroke-width="0.6"/>
<circle cx="365.00" cy="716.90" r="0.75" fill="#1d4a80" stroke="none" stroke-width="0.6"/>
<circle cx="366.89" cy="715.53" r="0.75" fill="#1d4a80" stroke="none" stroke-width="0.6"/>
<circle cx="368.31" cy="714.11" r="0.75" fill="#1d4a80" stroke="none" stroke-width="0.6"/>
<circle cx="369.72" cy="716.81" r="0.75" fill="#1d4a80" stroke="none" stroke-width="0.6"/>
<circle cx="371.61" cy="717.83" r="0.75" fill="#1d4a80" stroke="none" stroke-width="0.6"/>
<circle cx="373.49" cy="721.92" r="0.75" fill="#1d4a80" stroke="none" stroke-width="0.6"/>
<circle cx="374.91" cy="724.61" r="0.75" fill="#1d4a80" stroke="none" stroke-width="0.6"/>
<circle cx="376.32" cy="724.47" r="0.75" fill="#1d4a80" stroke="none" stroke-width="0.6"/>
<circle cx="380.10" cy="720.64" r="0.75" fill="#1d4a80" stroke="none" stroke-width="0.6"/>
<circle cx="382.93" cy="719.36" r="0.75" fill="#1d4a80" stroke="none" stroke-width="0.6"/>
<circle cx="386.70" cy="712.98" r="0.75" fill="#1d4a80" stroke="none" stroke-width="0.6"/>
<circle cx="389.53" cy="704.30" r="0.75" fill="#1d4a80" stroke="none" stroke-width="0.6"/>
<circle cx="393.30" cy="710.43" r="0.75" fill="#1d4a80" stroke="none" stroke-width="0.6"/>
<circle cx="396.13" cy="712.98" r="0.75" fill="#1d4a80" stroke="none" stroke-width="0.6"/>
<circle cx="399.91" cy="705.83" r="0.75" fill="#1d4a80" stroke="none" stroke-width="0.6"/>
<circle cx="402.74" cy="710.43" r="0.75" fill="#1d4a80" stroke="none" stroke-width="0.6"/>
<circle cx="406.51" cy="705.32" r="0.75" fill="#1d4a80" stroke="none" stroke-width="0.6"/>
<circle cx="409.34" cy="710.43" r="0.75" fill="#1d4a80" stroke="none" stroke-width="0.6"/>
<circle cx="413.11" cy="702.77" r="0.75" fill="#1d4a80" stroke="none" stroke-width="0.6"/>
<circle cx="415.94" cy="700.21" r="0.75" fill="#1d4a80" stroke="none" stroke-width="0.6"/>
<circle cx="419.72" cy="705.32" r="0.75" fill="#1d4a80" stroke="none" stroke-width="0.6"/>
<circle cx="422.55" cy="701.49" r="0.75" fill="#1d4a80" stroke="none" stroke-width="0.6"/>
<circle cx="426.32" cy="697.66" r="0.75" fill="#1d4a80" stroke="none" stroke-width="0.6"/>
<circle cx="428.21" cy="695.36" r="0.75" fill="#1d4a80" stroke="none" stroke-width="0.6"/>
<circle cx="429.15" cy="691.48" r="0.75" fill="#1d4a80" stroke="none" stroke-width="0.6"/>
<circle cx="431.98" cy="702.00" r="0.75" fill="#1d4a80" stroke="none" stroke-width="0.6"/>
<circle cx="432.92" cy="701.38" r="0.75" fill="#1d4a80" stroke="none" stroke-width="0.6"/>
<circle cx="435.75" cy="707.87" r="0.75" fill="#1d4a80" stroke="none" stroke-width="0.6"/>
<circle cx="439.53" cy="709.15" r="0.75" fill="#1d4a80" stroke="none" stroke-width="0.6"/>
<circle cx="442.36" cy="715.53" r="0.75" fill="#1d4a80" stroke="none" stroke-width="0.6"/>
<circle cx="446.13" cy="712.47" r="0.75" fill="#1d4a80" stroke="none" stroke-width="0.6"/>
<circle cx="448.96" cy="718.09" r="0.75" fill="#1d4a80" stroke="none" stroke-width="0.6"/>
<circle cx="451.79" cy="722.68" r="0.75" fill="#1d4a80" stroke="none" stroke-width="0.6"/>
<circle cx="452.73" cy="725.02" r="0.75" fill="#1d4a80" stroke="none" stroke-width="0.6"/>
<circle cx="454.62" cy="726.77" r="0.75" fill="#1d4a80" stroke="none" stroke-width="0.6"/>
<polyline points="353.68,724.47 355.10,723.61 356.51,721.92 358.40,720.58 360.29,720.64 361.70,721.20 363.12,716.81 365.00,712.64 366.89,715.53 368.31,719.35 369.72,720.64 371.61,721.50 373.49,723.19 374.91,722.14 376.32,723.70 380.10,723.19 382.93,720.64 386.70,715.53 389.53,718.09 393.30,712.98 396.13,710.43 399.91,705.32 402.74,712.98 406.51,707.87 409.34,702.77 413.11,706.60 415.94,700.21 419.72,697.66 422.55,705.32 426.32,710.43 429.15,705.32 432.92,702.77 435.75,706.60 439.53,709.15 442.36,712.98 446.13,716.81 448.96,720.64 452.73,725.75" fill="none" stroke="#1d4a80" stroke-width="0.75" stroke-linejoin="round"/>
<circle cx="353.68" cy="724.47" r="0.75" fill="#1d4a80" stroke="none" stroke-width="0.6"/>
<circle cx="355.10" cy="723.61" r="0.75" fill="#1d4a80" stroke="none" stroke-width="0.6"/>
<circle cx="356.51" cy="721.92" r="0.75" fill="#1d4a80" stroke="none" stroke-width="0.6"/>
<circle cx="358.40" cy="720.58" r="0.75" fill="#1d4a80" stroke="none" stroke-width="0.6"/>
<circle cx="360.29" cy="720.64" r="0.75" fill="#1d4a80" stroke="none" stroke-width="0.6"/>
<circle cx="361.70" cy="721.20" r="0.75" fill="#1d4a80" stroke="none" stroke-width="0.6"/>
<circle cx="363.12" cy="716.81" r="0.75" fill="#1d4a80" stroke="none" stroke-width="0.6"/>
<circle cx="365.00" cy="712.64" r="0.75" fill="#1d4a80" stroke="none" stroke-width="0.6"/>
<circle cx="366.89" cy="715.53" r="0.75" fill="#1d4a80" stroke="none" stroke-width="0.6"/>
<circle cx="368.31" cy="719.35" r="0.75" fill="#1d4a80" stroke="none" stroke-width="0.6"/>
<circle cx="369.72" cy="720.64" r="0.75" fill="#1d4a80" stroke="none" stroke-width="0.6"/>
<circle cx="371.61" cy="721.50" r="0.75" fill="#1d4a80" stroke="none" stroke-width="0.6"/>
<circle cx="373.49" cy="723.19" r="0.75" fill="#1d4a80" stroke="none" stroke-width="0.6"/>
<circle cx="374.91" cy="722.14" r="0.75" fill="#1d4a80" stroke="none" stroke-width="0.6"/>
<circle cx="376.32" cy="723.70" r="0.75" fill="#1d4a80" stroke="none" stroke-width="0.6"/>
<circle cx="380.10" cy="723.19" r="0.75" fill="#1d4a80" stroke="none" stroke-width="0.6"/>
<circle cx="382.93" cy="720.64" r="0.75" fill="#1d4a80" stroke="none" stroke-width="0.6"/>
<circle cx="386.70" cy="715.53" r="0.75" fill="#1d4a80" stroke="none" stroke-width="0.6"/>
<circle cx="389.53" cy="718.09" r="0.75" fill="#1d4a80" stroke="none" stroke-width="0.6"/>
<circle cx="393.30" cy="712.98" r="0.75" fill="#1d4a80" stroke="none" stroke-width="0.6"/>
<circle cx="396.13" cy="710.43" r="0.75" fill="#1d4a80" stroke="none" stroke-width="0.6"/>
<circle cx="399.91" cy="705.32" r="0.75" fill="#1d4a80" stroke="none" stroke-width="0.6"/>
<circle cx="402.74" cy="712.98" r="0.75" fill="#1d4a80" stroke="none" stroke-width="0.6"/>
<circle cx="406.51" cy="707.87" r="0.75" fill="#1d4a80" stroke="none" stroke-width="0.6"/>
<circle cx="409.34" cy="702.77" r="0.75" fill="#1d4a80" stroke="none" stroke-width="0.6"/>
<circle cx="413.11" cy="706.60" r="0.75" fill="#1d4a80" stroke="none" stroke-width="0.6"/>
<circle cx="415.94" cy="700.21" r="0.75" fill="#1d4a80" stroke="none" stroke-width="0.6"/>
<circle cx="419.72" cy="697.66" r="0.75" fill="#1d4a80" stroke="none" stroke-width="0.6"/>
<circle cx="422.55" cy="705.32" r="0.75" fill="#1d4a80" stroke="none" stroke-width="0.6"/>
<circle cx="426.32" cy="710.43" r="0.75" fill="#1d4a80" stroke="none" stroke-width="0.6"/>
<circle cx="429.15" cy="705.32" r="0.75" fill="#1d4a80" stroke="none" stroke-width="0.6"/>
<circle cx="432.92" cy="702.77" r="0.75" fill="#1d4a80" stroke="none" stroke-width="0.6"/>
<circle cx="435.75" cy="706.60" r="0.75" fill="#1d4a80" stroke="none" stroke-width="0.6"/>
<circle cx="439.53" cy="709.15" r="0.75" fill="#1d4a80" stroke="none" stroke-width="0.6"/>
<circle cx="442.36" cy="712.98" r="0.75" fill="#1d4a80" stroke="none" stroke-width="0.6"/>
<circle cx="446.13" cy="716.81" r="0.75" fill="#1d4a80" stroke="none" stroke-width="0.6"/>
<circle cx="448.96" cy="720.64" r="0.75" fill="#1d4a80" stroke="none" stroke-width="0.6"/>
<circle cx="452.73" cy="725.75" r="0.75" fill="#1d4a80" stroke="none" stroke-width="0.6"/>
<polyline points="353.68,723.19 355.10,722.98 356.51,720.64 358.40,719.61 360.29,716.81 361.70,720.54 363.12,719.36 365.00,716.52 366.89,718.09 368.31,713.46 369.72,715.53 371.61,718.74 373.49,724.47 374.91,724.96 376.32,725.24 380.10,720.64 382.93,721.92 386.70,715.53 389.53,705.32 393.30,707.87 396.13,715.53 399.91,710.43 402.74,702.77 406.51,698.94 409.34,707.87 413.11,710.43 415.94,702.77 419.72,693.83 422.55,697.66 426.32,695.11 429.15,700.21 432.92,705.32 435.75,710.43 439.53,715.53 442.36,716.81 446.13,714.26 448.96,716.30 452.73,726.77" fill="none" stroke="#1d4a80" stroke-width="0.75" stroke-linejoin="round"/>
<circle cx="353.68" cy="723.19" r="0.75" fill="#1d4a80" stroke="none" stroke-width="0.6"/>
<circle cx="355.10" cy="722.98" r="0.75" fill="#1d4a80" stroke="none" stroke-width="0.6"/>
<circle cx="356.51" cy="720.64" r="0.75" fill="#1d4a80" stroke="none" stroke-width="0.6"/>
<circle cx="358.40" cy="719.61" r="0.75" fill="#1d4a80" stroke="none" stroke-width="0.6"/>
<circle cx="360.29" cy="716.81" r="0.75" fill="#1d4a80" stroke="none" stroke-width="0.6"/>
<circle cx="361.70" cy="720.54" r="0.75" fill="#1d4a80" stroke="none" stroke-width="0.6"/>
<circle cx="363.12" cy="719.36" r="0.75" fill="#1d4a80" stroke="none" stroke-width="0.6"/>
<circle cx="365.00" cy="716.52" r="0.75" fill="#1d4a80" stroke="none" stroke-width="0.6"/>
<circle cx="366.89" cy="718.09" r="0.75" fill="#1d4a80" stroke="none" stroke-width="0.6"/>
<circle cx="368.31" cy="713.46" r="0.75" fill="#1d4a80" stroke="none" stroke-width="0.6"/>
<circle cx="369.72" cy="715.53" r="0.75" fill="#1d4a80" stroke="none" stroke-width="0.6"/>
<circle cx="371.61" cy="718.74" r="0.75" fill="#1d4a80" stroke="none" stroke-width="0.6"/>
<circle cx="373.49" cy="724.47" r="0.75" fill="#1d4a80" stroke="none" stroke-width="0.6"/>
<circle cx="374.91" cy="724.96" r="0.75" fill="#1d4a80" stroke="none" stroke-width="0.6"/>
<circle cx="376.32" cy="725.24" r="0.75" fill="#1d4a80" stroke="none" stroke-width="0.6"/>
<circle cx="380.10" cy="720.64" r="0.75" fill="#1d4a80" stroke="none" stroke-width="0.6"/>
<circle cx="382.93" cy="721.92" r="0.75" fill="#1d4a80" stroke="none" stroke-width="0.6"/>
<circle cx="386.70" cy="715.53" r="0.75" fill="#1d4a80" stroke="none" stroke-width="0.6"/>
<circle cx="389.53" cy="705.32" r="0.75" fill="#1d4a80" stroke="none" stroke-width="0.6"/>
<circle cx="393.30" cy="707.87" r="0.75" fill="#1d4a80" stroke="none" stroke-width="0.6"/>
<circle cx="396.13" cy="715.53" r="0.75" fill="#1d4a80" stroke="none" stroke-width="0.6"/>
<circle cx="399.91" cy="710.43" r="0.75" fill="#1d4a80" stroke="none" stroke-width="0.6"/>
<circle cx="402.74" cy="702.77" r="0.75" fill="#1d4a80" stroke="none" stroke-width="0.6"/>
<circle cx="406.51" cy="698.94" r="0.75" fill="#1d4a80" stroke="none" stroke-width="0.6"/>
<circle cx="409.34" cy="707.87" r="0.75" fill="#1d4a80" stroke="none" stroke-width="0.6"/>
<circle cx="413.11" cy="710.43" r="0.75" fill="#1d4a80" stroke="none" stroke-width="0.6"/>
<circle cx="415.94" cy="702.77" r="0.75" fill="#1d4a80" stroke="none" stroke-width="0.6"/>
<circle cx="419.72" cy="693.83" r="0.75" fill="#1d4a80" stroke="none" stroke-width="0.6"/>
<circle cx="422.55" cy="697.66" r="0.75" fill="#1d4a80" stroke="none" stroke-width="0.6"/>
<circle cx="426.32" cy="695.11" r="0.75" fill="#1d4a80" stroke="none" stroke-width="0.6"/>
<circle cx="429.15" cy="700.21" r="0.75" fill="#1d4a80" stroke="none" stroke-width="0.6"/>
<circle cx="432.92" cy="705.32" r="0.75" fill="#1d4a80" stroke="none" stroke-width="0.6"/>
<circle cx="435.75" cy="710.43" r="0.75" fill="#1d4a80" stroke="none" stroke-width="0.6"/>
<circle cx="439.53" cy="715.53" r="0.75" fill="#1d4a80" stroke="none" stroke-width="0.6"/>
<circle cx="442.36" cy="716.81" r="0.75" fill="#1d4a80" stroke="none" stroke-width="0.6"/>
<circle cx="446.13" cy="714.26" r="0.75" fill="#1d4a80" stroke="none" stroke-width="0.6"/>
<circle cx="448.96" cy="716.30" r="0.75" fill="#1d4a80" stroke="none" stroke-width="0.6"/>
<circle cx="452.73" cy="726.77" r="0.75" fill="#1d4a80" stroke="none" stroke-width="0.6"/>
<polyline points="353.68,721.92 355.10,724.62 356.51,723.19 358.40,719.82 360.29,718.09 361.70,714.24 363.12,715.53 365.00,714.43 366.89,718.09 368.31,715.79 369.72,719.36 371.61,720.27 373.49,723.19 374.91,724.58 376.32,724.47 380.10,721.92 382.93,720.64 386.70,721.92 389.53,720.64 393.30,715.53 396.13,712.98 399.91,710.43 402.74,707.87 406.51,720.64 409.34,725.75 413.11,726.77 415.94,727.02 419.72,727.53" fill="none" stroke="#1d4a80" stroke-width="0.75" stroke-linejoin="round"/>
<circle cx="353.68" cy="721.92" r="0.75" fill="#1d4a80" stroke="none" stroke-width="0.6"/>
<circle cx="355.10" cy="724.62" r="0.75" fill="#1d4a80" stroke="none" stroke-width="0.6"/>
<circle cx="356.51" cy="723.19" r="0.75" fill="#1d4a80" stroke="none" stroke-width="0.6"/>
<circle cx="358.40" cy="719.82" r="0.75" fill="#1d4a80" stroke="none" stroke-width="0.6"/>
<circle cx="360.29" cy="718.09" r="0.75" fill="#1d4a80" stroke="none" stroke-width="0.6"/>
<circle cx="361.70" cy="714.24" r="0.75" fill="#1d4a80" stroke="none" stroke-width="0.6"/>
<circle cx="363.12" cy="715.53" r="0.75" fill="#1d4a80" stroke="none" stroke-width="0.6"/>
<circle cx="365.00" cy="714.43" r="0.75" fill="#1d4a80" stroke="none" stroke-width="0.6"/>
<circle cx="366.89" cy="718.09" r="0.75" fill="#1d4a80" stroke="none" stroke-width="0.6"/>
<circle cx="368.31" cy="715.79" r="0.75" fill="#1d4a80" stroke="none" stroke-width="0.6"/>
<circle cx="369.72" cy="719.36" r="0.75" fill="#1d4a80" stroke="none" stroke-width="0.6"/>
<circle cx="371.61" cy="720.27" r="0.75" fill="#1d4a80" stroke="none" stroke-width="0.6"/>
<circle cx="373.49" cy="723.19" r="0.75" fill="#1d4a80" stroke="none" stroke-width="0.6"/>
<circle cx="374.91" cy="724.58" r="0.75" fill="#1d4a80" stroke="none" stroke-width="0.6"/>
<circle cx="376.32" cy="724.47" r="0.75" fill="#1d4a80" stroke="none" stroke-width="0.6"/>
<circle cx="380.10" cy="721.92" r="0.75" fill="#1d4a80" stroke="none" stroke-width="0.6"/>
<circle cx="382.93" cy="720.64" r="0.75" fill="#1d4a80" stroke="none" stroke-width="0.6"/>
<circle cx="386.70" cy="721.92" r="0.75" fill="#1d4a80" stroke="none" stroke-width="0.6"/>
<circle cx="389.53" cy="720.64" r="0.75" fill="#1d4a80" stroke="none" stroke-width="0.6"/>
<circle cx="393.30" cy="715.53" r="0.75" fill="#1d4a80" stroke="none" stroke-width="0.6"/>
<circle cx="396.13" cy="712.98" r="0.75" fill="#1d4a80" stroke="none" stroke-width="0.6"/>
<circle cx="399.91" cy="710.43" r="0.75" fill="#1d4a80" stroke="none" stroke-width="0.6"/>
<circle cx="402.74" cy="707.87" r="0.75" fill="#1d4a80" stroke="none" stroke-width="0.6"/>
<circle cx="406.51" cy="720.64" r="0.75" fill="#1d4a80" stroke="none" stroke-width="0.6"/>
<circle cx="409.34" cy="725.75" r="0.75" fill="#1d4a80" stroke="none" stroke-width="0.6"/>
<circle cx="413.11" cy="726.77" r="0.75" fill="#1d4a80" stroke="none" stroke-width="0.6"/>
<circle cx="415.94" cy="727.02" r="0.75" fill="#1d4a80" stroke="none" stroke-width="0.6"/>
<circle cx="419.72" cy="727.53" r="0.75" fill="#1d4a80" stroke="none" stroke-width="0.6"/>
<polyline points="353.68,720.64 355.10,718.64 356.51,719.36 358.40,720.18 360.29,718.09 361.70,720.23 363.12,720.64 365.00,717.99 366.89,716.81 368.31,716.36 369.72,719.36 371.61,721.50 373.49,723.19 374.91,722.93 376.32,724.47 380.10,720.64 382.93,718.09 386.70,712.98 389.53,710.43 393.30,707.87 396.13,705.32 399.91,710.43 402.74,705.32 406.51,700.21 409.34,702.77 413.11,696.38 415.94,700.21 419.72,705.32 422.55,710.43 425.38,723.96 426.32,725.07 429.15,725.75 431.98,726.51 432.92,726.54 435.75,724.94 437.64,726.51 439.53,727.31 442.36,727.28" fill="none" stroke="#1d4a80" stroke-width="0.75" stroke-linejoin="round"/>
<circle cx="353.68" cy="720.64" r="0.75" fill="#1d4a80" stroke="none" stroke-width="0.6"/>
<circle cx="355.10" cy="718.64" r="0.75" fill="#1d4a80" stroke="none" stroke-width="0.6"/>
<circle cx="356.51" cy="719.36" r="0.75" fill="#1d4a80" stroke="none" stroke-width="0.6"/>
<circle cx="358.40" cy="720.18" r="0.75" fill="#1d4a80" stroke="none" stroke-width="0.6"/>
<circle cx="360.29" cy="718.09" r="0.75" fill="#1d4a80" stroke="none" stroke-width="0.6"/>
<circle cx="361.70" cy="720.23" r="0.75" fill="#1d4a80" stroke="none" stroke-width="0.6"/>
<circle cx="363.12" cy="720.64" r="0.75" fill="#1d4a80" stroke="none" stroke-width="0.6"/>
<circle cx="365.00" cy="717.99" r="0.75" fill="#1d4a80" stroke="none" stroke-width="0.6"/>
<circle cx="366.89" cy="716.81" r="0.75" fill="#1d4a80" stroke="none" stroke-width="0.6"/>
<circle cx="368.31" cy="716.36" r="0.75" fill="#1d4a80" stroke="none" stroke-width="0.6"/>
<circle cx="369.72" cy="719.36" r="0.75" fill="#1d4a80" stroke="none" stroke-width="0.6"/>
<circle cx="371.61" cy="721.50" r="0.75" fill="#1d4a80" stroke="none" stroke-width="0.6"/>
<circle cx="373.49" cy="723.19" r="0.75" fill="#1d4a80" stroke="none" stroke-width="0.6"/>
<circle cx="374.91" cy="722.93" r="0.75" fill="#1d4a80" stroke="none" stroke-width="0.6"/>
<circle cx="376.32" cy="724.47" r="0.75" fill="#1d4a80" stroke="none" stroke-width="0.6"/>
<circle cx="380.10" cy="720.64" r="0.75" fill="#1d4a80" stroke="none" stroke-width="0.6"/>
<circle cx="382.93" cy="718.09" r="0.75" fill="#1d4a80" stroke="none" stroke-width="0.6"/>
<circle cx="386.70" cy="712.98" r="0.75" fill="#1d4a80" stroke="none" stroke-width="0.6"/>
<circle cx="389.53" cy="710.43" r="0.75" fill="#1d4a80" stroke="none" stroke-width="0.6"/>
<circle cx="393.30" cy="707.87" r="0.75" fill="#1d4a80" stroke="none" stroke-width="0.6"/>
<circle cx="396.13" cy="705.32" r="0.75" fill="#1d4a80" stroke="none" stroke-width="0.6"/>
<circle cx="399.91" cy="710.43" r="0.75" fill="#1d4a80" stroke="none" stroke-width="0.6"/>
<circle cx="402.74" cy="705.32" r="0.75" fill="#1d4a80" stroke="none" stroke-width="0.6"/>
<circle cx="406.51" cy="700.21" r="0.75" fill="#1d4a80" stroke="none" stroke-width="0.6"/>
<circle cx="409.34" cy="702.77" r="0.75" fill="#1d4a80" stroke="none" stroke-width="0.6"/>
<circle cx="413.11" cy="696.38" r="0.75" fill="#1d4a80" stroke="none" stroke-width="0.6"/>
<circle cx="415.94" cy="700.21" r="0.75" fill="#1d4a80" stroke="none" stroke-width="0.6"/>
<circle cx="419.72" cy="705.32" r="0.75" fill="#1d4a80" stroke="none" stroke-width="0.6"/>
<circle cx="422.55" cy="710.43" r="0.75" fill="#1d4a80" stroke="none" stroke-width="0.6"/>
<circle cx="425.38" cy="723.96" r="0.75" fill="#1d4a80" stroke="none" stroke-width="0.6"/>
<circle cx="426.32" cy="725.07" r="0.75" fill="#1d4a80" stroke="none" stroke-width="0.6"/>
<circle cx="429.15" cy="725.75" r="0.75" fill="#1d4a80" stroke="none" stroke-width="0.6"/>
<circle cx="431.98" cy="726.51" r="0.75" fill="#1d4a80" stroke="none" stroke-width="0.6"/>
<circle cx="432.92" cy="726.54" r="0.75" fill="#1d4a80" stroke="none" stroke-width="0.6"/>
<circle cx="435.75" cy="724.94" r="0.75" fill="#1d4a80" stroke="none" stroke-width="0.6"/>
<circle cx="437.64" cy="726.51" r="0.75" fill="#1d4a80" stroke="none" stroke-width="0.6"/>
<circle cx="439.53" cy="727.31" r="0.75" fill="#1d4a80" stroke="none" stroke-width="0.6"/>
<circle cx="442.36" cy="727.28" r="0.75" fill="#1d4a80" stroke="none" stroke-width="0.6"/>
<polyline points="353.68,723.70 355.10,723.36 356.51,721.92 358.40,721.99 360.29,720.64 361.70,718.08 363.12,718.09 365.00,717.75 366.89,719.36 368.31,718.81 369.72,720.64 371.61,722.71 373.49,723.70 374.91,724.24 376.32,724.47 380.10,723.19 382.93,720.64 386.70,716.81 389.53,712.98 393.30,715.53 396.13,710.43 399.91,712.98 402.74,707.87 406.51,710.43 409.34,705.32 413.11,702.77 415.94,697.66 419.72,700.21 422.55,702.77 426.32,705.32 429.15,707.87 432.92,710.43 435.75,712.98 439.53,718.09 442.36,720.64 446.13,723.19 448.96,725.75" fill="none" stroke="#1d4a80" stroke-width="0.75" stroke-linejoin="round"/>
<circle cx="353.68" cy="723.70" r="0.75" fill="#1d4a80" stroke="none" stroke-width="0.6"/>
<circle cx="355.10" cy="723.36" r="0.75" fill="#1d4a80" stroke="none" stroke-width="0.6"/>
<circle cx="356.51" cy="721.92" r="0.75" fill="#1d4a80" stroke="none" stroke-width="0.6"/>
<circle cx="358.40" cy="721.99" r="0.75" fill="#1d4a80" stroke="none" stroke-width="0.6"/>
<circle cx="360.29" cy="720.64" r="0.75" fill="#1d4a80" stroke="none" stroke-width="0.6"/>
<circle cx="361.70" cy="718.08" r="0.75" fill="#1d4a80" stroke="none" stroke-width="0.6"/>
<circle cx="363.12" cy="718.09" r="0.75" fill="#1d4a80" stroke="none" stroke-width="0.6"/>
<circle cx="365.00" cy="717.75" r="0.75" fill="#1d4a80" stroke="none" stroke-width="0.6"/>
<circle cx="366.89" cy="719.36" r="0.75" fill="#1d4a80" stroke="none" stroke-width="0.6"/>
<circle cx="368.31" cy="718.81" r="0.75" fill="#1d4a80" stroke="none" stroke-width="0.6"/>
<circle cx="369.72" cy="720.64" r="0.75" fill="#1d4a80" stroke="none" stroke-width="0.6"/>
<circle cx="371.61" cy="722.71" r="0.75" fill="#1d4a80" stroke="none" stroke-width="0.6"/>
<circle cx="373.49" cy="723.70" r="0.75" fill="#1d4a80" stroke="none" stroke-width="0.6"/>
<circle cx="374.91" cy="724.24" r="0.75" fill="#1d4a80" stroke="none" stroke-width="0.6"/>
<circle cx="376.32" cy="724.47" r="0.75" fill="#1d4a80" stroke="none" stroke-width="0.6"/>
<circle cx="380.10" cy="723.19" r="0.75" fill="#1d4a80" stroke="none" stroke-width="0.6"/>
<circle cx="382.93" cy="720.64" r="0.75" fill="#1d4a80" stroke="none" stroke-width="0.6"/>
<circle cx="386.70" cy="716.81" r="0.75" fill="#1d4a80" stroke="none" stroke-width="0.6"/>
<circle cx="389.53" cy="712.98" r="0.75" fill="#1d4a80" stroke="none" stroke-width="0.6"/>
<circle cx="393.30" cy="715.53" r="0.75" fill="#1d4a80" stroke="none" stroke-width="0.6"/>
<circle cx="396.13" cy="710.43" r="0.75" fill="#1d4a80" stroke="none" stroke-width="0.6"/>
<circle cx="399.91" cy="712.98" r="0.75" fill="#1d4a80" stroke="none" stroke-width="0.6"/>
<circle cx="402.74" cy="707.87" r="0.75" fill="#1d4a80" stroke="none" stroke-width="0.6"/>
<circle cx="406.51" cy="710.43" r="0.75" fill="#1d4a80" stroke="none" stroke-width="0.6"/>
<circle cx="409.34" cy="705.32" r="0.75" fill="#1d4a80" stroke="none" stroke-width="0.6"/>
<circle cx="413.11" cy="702.77" r="0.75" fill="#1d4a80" stroke="none" stroke-width="0.6"/>
<circle cx="415.94" cy="697.66" r="0.75" fill="#1d4a80" stroke="none" stroke-width="0.6"/>
<circle cx="419.72" cy="700.21" r="0.75" fill="#1d4a80" stroke="none" stroke-width="0.6"/>
<circle cx="422.55" cy="702.77" r="0.75" fill="#1d4a80" stroke="none" stroke-width="0.6"/>
<circle cx="426.32" cy="705.32" r="0.75" fill="#1d4a80" stroke="none" stroke-width="0.6"/>
<circle cx="429.15" cy="707.87" r="0.75" fill="#1d4a80" stroke="none" stroke-width="0.6"/>
<circle cx="432.92" cy="710.43" r="0.75" fill="#1d4a80" stroke="none" stroke-width="0.6"/>
<circle cx="435.75" cy="712.98" r="0.75" fill="#1d4a80" stroke="none" stroke-width="0.6"/>
<circle cx="439.53" cy="718.09" r="0.75" fill="#1d4a80" stroke="none" stroke-width="0.6"/>
<circle cx="442.36" cy="720.64" r="0.75" fill="#1d4a80" stroke="none" stroke-width="0.6"/>
<circle cx="446.13" cy="723.19" r="0.75" fill="#1d4a80" stroke="none" stroke-width="0.6"/>
<circle cx="448.96" cy="725.75" r="0.75" fill="#1d4a80" stroke="none" stroke-width="0.6"/>
<rect x="0.5" y="0.5" width="519" height="765" fill="none" stroke="#555" stroke-width="1"/>
</svg>
</body></html>
